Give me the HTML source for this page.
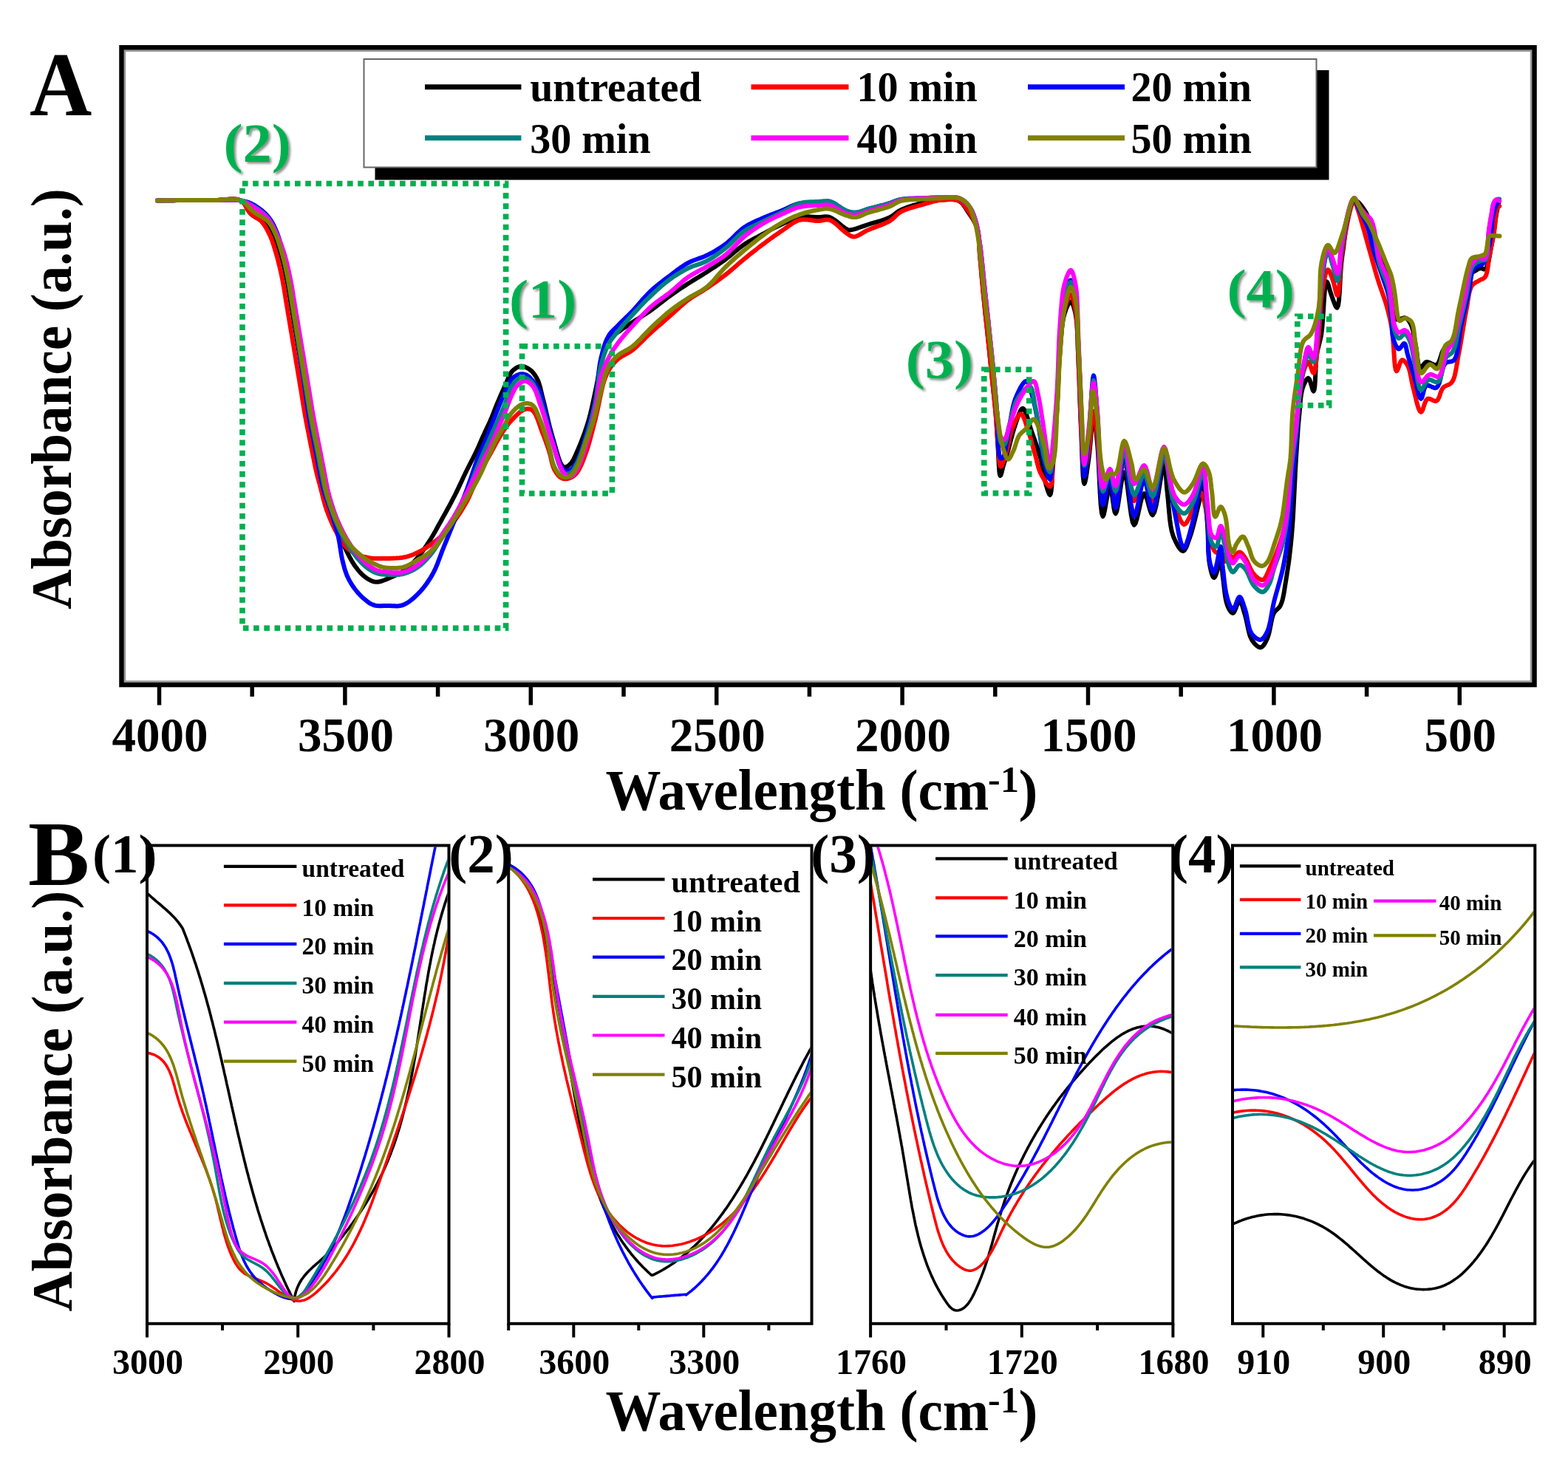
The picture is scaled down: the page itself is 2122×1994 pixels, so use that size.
<!DOCTYPE html>
<html><head><meta charset="utf-8"><title>FTIR spectra</title>
<style>html,body{margin:0;padding:0;background:#fff;} svg{display:block;} text{font-family:'Liberation Serif','Times New Roman',serif;font-weight:bold;}</style>
</head><body>
<svg width="2122" height="1994" viewBox="0 0 2122 1994">
<defs>
<filter id="tsh" x="-20%" y="-20%" width="150%" height="150%"><feDropShadow dx="2.5" dy="2.5" stdDeviation="1.6" flood-color="#000" flood-opacity="0.45"/></filter>
<clipPath id="cA"><rect x="168" y="68" width="1905" height="856"/></clipPath>
<clipPath id="cB1"><rect x="201" y="1146.5" width="404.5" height="643"/></clipPath>
<clipPath id="cB2"><rect x="690" y="1146.5" width="406.5" height="643"/></clipPath>
<clipPath id="cB3"><rect x="1180" y="1146.5" width="405.2" height="643"/></clipPath>
<clipPath id="cB4"><rect x="1670" y="1146.5" width="405.3" height="643"/></clipPath>
</defs>
<rect width="2122" height="1994" fill="#fff"/>

<g clip-path="url(#cA)" fill="none" stroke-width="6" stroke-linejoin="round" stroke-linecap="round">
<path d="M213.0,271.5 L218.3,271.4 L223.5,271.3 L228.8,271.3 L234.0,271.2 L239.3,271.1 L244.6,271.0 L250.0,271.0 L255.7,271.0 L261.4,270.9 L267.1,270.9 L272.9,270.9 L278.7,270.9 L284.4,271.0 L290.0,271.0 L295.4,270.8 L301.0,270.4 L306.6,269.9 L312.1,269.5 L317.3,269.5 L322.0,270.1 L326.0,271.5 L328.6,273.3 L330.8,275.8 L332.6,278.6 L334.3,281.6 L336.0,284.7 L337.8,287.5 L340.0,290.0 L342.6,292.1 L345.5,294.0 L348.6,295.7 L351.7,297.3 L354.7,299.0 L357.5,300.9 L360.0,303.0 L362.0,305.1 L363.7,307.4 L365.4,309.7 L366.8,312.1 L368.3,314.7 L369.6,317.3 L371.0,320.0 L372.6,323.3 L374.0,326.8 L375.4,330.5 L376.8,334.2 L378.1,338.1 L379.3,342.0 L380.5,346.0 L381.8,350.6 L383.1,355.4 L384.3,360.3 L385.4,365.3 L386.5,370.3 L387.5,375.2 L388.5,380.0 L389.3,384.4 L390.1,388.7 L390.8,392.9 L391.5,397.2 L392.1,401.4 L392.8,405.7 L393.5,410.0 L394.2,414.4 L395.0,418.8 L395.7,423.3 L396.5,427.7 L397.2,432.1 L398.0,436.6 L398.7,441.0 L399.4,445.4 L400.2,449.7 L400.9,454.1 L401.6,458.4 L402.3,462.8 L403.1,467.1 L403.8,471.5 L404.5,475.9 L405.3,480.2 L406.0,484.6 L406.7,488.9 L407.4,493.3 L408.2,497.6 L408.9,502.0 L409.6,506.4 L410.4,510.7 L411.1,515.1 L411.8,519.5 L412.5,523.9 L413.3,528.2 L414.0,532.6 L414.7,537.0 L415.4,541.4 L416.1,545.8 L416.8,550.1 L417.5,554.5 L418.3,558.8 L419.0,563.0 L419.7,566.8 L420.4,570.6 L421.1,574.3 L421.8,578.0 L422.6,581.7 L423.3,585.3 L424.0,589.0 L424.7,592.6 L425.4,596.2 L426.1,599.7 L426.9,603.3 L427.6,606.8 L428.3,610.4 L429.0,614.0 L429.7,617.7 L430.4,621.4 L431.1,625.1 L431.9,628.9 L432.6,632.6 L433.3,636.3 L434.0,640.0 L434.7,643.6 L435.4,647.2 L436.1,650.9 L436.7,654.5 L437.5,658.0 L438.2,661.6 L439.0,665.0 L439.8,668.1 L440.6,671.2 L441.4,674.2 L442.3,677.2 L443.2,680.1 L444.1,683.1 L445.0,686.0 L445.9,688.9 L446.9,691.8 L447.9,694.6 L448.9,697.5 L449.9,700.3 L450.9,703.2 L452.0,706.0 L453.1,708.9 L454.2,711.7 L455.3,714.5 L456.4,717.4 L457.6,720.2 L458.8,723.1 L460.0,726.0 L461.3,729.1 L462.7,732.3 L464.1,735.5 L465.5,738.7 L467.0,741.8 L468.5,745.0 L470.0,748.0 L471.5,750.9 L472.9,753.7 L474.5,756.5 L476.0,759.2 L477.6,761.9 L479.3,764.5 L481.0,767.0 L482.7,769.2 L484.4,771.5 L486.2,773.6 L488.1,775.7 L490.0,777.6 L492.0,779.4 L494.0,781.0 L496.0,782.4 L498.0,783.7 L500.0,784.9 L502.2,786.0 L504.3,786.9 L506.5,787.5 L508.8,787.8 L511.4,787.7 L514.1,787.3 L516.8,786.5 L519.6,785.5 L522.4,784.4 L525.2,783.2 L528.0,782.0 L531.0,780.8 L534.0,779.4 L537.1,778.0 L540.1,776.5 L543.0,774.8 L545.9,773.1 L548.6,771.2 L551.2,769.2 L553.6,767.1 L556.0,764.9 L558.3,762.5 L560.5,760.1 L562.8,757.6 L565.0,755.0 L567.5,752.0 L570.0,748.8 L572.4,745.4 L574.8,742.0 L577.2,738.5 L579.5,735.0 L581.8,731.4 L584.2,727.5 L586.6,723.6 L588.9,719.6 L591.1,715.5 L593.4,711.3 L595.7,707.2 L598.0,703.0 L600.4,698.6 L602.9,694.2 L605.3,689.8 L607.8,685.3 L610.2,680.8 L612.6,676.2 L615.0,671.6 L617.5,666.6 L620.0,661.4 L622.5,656.1 L625.0,650.8 L627.4,645.6 L629.7,640.7 L632.0,636.0 L633.8,632.5 L635.5,629.2 L637.1,626.0 L638.7,622.9 L640.3,619.8 L641.9,616.6 L643.5,613.4 L645.1,610.1 L646.6,606.7 L648.1,603.4 L649.6,600.0 L651.0,596.7 L652.5,593.3 L654.0,590.0 L655.5,586.8 L657.0,583.5 L658.5,580.3 L660.0,577.1 L661.5,573.9 L663.0,570.7 L664.4,567.5 L665.7,564.4 L666.9,561.3 L668.1,558.3 L669.3,555.2 L670.5,552.1 L671.7,549.1 L673.0,546.0 L674.3,542.9 L675.6,539.8 L676.9,536.7 L678.3,533.6 L679.7,530.5 L681.1,527.4 L682.5,524.3 L684.0,521.0 L685.4,517.5 L686.9,513.9 L688.4,510.4 L690.0,507.2 L691.7,504.3 L693.6,502.0 L695.1,500.6 L696.8,499.3 L698.5,498.1 L700.2,497.2 L702.0,496.5 L703.8,496.0 L705.5,495.8 L707.2,495.9 L708.9,496.2 L710.7,496.8 L712.4,497.6 L714.1,498.5 L715.8,499.5 L717.3,500.6 L718.9,501.9 L720.5,503.4 L721.9,505.1 L723.3,506.9 L724.6,508.9 L725.9,511.0 L727.1,513.2 L728.6,516.5 L729.8,520.2 L731.0,524.1 L732.0,528.3 L733.0,532.6 L734.1,537.2 L735.3,541.8 L737.0,548.3 L738.6,555.3 L740.3,562.7 L742.1,570.2 L743.9,577.8 L745.9,585.1 L747.9,592.1 L749.8,598.7 L751.8,605.9 L753.9,613.2 L756.0,620.1 L758.2,625.9 L760.6,630.2 L763.0,632.4 L764.5,632.6 L766.0,632.3 L767.6,631.6 L769.1,630.5 L770.6,629.3 L772.0,628.0 L773.4,626.4 L774.7,624.5 L775.9,622.4 L777.1,620.1 L778.2,617.6 L779.4,615.0 L780.6,612.2 L782.7,607.5 L784.9,602.2 L787.2,596.4 L789.5,590.4 L791.7,584.2 L793.8,578.0 L795.7,572.0 L797.4,566.0 L799.0,560.0 L800.4,553.9 L801.8,547.8 L803.1,541.7 L804.4,535.5 L805.8,529.2 L807.2,522.4 L808.6,515.2 L809.9,507.9 L811.2,500.7 L812.6,493.8 L814.1,487.3 L815.8,481.4 L817.1,477.6 L818.3,474.0 L819.6,470.5 L821.0,467.3 L822.5,464.3 L824.1,461.4 L825.9,458.8 L827.6,456.7 L829.5,454.9 L831.5,453.2 L833.6,451.6 L835.7,450.1 L837.9,448.6 L840.0,447.0 L842.2,445.4 L844.3,443.9 L846.6,442.4 L848.8,440.9 L851.1,439.4 L853.5,437.8 L856.0,436.2 L859.3,434.1 L862.7,431.9 L866.4,429.6 L870.0,427.3 L873.7,424.9 L877.4,422.5 L881.0,420.0 L884.6,417.4 L888.2,414.7 L891.7,411.9 L895.3,409.2 L898.8,406.4 L902.4,403.6 L906.0,401.0 L909.5,398.5 L913.1,396.0 L916.6,393.5 L920.2,391.1 L923.8,388.7 L927.4,386.4 L931.0,384.0 L934.7,381.7 L938.4,379.4 L942.1,377.1 L945.9,374.9 L949.6,372.6 L953.3,370.3 L957.0,368.0 L960.6,365.6 L964.2,363.3 L967.8,360.9 L971.4,358.5 L974.9,356.1 L978.5,353.6 L982.0,351.0 L985.6,348.2 L989.2,345.3 L992.7,342.3 L996.2,339.3 L999.8,336.4 L1003.4,333.6 L1007.0,331.0 L1010.5,328.7 L1014.0,326.6 L1017.6,324.6 L1021.2,322.7 L1024.8,320.8 L1028.4,318.9 L1032.0,317.0 L1035.6,315.1 L1039.1,313.1 L1042.7,311.2 L1046.2,309.3 L1049.8,307.5 L1053.4,305.7 L1057.0,304.0 L1060.5,302.3 L1064.1,300.7 L1067.6,299.0 L1071.2,297.4 L1074.7,296.0 L1078.4,294.9 L1082.0,294.0 L1085.7,293.5 L1089.4,293.3 L1093.2,293.3 L1097.0,293.5 L1100.7,293.7 L1104.3,293.9 L1107.6,294.0 L1110.0,293.9 L1112.2,293.7 L1114.3,293.5 L1116.3,293.3 L1118.4,293.3 L1120.5,293.5 L1122.7,294.0 L1125.9,295.5 L1129.4,297.7 L1133.1,300.5 L1136.6,303.4 L1139.9,306.2 L1142.9,308.5 L1145.3,310.0 L1146.9,310.8 L1148.3,311.3 L1150.0,311.4 L1152.5,311.1 L1155.6,310.4 L1159.1,309.3 L1162.9,308.0 L1166.9,306.6 L1170.8,305.3 L1174.6,304.0 L1178.8,302.7 L1183.2,301.4 L1187.7,300.1 L1192.2,298.8 L1196.5,297.3 L1200.5,295.8 L1204.2,294.2 L1206.6,292.9 L1208.7,291.5 L1210.7,290.0 L1212.5,288.5 L1214.5,287.0 L1216.6,285.6 L1219.0,284.3 L1222.6,282.7 L1226.7,281.1 L1231.0,279.5 L1235.4,278.1 L1239.9,276.8 L1244.3,275.6 L1248.5,274.5 L1252.1,273.7 L1255.7,272.9 L1259.2,272.3 L1262.7,271.8 L1266.2,271.4 L1269.7,271.0 L1273.2,270.8 L1276.8,270.6 L1280.6,270.3 L1284.3,270.1 L1288.1,270.1 L1291.6,270.3 L1294.9,270.9 L1297.8,272.0 L1300.0,273.4 L1302.0,275.2 L1303.7,277.2 L1305.3,279.5 L1306.9,281.9 L1308.4,284.4 L1310.0,286.8 L1311.9,289.6 L1313.9,292.5 L1315.9,295.5 L1317.8,298.7 L1319.5,302.0 L1321.1,305.4 L1322.4,309.0 L1323.5,313.5 L1324.3,318.3 L1324.8,323.3 L1325.1,328.5 L1325.3,333.9 L1325.6,339.4 L1326.0,345.0 L1326.7,352.2 L1327.4,359.8 L1328.0,367.6 L1328.7,375.6 L1329.5,383.7 L1330.2,391.9 L1331.0,400.0 L1331.9,408.7 L1332.8,417.7 L1333.7,426.7 L1334.7,435.7 L1335.7,444.7 L1336.6,453.5 L1337.5,462.0 L1338.3,469.3 L1339.0,476.4 L1339.7,483.4 L1340.4,490.3 L1341.1,497.2 L1341.8,504.1 L1342.5,511.0 L1343.2,518.0 L1344.0,525.1 L1344.7,532.1 L1345.5,539.1 L1346.2,546.1 L1346.9,553.1 L1347.5,560.0 L1348.0,566.6 L1348.5,573.1 L1348.9,579.6 L1349.3,586.0 L1349.7,592.4 L1350.1,598.8 L1350.5,605.0 L1350.9,611.4 L1351.2,618.6 L1351.6,625.9 L1352.0,632.8 L1352.4,638.5 L1353.0,642.5 L1353.7,644.0 L1354.2,643.5 L1354.8,642.2 L1355.4,640.2 L1356.0,637.7 L1356.7,635.0 L1357.3,632.4 L1358.0,630.0 L1358.8,627.3 L1359.7,624.6 L1360.6,621.8 L1361.5,618.9 L1362.4,615.9 L1363.3,612.7 L1364.3,609.5 L1365.6,605.0 L1366.9,600.1 L1368.2,594.9 L1369.6,589.7 L1371.0,584.5 L1372.5,579.6 L1374.0,575.0 L1375.3,571.1 L1376.7,566.9 L1378.1,562.7 L1379.6,558.9 L1381.1,555.7 L1382.5,553.6 L1384.0,552.8 L1385.7,554.0 L1387.5,557.3 L1389.3,561.9 L1391.1,567.6 L1392.8,573.6 L1394.6,579.5 L1396.3,584.8 L1398.2,590.0 L1400.1,595.3 L1402.0,600.7 L1403.8,606.1 L1405.6,611.5 L1407.2,616.7 L1408.6,621.8 L1409.6,626.0 L1410.4,630.3 L1411.1,634.4 L1411.7,638.5 L1412.4,642.4 L1413.1,646.3 L1414.0,650.0 L1414.9,653.4 L1415.9,657.2 L1417.0,661.0 L1418.1,664.5 L1419.2,667.4 L1420.2,669.3 L1421.0,670.0 L1421.9,668.5 L1422.6,664.7 L1423.2,659.0 L1423.6,652.2 L1424.1,644.7 L1424.5,637.1 L1425.0,630.0 L1425.8,620.3 L1426.6,609.8 L1427.4,598.6 L1428.3,587.2 L1429.0,575.5 L1429.8,564.0 L1430.5,552.7 L1431.1,541.5 L1431.6,530.2 L1432.1,518.8 L1432.6,507.5 L1433.1,496.4 L1433.7,485.8 L1434.5,475.6 L1435.1,467.6 L1435.7,459.5 L1436.4,451.7 L1437.1,444.1 L1438.0,437.1 L1439.1,430.6 L1440.5,425.0 L1441.6,421.7 L1442.7,418.4 L1444.0,415.3 L1445.4,412.4 L1446.7,410.2 L1447.9,408.7 L1449.1,408.2 L1450.1,408.8 L1451.2,410.3 L1452.1,412.5 L1453.1,415.2 L1453.9,418.4 L1454.8,421.7 L1455.5,425.0 L1456.6,431.9 L1457.5,440.1 L1458.0,449.3 L1458.4,459.1 L1458.7,469.4 L1459.1,479.8 L1459.5,490.0 L1460.1,502.2 L1460.6,514.9 L1461.0,528.0 L1461.5,541.2 L1461.9,554.5 L1462.4,567.5 L1463.0,580.0 L1463.5,592.4 L1464.0,606.2 L1464.5,620.4 L1465.1,633.5 L1465.7,644.5 L1466.5,652.0 L1467.4,654.8 L1468.1,653.6 L1469.0,650.2 L1469.9,645.3 L1470.8,639.2 L1471.7,632.6 L1472.7,626.1 L1473.5,620.0 L1474.5,611.5 L1475.5,601.2 L1476.4,590.3 L1477.3,579.7 L1478.2,570.8 L1479.1,564.6 L1480.0,562.3 L1480.7,563.6 L1481.5,567.0 L1482.2,572.2 L1482.9,578.6 L1483.6,585.7 L1484.3,593.0 L1485.0,600.0 L1486.0,613.4 L1486.9,630.6 L1487.8,649.5 L1488.7,667.9 L1489.7,683.7 L1491.0,694.8 L1492.5,699.1 L1493.7,696.9 L1495.0,691.2 L1496.4,683.3 L1497.9,674.6 L1499.4,666.7 L1500.8,660.9 L1502.1,658.7 L1503.3,660.7 L1504.4,666.0 L1505.4,673.1 L1506.5,680.9 L1507.5,688.1 L1508.6,693.3 L1509.8,695.3 L1511.3,692.2 L1512.9,684.2 L1514.6,673.3 L1516.3,661.4 L1518.0,650.5 L1519.7,642.5 L1521.4,639.4 L1523.3,643.3 L1525.1,653.5 L1526.9,667.4 L1528.8,682.5 L1530.7,696.4 L1532.7,706.7 L1534.9,710.7 L1536.7,708.4 L1538.6,702.4 L1540.5,694.2 L1542.5,685.1 L1544.4,676.8 L1546.4,670.7 L1548.4,668.3 L1550.0,669.9 L1551.7,674.0 L1553.4,679.7 L1555.0,685.9 L1556.7,691.6 L1558.3,695.7 L1559.9,697.2 L1562.3,693.3 L1564.8,683.6 L1567.2,670.4 L1569.5,656.1 L1571.7,642.9 L1573.7,633.4 L1575.3,629.7 L1576.3,631.2 L1577.0,635.1 L1577.7,640.9 L1578.2,647.9 L1578.7,655.4 L1579.3,662.8 L1580.0,669.5 L1580.8,677.2 L1581.5,685.5 L1582.3,694.2 L1583.1,702.8 L1584.2,711.0 L1585.6,718.5 L1587.5,725.0 L1589.1,729.1 L1591.0,733.2 L1593.0,737.2 L1595.1,740.7 L1597.2,743.5 L1599.2,745.4 L1601.0,746.0 L1602.4,745.3 L1603.8,743.7 L1605.1,741.2 L1606.4,738.2 L1607.6,734.8 L1608.8,731.4 L1610.0,728.0 L1611.9,722.6 L1613.7,716.3 L1615.5,709.5 L1617.3,702.5 L1619.0,695.6 L1620.5,689.0 L1622.0,683.0 L1623.0,678.5 L1623.9,673.7 L1624.8,668.9 L1625.7,664.4 L1626.5,660.8 L1627.2,658.4 L1628.0,657.5 L1629.0,659.5 L1630.0,664.9 L1630.9,672.7 L1631.8,682.0 L1632.6,691.9 L1633.3,701.5 L1634.0,710.0 L1634.5,717.9 L1634.8,726.2 L1635.0,734.6 L1635.2,742.9 L1635.6,750.7 L1636.1,757.8 L1637.0,764.0 L1637.7,767.4 L1638.4,770.9 L1639.2,774.3 L1640.1,777.3 L1641.0,779.7 L1642.0,781.4 L1643.0,782.0 L1644.2,780.9 L1645.6,777.8 L1647.0,773.7 L1648.4,769.2 L1649.8,765.1 L1651.0,762.1 L1652.0,761.0 L1652.7,761.8 L1653.2,763.9 L1653.6,766.9 L1653.9,770.5 L1654.2,774.4 L1654.6,778.3 L1655.0,782.0 L1655.7,787.0 L1656.3,792.6 L1657.0,798.6 L1657.7,804.5 L1658.6,810.2 L1659.7,815.2 L1661.0,819.4 L1661.9,821.5 L1662.9,823.7 L1664.0,825.7 L1665.1,827.4 L1666.3,828.8 L1667.4,829.7 L1668.5,830.0 L1669.8,829.0 L1671.1,826.6 L1672.5,823.3 L1673.8,819.8 L1675.1,816.6 L1676.3,814.3 L1677.5,813.4 L1678.7,814.2 L1679.8,816.1 L1680.9,818.8 L1681.9,822.2 L1682.9,825.9 L1684.0,829.6 L1685.0,833.0 L1686.2,837.4 L1687.3,842.4 L1688.4,847.6 L1689.5,852.9 L1690.7,857.8 L1692.2,862.3 L1694.0,866.0 L1695.5,868.2 L1697.2,870.4 L1699.0,872.4 L1700.8,874.1 L1702.6,875.4 L1704.4,876.2 L1706.0,876.4 L1707.4,875.9 L1708.8,874.8 L1710.2,873.2 L1711.5,871.3 L1712.7,869.1 L1713.9,866.7 L1715.0,864.4 L1716.5,860.3 L1717.8,855.4 L1718.9,849.9 L1720.0,844.3 L1721.1,838.8 L1722.4,834.0 L1724.0,830.0 L1725.2,828.1 L1726.5,826.6 L1727.9,825.3 L1729.2,824.1 L1730.6,822.8 L1731.9,821.3 L1733.0,819.4 L1734.5,815.7 L1735.8,811.4 L1736.8,806.7 L1737.8,801.6 L1738.6,796.2 L1739.5,790.6 L1740.4,785.0 L1741.6,777.5 L1742.8,769.6 L1744.0,761.4 L1745.1,752.8 L1746.1,743.9 L1747.1,734.6 L1748.0,725.0 L1749.1,711.3 L1750.1,696.2 L1750.9,680.3 L1751.7,664.2 L1752.5,648.4 L1753.2,633.5 L1754.0,620.0 L1754.6,611.1 L1755.1,602.7 L1755.6,594.7 L1756.2,587.0 L1756.7,579.6 L1757.3,572.2 L1758.0,565.0 L1758.6,558.7 L1759.1,552.4 L1759.6,546.2 L1760.1,540.2 L1760.9,534.6 L1761.8,529.4 L1763.0,525.0 L1763.9,522.4 L1765.0,519.8 L1766.1,517.4 L1767.2,515.2 L1768.4,513.4 L1769.5,512.3 L1770.6,511.9 L1771.7,512.9 L1772.8,515.5 L1773.9,519.0 L1775.0,522.7 L1776.0,526.2 L1776.9,528.6 L1777.7,529.5 L1778.7,527.4 L1779.4,522.0 L1779.9,514.3 L1780.3,505.3 L1780.7,495.9 L1781.2,487.2 L1782.0,480.0 L1782.8,475.7 L1783.7,471.8 L1784.6,468.1 L1785.6,464.4 L1786.5,460.6 L1787.5,456.5 L1788.3,451.9 L1789.4,442.3 L1790.3,430.0 L1791.2,416.6 L1792.0,403.5 L1792.9,392.2 L1793.9,384.3 L1795.3,381.2 L1796.1,381.9 L1797.0,383.8 L1798.0,386.6 L1798.9,390.0 L1799.9,393.6 L1801.0,397.0 L1802.0,400.0 L1803.0,402.7 L1804.1,405.9 L1805.3,409.1 L1806.4,412.0 L1807.5,414.5 L1808.6,416.1 L1809.5,416.6 L1811.0,413.7 L1812.0,406.5 L1812.8,396.0 L1813.5,383.6 L1814.2,370.3 L1815.2,357.4 L1816.5,346.0 L1818.2,334.2 L1819.9,320.8 L1821.8,306.9 L1824.0,293.8 L1826.4,282.6 L1829.2,274.6 L1832.4,271.0 L1834.3,271.1 L1836.4,272.2 L1838.6,274.1 L1840.9,276.6 L1843.1,279.4 L1845.2,282.3 L1847.0,285.0 L1848.8,288.0 L1850.4,291.3 L1851.9,294.8 L1853.2,298.5 L1854.5,302.2 L1855.7,306.1 L1857.0,310.0 L1858.5,314.7 L1859.9,319.6 L1861.3,324.6 L1862.7,329.8 L1864.1,334.9 L1865.5,340.0 L1867.0,345.0 L1868.6,349.8 L1870.2,354.5 L1871.9,359.2 L1873.6,363.9 L1875.2,368.6 L1876.7,373.3 L1878.0,378.0 L1879.1,382.6 L1880.1,387.3 L1881.0,392.0 L1881.8,396.7 L1882.5,401.3 L1883.3,405.7 L1884.0,410.0 L1884.5,413.6 L1884.9,417.4 L1885.2,421.2 L1885.6,424.8 L1886.1,427.9 L1886.9,430.4 L1888.0,432.0 L1889.4,432.6 L1891.0,432.6 L1892.8,432.2 L1894.5,431.9 L1896.0,431.6 L1897.5,431.0 L1899.1,430.5 L1900.6,430.2 L1902.0,430.4 L1903.2,431.0 L1904.4,431.9 L1905.5,433.0 L1906.6,434.4 L1907.6,436.0 L1908.6,437.6 L1909.5,439.4 L1910.8,442.6 L1911.9,446.3 L1912.8,450.4 L1913.6,454.8 L1914.4,459.3 L1915.2,463.7 L1916.0,468.0 L1916.8,472.7 L1917.5,478.1 L1918.1,483.6 L1918.8,488.8 L1919.6,493.3 L1920.7,496.5 L1922.0,498.0 L1923.0,497.8 L1924.0,496.9 L1925.2,495.4 L1926.4,493.7 L1927.6,492.1 L1929.0,490.7 L1930.4,490.0 L1932.2,490.0 L1934.1,490.7 L1936.2,491.7 L1938.3,492.8 L1940.4,493.8 L1942.3,494.2 L1944.0,494.0 L1945.7,492.5 L1947.2,490.0 L1948.5,486.9 L1949.6,483.3 L1950.7,479.8 L1951.8,476.6 L1953.0,474.0 L1954.0,472.4 L1955.0,470.9 L1955.9,469.5 L1956.9,468.2 L1957.9,467.1 L1959.0,466.0 L1960.5,465.0 L1962.0,464.2 L1963.6,463.4 L1965.0,461.9 L1966.6,458.9 L1968.0,454.8 L1969.2,450.0 L1970.4,444.6 L1971.5,438.9 L1972.7,433.1 L1974.0,427.4 L1975.7,419.6 L1977.4,410.7 L1979.1,401.3 L1981.0,392.0 L1982.9,383.6 L1985.0,376.7 L1987.4,372.0 L1988.8,370.4 L1990.3,369.4 L1991.8,368.7 L1993.4,368.1 L1995.0,367.4 L1996.4,366.6 L1998.0,365.6 L1999.5,364.7 L2001.0,363.9 L2002.5,363.3 L2003.9,363.0 L2005.5,363.3 L2007.0,364.0 L2008.5,364.6 L2009.9,364.4 L2011.6,362.3 L2013.1,358.5 L2014.5,353.5 L2015.7,347.8 L2016.8,341.6 L2017.8,335.5 L2018.9,330.0 L2020.0,324.3 L2020.9,318.4 L2021.8,312.3 L2022.6,306.3 L2023.4,300.4 L2024.2,295.0 L2025.0,290.0 L2025.6,286.9 L2026.2,284.1 L2026.7,281.4 L2027.3,278.8 L2027.9,276.2 L2028.4,273.7 L2029.0,271.0" stroke="#000000"/>
<path d="M213.0,271.5 L218.3,271.4 L223.5,271.3 L228.8,271.3 L234.0,271.2 L239.3,271.1 L244.6,271.0 L250.0,271.0 L255.7,271.0 L261.4,270.9 L267.1,270.9 L272.9,270.9 L278.7,270.9 L284.4,271.0 L290.0,271.0 L295.4,270.8 L301.1,270.4 L306.8,269.9 L312.3,269.6 L317.4,269.6 L322.1,270.1 L326.0,271.5 L328.4,273.2 L330.3,275.3 L331.8,277.8 L333.2,280.5 L334.6,283.2 L336.2,285.8 L338.0,288.0 L340.1,289.9 L342.4,291.6 L344.8,293.2 L347.3,294.7 L349.7,296.3 L352.0,298.0 L354.0,300.0 L355.9,302.2 L357.6,304.6 L359.2,307.0 L360.8,309.6 L362.2,312.3 L363.6,315.1 L365.0,318.0 L366.6,321.6 L368.1,325.4 L369.4,329.3 L370.8,333.4 L372.0,337.6 L373.3,341.8 L374.5,346.0 L375.8,350.7 L377.0,355.5 L378.2,360.4 L379.4,365.4 L380.5,370.3 L381.5,375.2 L382.5,380.0 L383.3,384.4 L384.1,388.7 L384.8,392.9 L385.5,397.2 L386.1,401.4 L386.8,405.7 L387.5,410.0 L388.2,414.4 L389.0,418.8 L389.7,423.3 L390.5,427.7 L391.2,432.1 L392.0,436.6 L392.7,441.0 L393.4,445.4 L394.2,449.7 L394.9,454.1 L395.6,458.4 L396.3,462.8 L397.1,467.1 L397.8,471.5 L398.5,475.9 L399.3,480.2 L400.0,484.6 L400.7,488.9 L401.4,493.3 L402.2,497.6 L402.9,502.0 L403.6,506.4 L404.4,510.7 L405.1,515.1 L405.8,519.5 L406.5,523.9 L407.3,528.2 L408.0,532.6 L408.7,537.0 L409.4,541.4 L410.1,545.8 L410.8,550.1 L411.5,554.5 L412.3,558.8 L413.0,563.0 L413.7,566.8 L414.4,570.6 L415.1,574.3 L415.8,578.0 L416.6,581.7 L417.3,585.3 L418.0,589.0 L418.7,592.6 L419.4,596.2 L420.1,599.8 L420.8,603.3 L421.6,606.9 L422.3,610.5 L423.0,614.0 L423.7,617.5 L424.4,620.9 L425.1,624.4 L425.8,627.8 L426.5,631.2 L427.2,634.6 L428.0,638.0 L428.8,641.3 L429.6,644.6 L430.5,647.9 L431.4,651.2 L432.3,654.4 L433.1,657.7 L434.0,661.0 L434.8,664.3 L435.7,667.6 L436.5,671.0 L437.3,674.3 L438.2,677.6 L439.1,680.8 L440.0,684.0 L440.9,686.8 L441.8,689.6 L442.8,692.3 L443.8,695.0 L444.8,697.7 L445.9,700.3 L447.0,703.0 L448.2,705.7 L449.4,708.5 L450.6,711.2 L451.9,714.0 L453.2,716.7 L454.6,719.4 L456.0,722.0 L457.5,724.7 L459.1,727.4 L460.7,730.2 L462.4,732.9 L464.1,735.4 L466.0,737.8 L467.9,740.0 L469.7,741.8 L471.6,743.4 L473.6,745.0 L475.6,746.4 L477.7,747.7 L479.8,748.9 L482.0,750.0 L484.2,751.0 L486.6,751.9 L488.9,752.7 L491.3,753.4 L493.8,754.0 L496.3,754.5 L498.8,755.0 L501.5,755.4 L504.2,755.7 L507.0,755.9 L509.8,756.0 L512.7,756.0 L515.6,756.0 L518.7,756.0 L522.7,756.0 L527.1,755.9 L531.6,755.7 L536.1,755.5 L540.6,755.2 L544.8,754.7 L548.6,754.0 L551.3,753.4 L553.8,752.7 L556.1,751.9 L558.4,751.0 L560.7,750.1 L562.9,749.1 L565.2,748.0 L567.6,746.8 L570.0,745.5 L572.4,744.1 L574.8,742.7 L577.1,741.2 L579.5,739.6 L581.8,738.0 L584.2,736.3 L586.6,734.5 L589.0,732.7 L591.4,730.9 L593.8,728.9 L596.1,726.9 L598.4,724.7 L600.9,722.2 L603.3,719.6 L605.7,716.8 L608.1,714.0 L610.4,711.1 L612.7,708.1 L615.0,705.0 L617.5,701.6 L619.9,698.1 L622.3,694.5 L624.7,690.8 L627.0,687.0 L629.3,683.0 L631.6,679.0 L634.1,674.2 L636.4,669.1 L638.7,663.9 L641.0,658.6 L643.3,653.3 L645.6,648.0 L648.0,643.0 L650.3,638.4 L652.8,633.8 L655.2,629.3 L657.6,624.8 L660.1,620.5 L662.5,616.2 L664.8,612.0 L666.8,608.3 L668.8,604.7 L670.7,601.1 L672.7,597.6 L674.6,594.3 L676.5,591.0 L678.3,588.0 L679.7,585.7 L681.1,583.6 L682.5,581.5 L683.9,579.5 L685.2,577.6 L686.6,575.8 L688.0,574.0 L689.2,572.5 L690.4,571.1 L691.6,569.8 L692.8,568.5 L694.0,567.2 L695.2,565.9 L696.4,564.7 L697.6,563.5 L698.8,562.3 L700.0,561.1 L701.2,560.0 L702.5,558.9 L703.7,557.9 L705.0,557.0 L706.6,556.0 L708.2,555.1 L709.8,554.3 L711.5,553.7 L713.1,553.5 L714.8,553.5 L716.5,553.7 L718.2,554.2 L719.9,555.1 L721.5,556.3 L723.5,558.9 L725.5,562.5 L727.3,566.8 L729.1,571.6 L730.8,576.5 L732.4,581.3 L734.0,585.6 L735.4,589.2 L736.8,592.7 L738.1,596.1 L739.3,599.6 L740.5,603.0 L741.7,606.5 L742.9,610.0 L744.0,613.8 L745.0,617.7 L745.9,621.7 L746.8,625.7 L747.8,629.4 L749.0,632.9 L750.4,636.0 L751.6,638.1 L752.9,640.1 L754.3,642.0 L755.8,643.8 L757.3,645.3 L758.9,646.5 L760.5,647.4 L762.1,648.0 L763.7,648.2 L765.5,648.3 L767.2,648.2 L768.9,647.9 L770.5,647.4 L772.0,646.8 L773.5,646.1 L775.0,645.2 L776.4,644.2 L777.9,642.9 L779.3,641.6 L780.6,640.0 L782.6,637.1 L784.5,633.7 L786.4,629.9 L788.2,625.7 L789.9,621.3 L791.5,616.8 L793.2,612.2 L795.2,606.4 L797.0,600.3 L798.8,594.0 L800.5,587.5 L802.3,580.7 L804.0,573.9 L805.8,567.0 L807.8,558.5 L809.8,549.4 L811.7,539.9 L813.7,530.6 L815.8,521.6 L818.2,513.6 L820.9,506.7 L822.8,503.0 L824.7,499.7 L826.7,496.7 L828.8,493.9 L831.1,491.3 L833.4,488.9 L835.9,486.5 L838.5,484.4 L841.2,482.6 L844.1,481.0 L847.1,479.4 L850.1,477.8 L853.0,476.0 L856.0,473.9 L859.5,471.0 L863.1,467.7 L866.7,464.2 L870.3,460.6 L873.9,457.0 L877.6,453.4 L881.2,450.0 L884.8,446.8 L888.4,443.6 L892.0,440.5 L895.6,437.4 L899.2,434.2 L902.8,431.1 L906.4,428.0 L910.0,424.8 L913.5,421.6 L917.1,418.3 L920.6,415.1 L924.2,411.9 L927.8,408.9 L931.5,406.0 L935.0,403.5 L938.6,401.1 L942.2,398.9 L945.9,396.7 L949.5,394.6 L953.1,392.3 L956.7,390.0 L960.3,387.5 L963.9,385.1 L967.5,382.5 L971.1,380.0 L974.7,377.4 L978.3,374.7 L981.8,372.0 L985.4,369.1 L989.0,366.1 L992.6,363.0 L996.2,359.9 L999.8,356.8 L1003.4,353.7 L1007.0,350.7 L1010.6,347.8 L1014.1,344.9 L1017.7,342.1 L1021.3,339.3 L1024.9,336.5 L1028.5,333.7 L1032.1,331.0 L1035.7,328.3 L1039.2,325.7 L1042.8,323.1 L1046.4,320.5 L1050.0,317.9 L1053.7,315.4 L1057.3,313.0 L1060.8,310.6 L1064.4,308.0 L1067.9,305.4 L1071.5,303.0 L1075.1,300.8 L1078.7,299.0 L1082.4,297.8 L1086.0,297.2 L1089.7,297.2 L1093.4,297.5 L1097.2,298.0 L1100.8,298.5 L1104.3,299.0 L1107.6,299.1 L1110.0,298.9 L1112.2,298.5 L1114.3,298.1 L1116.4,297.6 L1118.4,297.4 L1120.5,297.4 L1122.7,297.8 L1125.9,299.2 L1129.2,301.5 L1132.7,304.4 L1136.1,307.5 L1139.4,310.6 L1142.5,313.3 L1145.3,315.4 L1146.9,316.5 L1148.3,317.5 L1149.7,318.4 L1151.0,319.2 L1152.4,319.9 L1153.8,320.3 L1155.4,320.5 L1157.8,320.2 L1160.3,319.3 L1163.0,317.9 L1165.7,316.3 L1168.6,314.6 L1171.6,312.9 L1174.6,311.4 L1178.6,309.7 L1182.9,308.1 L1187.4,306.4 L1192.0,304.7 L1196.4,302.9 L1200.5,301.1 L1204.2,299.1 L1206.6,297.4 L1208.7,295.6 L1210.7,293.8 L1212.5,291.9 L1214.4,290.1 L1216.6,288.4 L1219.0,286.8 L1222.6,285.0 L1226.6,283.4 L1230.9,282.0 L1235.4,280.6 L1239.9,279.4 L1244.3,278.2 L1248.5,277.0 L1252.1,275.9 L1255.7,274.8 L1259.2,273.8 L1262.7,272.8 L1266.2,272.0 L1269.7,271.3 L1273.2,270.8 L1276.8,270.5 L1280.5,270.2 L1284.3,270.0 L1288.0,270.0 L1291.6,270.3 L1294.9,271.0 L1297.8,272.0 L1300.0,273.2 L1301.9,274.7 L1303.7,276.5 L1305.3,278.4 L1306.9,280.5 L1308.4,282.7 L1310.0,285.0 L1312.0,287.9 L1314.0,291.0 L1316.0,294.3 L1317.8,297.8 L1319.6,301.4 L1321.1,305.1 L1322.4,309.0 L1323.5,313.6 L1324.3,318.4 L1324.7,323.4 L1325.0,328.6 L1325.3,333.9 L1325.6,339.4 L1326.0,345.0 L1326.7,352.2 L1327.4,359.8 L1328.0,367.6 L1328.7,375.6 L1329.5,383.7 L1330.2,391.9 L1331.0,400.0 L1331.9,408.7 L1332.8,417.7 L1333.7,426.7 L1334.7,435.7 L1335.7,444.7 L1336.6,453.5 L1337.5,462.0 L1338.3,469.3 L1339.0,476.4 L1339.7,483.4 L1340.4,490.3 L1341.1,497.2 L1341.8,504.1 L1342.5,511.0 L1343.2,518.0 L1344.0,525.1 L1344.7,532.3 L1345.5,539.3 L1346.2,546.4 L1346.9,553.3 L1347.5,560.0 L1348.0,566.0 L1348.4,571.9 L1348.8,577.7 L1349.2,583.4 L1349.6,589.0 L1350.0,594.6 L1350.5,600.0 L1350.9,605.3 L1351.4,611.1 L1351.8,617.0 L1352.2,622.6 L1352.8,627.2 L1353.5,630.3 L1354.4,631.6 L1355.3,631.0 L1356.3,629.1 L1357.4,626.3 L1358.6,622.9 L1359.8,619.2 L1360.9,615.4 L1362.0,612.0 L1363.2,607.8 L1364.2,603.2 L1365.2,598.4 L1366.2,593.5 L1367.3,588.7 L1368.5,584.2 L1370.0,580.0 L1371.4,576.5 L1373.0,572.7 L1374.7,568.9 L1376.5,565.5 L1378.2,562.7 L1379.9,560.8 L1381.5,560.2 L1383.1,561.2 L1384.7,563.7 L1386.3,567.3 L1387.8,571.6 L1389.2,576.2 L1390.6,580.8 L1392.0,585.0 L1393.5,589.3 L1394.9,593.9 L1396.2,598.6 L1397.5,603.3 L1398.7,607.9 L1400.0,612.5 L1401.2,616.8 L1402.2,620.3 L1403.0,623.8 L1403.8,627.2 L1404.7,630.5 L1405.6,633.8 L1406.7,636.9 L1408.0,640.0 L1409.6,643.2 L1411.6,646.8 L1413.7,650.5 L1415.8,653.8 L1417.9,656.5 L1419.7,658.3 L1421.2,658.7 L1422.5,657.0 L1423.4,653.2 L1423.9,647.7 L1424.1,641.1 L1424.3,633.9 L1424.6,626.7 L1425.0,620.0 L1425.8,611.4 L1426.6,602.3 L1427.4,592.7 L1428.2,582.8 L1429.0,572.8 L1429.8,562.7 L1430.5,552.7 L1431.1,541.9 L1431.7,530.7 L1432.2,519.4 L1432.7,508.0 L1433.2,496.9 L1433.8,486.0 L1434.5,475.6 L1435.2,466.9 L1435.8,458.3 L1436.4,449.7 L1437.2,441.5 L1438.1,433.6 L1439.2,426.4 L1440.5,420.0 L1441.6,416.0 L1442.7,411.8 L1444.0,407.7 L1445.4,404.1 L1446.7,401.1 L1447.9,399.2 L1449.1,398.5 L1450.1,399.2 L1451.2,401.2 L1452.1,404.1 L1453.1,407.6 L1453.9,411.7 L1454.8,415.9 L1455.5,420.0 L1456.6,427.8 L1457.3,436.8 L1457.9,446.8 L1458.3,457.4 L1458.7,468.3 L1459.1,479.3 L1459.5,490.0 L1460.0,501.8 L1460.5,514.0 L1461.0,526.5 L1461.4,539.0 L1461.9,551.3 L1462.4,563.4 L1463.0,575.0 L1463.5,585.8 L1464.0,597.8 L1464.5,609.9 L1465.1,621.2 L1465.7,630.6 L1466.5,637.0 L1467.4,639.4 L1468.1,638.4 L1469.0,635.6 L1469.9,631.4 L1470.8,626.4 L1471.8,620.8 L1472.7,615.2 L1473.5,610.0 L1474.5,602.3 L1475.5,592.8 L1476.4,582.6 L1477.3,572.8 L1478.2,564.5 L1479.1,558.7 L1480.0,556.5 L1480.7,557.6 L1481.4,560.8 L1482.2,565.4 L1482.9,571.1 L1483.6,577.4 L1484.3,583.9 L1485.0,590.0 L1485.9,600.8 L1486.7,614.4 L1487.4,629.2 L1488.3,643.6 L1489.3,656.0 L1490.7,664.7 L1492.5,668.3 L1493.7,667.4 L1495.0,664.9 L1496.5,661.2 L1497.9,657.3 L1499.4,653.6 L1500.8,651.0 L1502.1,650.0 L1503.3,651.4 L1504.5,654.7 L1505.6,659.2 L1506.6,664.1 L1507.7,668.5 L1508.7,671.8 L1509.8,673.0 L1511.4,670.3 L1513.0,663.4 L1514.7,654.0 L1516.3,643.9 L1518.0,634.5 L1519.7,627.7 L1521.4,625.0 L1523.2,627.9 L1525.0,635.4 L1526.8,645.7 L1528.7,656.9 L1530.6,667.3 L1532.7,674.9 L1534.9,678.0 L1536.7,676.6 L1538.6,672.6 L1540.6,667.1 L1542.6,661.1 L1544.6,655.5 L1546.6,651.5 L1548.4,650.0 L1550.2,651.7 L1551.9,656.1 L1553.5,661.9 L1555.1,668.3 L1556.7,674.2 L1558.3,678.4 L1559.9,680.0 L1562.1,676.6 L1564.4,668.0 L1566.6,656.2 L1568.9,643.5 L1571.0,631.8 L1573.2,623.3 L1575.3,620.0 L1577.3,622.5 L1579.2,629.1 L1581.0,638.5 L1582.8,649.5 L1584.7,661.0 L1586.8,671.5 L1589.0,680.0 L1590.8,685.4 L1592.6,691.1 L1594.5,696.7 L1596.5,701.8 L1598.5,706.0 L1600.5,708.9 L1602.5,710.0 L1604.2,709.3 L1605.9,707.4 L1607.7,704.4 L1609.5,700.9 L1611.2,697.1 L1612.9,693.3 L1614.5,690.0 L1616.1,686.4 L1617.8,682.2 L1619.4,677.9 L1620.9,673.7 L1622.4,670.2 L1623.7,667.9 L1625.0,667.0 L1625.8,667.4 L1626.6,668.6 L1627.3,670.3 L1628.0,672.4 L1628.6,674.8 L1629.3,677.4 L1630.0,680.0 L1631.4,686.5 L1632.7,694.9 L1634.1,704.5 L1635.4,714.4 L1636.8,723.8 L1638.3,731.9 L1640.0,738.0 L1640.8,740.1 L1641.6,742.0 L1642.4,743.7 L1643.2,745.3 L1644.1,746.5 L1645.0,747.4 L1646.0,748.0 L1647.4,747.9 L1649.0,747.0 L1650.6,746.1 L1652.0,746.0 L1653.1,747.1 L1654.0,749.3 L1654.8,751.9 L1655.5,754.8 L1656.3,757.3 L1657.1,759.2 L1658.0,760.0 L1658.9,759.5 L1659.9,758.1 L1660.9,756.2 L1662.0,754.3 L1663.0,752.7 L1664.0,752.0 L1665.4,752.7 L1666.9,754.2 L1668.5,755.0 L1669.6,754.5 L1670.9,753.4 L1672.2,751.9 L1673.6,750.3 L1674.9,748.8 L1676.3,747.8 L1677.5,747.4 L1678.6,747.7 L1679.7,748.4 L1680.8,749.4 L1681.8,750.6 L1682.9,752.0 L1683.9,753.5 L1685.0,755.0 L1686.6,757.6 L1688.3,760.9 L1689.9,764.4 L1691.5,768.1 L1693.2,771.6 L1695.0,774.8 L1697.0,777.4 L1698.6,779.1 L1700.3,780.7 L1702.2,782.3 L1704.0,783.6 L1705.8,784.5 L1707.5,785.0 L1709.0,785.0 L1710.5,784.2 L1711.9,782.7 L1713.2,780.6 L1714.4,778.1 L1715.6,775.4 L1716.8,772.7 L1718.0,770.0 L1719.7,766.4 L1721.5,762.6 L1723.3,758.5 L1725.1,754.3 L1726.8,750.0 L1728.5,745.7 L1730.0,741.4 L1731.5,737.1 L1732.9,733.0 L1734.2,728.8 L1735.5,724.6 L1736.7,720.1 L1737.9,715.2 L1739.0,710.0 L1740.6,700.9 L1742.1,690.7 L1743.4,679.7 L1744.6,668.3 L1745.8,656.8 L1746.9,645.6 L1748.0,635.0 L1749.0,626.0 L1749.8,617.2 L1750.7,608.5 L1751.5,600.0 L1752.3,591.5 L1753.1,583.2 L1754.0,575.0 L1754.8,567.5 L1755.6,559.9 L1756.5,552.3 L1757.3,545.0 L1758.2,537.9 L1759.1,531.2 L1760.0,525.0 L1760.6,520.9 L1761.3,516.9 L1761.9,513.0 L1762.5,509.4 L1763.3,506.0 L1764.1,502.9 L1765.0,500.0 L1765.7,498.1 L1766.5,496.2 L1767.3,494.3 L1768.1,492.6 L1768.9,491.2 L1769.8,490.3 L1770.6,490.0 L1771.6,490.9 L1772.7,493.1 L1773.7,496.0 L1774.8,499.2 L1775.8,502.2 L1776.8,504.3 L1777.7,505.0 L1779.0,503.2 L1780.0,498.8 L1780.9,492.3 L1781.7,484.6 L1782.5,476.1 L1783.2,467.7 L1784.0,460.0 L1784.9,450.5 L1785.7,440.1 L1786.4,429.2 L1787.1,418.3 L1787.8,407.8 L1788.8,398.3 L1790.0,390.0 L1790.8,385.3 L1791.8,380.5 L1792.7,375.8 L1793.7,371.6 L1794.8,368.2 L1795.9,365.9 L1797.0,365.0 L1797.9,365.5 L1799.0,366.9 L1800.0,369.1 L1801.0,371.8 L1802.1,374.6 L1803.1,377.4 L1804.0,380.0 L1805.0,383.0 L1805.9,386.7 L1806.8,390.5 L1807.6,394.1 L1808.5,397.2 L1809.2,399.3 L1810.0,400.0 L1811.1,397.7 L1812.0,391.6 L1812.7,382.7 L1813.4,372.1 L1814.2,360.8 L1815.2,349.8 L1816.5,340.0 L1818.3,329.3 L1820.5,316.9 L1822.9,304.1 L1825.4,292.0 L1827.9,281.8 L1830.3,274.7 L1832.4,272.0 L1833.3,272.4 L1834.1,273.7 L1834.9,275.5 L1835.7,277.8 L1836.5,280.3 L1837.2,282.8 L1838.0,285.0 L1838.8,287.4 L1839.6,289.9 L1840.4,292.5 L1841.2,295.2 L1841.9,297.9 L1842.7,300.8 L1843.6,303.9 L1844.9,308.4 L1846.3,313.3 L1847.7,318.4 L1849.2,323.8 L1850.7,329.2 L1852.2,334.6 L1853.7,339.9 L1855.3,345.5 L1856.8,351.1 L1858.4,356.8 L1860.0,362.5 L1861.6,368.2 L1863.2,373.7 L1864.9,379.2 L1866.5,384.2 L1868.2,389.1 L1869.9,394.0 L1871.6,398.8 L1873.2,403.5 L1874.8,408.3 L1876.2,412.9 L1877.4,417.1 L1878.5,421.2 L1879.5,425.4 L1880.5,429.4 L1881.4,433.4 L1882.2,437.3 L1882.9,441.0 L1883.4,443.8 L1883.7,446.4 L1884.0,448.9 L1884.3,451.5 L1884.6,454.1 L1884.9,456.8 L1885.2,459.9 L1885.7,465.8 L1886.2,473.2 L1886.7,481.2 L1887.2,488.9 L1887.9,495.6 L1888.8,500.4 L1890.0,502.3 L1890.9,501.6 L1891.8,499.6 L1892.9,496.7 L1894.0,493.5 L1895.1,490.5 L1896.3,488.3 L1897.5,487.3 L1898.5,487.4 L1899.6,488.0 L1900.7,488.9 L1901.9,490.2 L1903.0,491.6 L1904.0,493.2 L1905.0,494.8 L1906.4,497.9 L1907.6,501.8 L1908.6,506.1 L1909.5,510.7 L1910.4,515.5 L1911.4,520.3 L1912.5,524.8 L1913.8,530.0 L1915.3,536.0 L1916.7,542.2 L1918.3,548.1 L1919.8,553.0 L1921.4,556.4 L1923.0,557.8 L1924.2,557.0 L1925.3,554.7 L1926.4,551.4 L1927.6,547.8 L1928.9,544.2 L1930.3,541.4 L1932.0,539.8 L1933.5,539.6 L1935.2,540.0 L1937.1,540.8 L1938.9,541.8 L1940.8,542.6 L1942.5,543.0 L1944.0,542.8 L1945.6,541.4 L1946.9,539.2 L1948.1,536.3 L1949.1,533.1 L1950.2,529.9 L1951.5,527.1 L1953.0,524.8 L1954.5,523.5 L1956.3,522.5 L1958.1,521.7 L1959.9,521.0 L1961.7,520.1 L1963.4,518.9 L1964.9,517.3 L1966.9,513.7 L1968.5,509.2 L1969.7,503.9 L1970.8,498.2 L1971.8,492.2 L1972.8,486.0 L1973.9,479.9 L1975.5,471.9 L1977.0,463.3 L1978.5,454.2 L1980.0,445.1 L1981.5,436.1 L1982.9,427.7 L1984.4,419.9 L1985.4,414.4 L1986.2,409.0 L1987.0,403.7 L1987.9,398.7 L1988.9,394.2 L1990.2,390.2 L1991.9,386.9 L1993.2,385.3 L1994.6,384.0 L1996.2,382.9 L1997.8,381.9 L1999.4,381.1 L2000.9,380.3 L2002.4,379.4 L2004.0,378.5 L2005.6,377.9 L2007.2,377.2 L2008.6,376.3 L2009.9,374.9 L2011.3,372.1 L2012.4,368.4 L2013.2,364.0 L2013.9,359.3 L2014.5,354.4 L2015.1,349.5 L2015.9,345.0 L2016.8,340.7 L2017.6,336.5 L2018.5,332.3 L2019.4,328.1 L2020.3,323.8 L2021.1,319.5 L2021.9,315.0 L2022.7,309.2 L2023.5,302.5 L2024.1,295.5 L2024.8,288.8 L2025.6,283.1 L2026.4,279.0 L2027.3,277.3 L2029.2,279.0" stroke="#FF0000"/>
<path d="M213.0,271.5 L218.3,271.4 L223.5,271.3 L228.8,271.3 L234.0,271.2 L239.3,271.1 L244.6,271.0 L250.0,271.0 L255.7,271.0 L261.4,270.9 L267.1,270.9 L272.9,270.9 L278.7,270.9 L284.4,271.0 L290.0,271.0 L295.4,271.0 L300.8,270.9 L306.3,270.7 L311.7,270.7 L316.8,270.7 L321.6,271.0 L326.0,271.5 L328.8,272.0 L331.3,272.6 L333.7,273.2 L336.0,273.9 L338.2,274.8 L340.5,275.8 L342.8,277.0 L345.7,278.7 L348.7,280.7 L351.8,282.9 L354.8,285.2 L357.6,287.7 L360.3,290.4 L362.7,293.0 L364.7,295.6 L366.5,298.2 L368.2,300.9 L369.7,303.7 L371.2,306.7 L372.6,309.8 L374.0,313.0 L375.7,317.2 L377.3,321.7 L378.7,326.4 L380.1,331.3 L381.5,336.2 L382.8,341.2 L384.0,346.0 L385.2,350.8 L386.3,355.7 L387.3,360.6 L388.3,365.5 L389.3,370.4 L390.1,375.2 L391.0,380.0 L391.7,384.4 L392.4,388.7 L393.1,393.0 L393.7,397.2 L394.3,401.4 L394.9,405.7 L395.5,410.0 L396.1,414.4 L396.8,418.8 L397.4,423.3 L398.1,427.7 L398.7,432.1 L399.4,436.6 L400.0,441.0 L400.6,445.4 L401.3,449.7 L401.9,454.1 L402.6,458.4 L403.2,462.8 L403.9,467.1 L404.5,471.5 L405.1,475.9 L405.8,480.2 L406.4,484.6 L407.1,488.9 L407.7,493.3 L408.4,497.6 L409.0,502.0 L409.6,506.4 L410.3,510.7 L410.9,515.1 L411.6,519.5 L412.2,523.9 L412.9,528.2 L413.5,532.6 L414.1,537.0 L414.8,541.4 L415.4,545.8 L416.0,550.2 L416.6,554.5 L417.3,558.8 L418.0,563.0 L418.7,566.8 L419.4,570.6 L420.1,574.3 L420.8,578.0 L421.5,581.7 L422.3,585.3 L423.0,589.0 L423.7,592.6 L424.4,596.2 L425.1,599.7 L425.9,603.3 L426.6,606.8 L427.3,610.4 L428.0,614.0 L428.7,617.7 L429.4,621.4 L430.1,625.1 L430.8,628.9 L431.5,632.6 L432.3,636.3 L433.0,640.0 L433.7,643.6 L434.5,647.3 L435.2,650.9 L436.0,654.5 L436.7,658.1 L437.6,661.6 L438.5,665.0 L439.4,668.0 L440.4,670.9 L441.4,673.8 L442.4,676.6 L443.5,679.4 L444.5,682.2 L445.5,685.0 L446.5,687.8 L447.4,690.7 L448.4,693.5 L449.3,696.4 L450.2,699.2 L451.1,702.1 L452.0,705.0 L452.9,707.9 L453.7,710.8 L454.5,713.7 L455.4,716.6 L456.2,719.6 L456.9,722.7 L457.7,726.0 L458.6,730.5 L459.5,735.4 L460.3,740.5 L461.1,745.6 L461.9,750.7 L462.8,755.6 L463.8,760.0 L464.6,763.2 L465.4,766.2 L466.1,769.1 L467.0,771.9 L467.9,774.6 L468.9,777.3 L470.0,780.0 L471.2,782.6 L472.5,785.1 L473.9,787.6 L475.3,790.1 L476.8,792.5 L478.4,794.8 L480.0,797.0 L481.6,799.0 L483.2,801.0 L484.9,803.0 L486.6,804.8 L488.3,806.6 L490.2,808.4 L492.0,810.0 L493.8,811.5 L495.6,813.0 L497.4,814.5 L499.3,815.9 L501.2,817.1 L503.3,818.1 L505.4,819.0 L507.9,819.7 L510.6,820.0 L513.4,820.2 L516.3,820.2 L519.2,820.1 L522.1,820.0 L525.0,820.0 L527.9,820.1 L530.8,820.2 L533.8,820.3 L536.7,820.4 L539.6,820.2 L542.5,819.8 L545.3,819.0 L548.3,817.7 L551.2,816.1 L554.1,814.1 L557.0,811.9 L559.8,809.5 L562.5,807.0 L565.2,804.4 L568.3,801.2 L571.3,797.8 L574.3,794.1 L577.2,790.2 L579.9,786.2 L582.6,782.1 L585.1,777.9 L587.6,773.2 L589.9,768.2 L592.0,763.1 L594.0,757.8 L596.0,752.5 L597.9,747.2 L600.0,742.0 L602.1,736.7 L604.3,731.5 L606.4,726.2 L608.5,721.0 L610.7,715.6 L612.8,710.3 L615.0,704.8 L617.4,698.9 L619.8,692.8 L622.3,686.8 L624.8,680.6 L627.2,674.5 L629.6,668.2 L632.0,662.0 L634.4,655.4 L636.8,648.5 L639.2,641.4 L641.5,634.5 L643.8,627.8 L646.1,621.6 L648.2,616.0 L649.6,612.6 L651.0,609.5 L652.3,606.7 L653.6,603.9 L654.9,601.2 L656.2,598.3 L657.5,595.3 L659.0,591.6 L660.5,587.8 L662.0,583.8 L663.5,579.8 L665.0,575.8 L666.5,571.9 L668.0,568.0 L669.5,564.3 L671.0,560.5 L672.5,556.7 L674.0,553.0 L675.4,549.3 L676.9,545.8 L678.3,542.4 L679.4,539.7 L680.5,537.1 L681.6,534.6 L682.7,532.1 L683.8,529.7 L684.9,527.3 L686.0,525.0 L687.0,522.9 L688.0,520.8 L688.9,518.8 L689.9,516.8 L691.0,515.0 L692.2,513.3 L693.6,511.8 L695.1,510.6 L696.7,509.5 L698.5,508.5 L700.3,507.6 L702.1,507.0 L703.9,506.5 L705.5,506.2 L707.1,506.2 L708.7,506.4 L710.1,506.8 L711.6,507.3 L713.0,508.0 L714.3,508.8 L715.5,509.7 L716.6,510.7 L717.8,511.9 L718.9,513.2 L720.1,514.5 L721.5,516.2 L723.0,518.0 L724.5,519.9 L725.9,522.0 L727.3,524.1 L728.6,526.3 L729.8,528.5 L730.8,530.8 L731.7,533.0 L732.4,535.3 L733.1,537.7 L733.7,540.3 L734.5,543.0 L735.3,546.0 L736.8,551.7 L738.5,558.3 L740.2,565.5 L742.0,573.0 L743.9,580.6 L745.9,588.0 L747.9,595.0 L749.8,601.6 L751.8,608.7 L753.8,615.8 L755.9,622.6 L758.1,628.5 L760.5,633.1 L763.0,636.0 L764.4,636.8 L766.0,637.2 L767.5,637.2 L769.1,637.0 L770.6,636.6 L772.0,636.0 L773.4,635.2 L774.7,634.0 L775.9,632.6 L777.1,631.0 L778.2,629.2 L779.4,627.2 L780.6,625.0 L782.8,620.2 L785.1,614.4 L787.4,607.8 L789.6,600.8 L791.7,593.6 L793.8,586.6 L795.7,580.0 L797.4,574.2 L799.0,568.6 L800.5,563.1 L801.9,557.5 L803.3,551.9 L804.6,546.1 L805.8,540.0 L807.1,532.5 L808.1,524.5 L809.0,516.2 L809.9,507.8 L810.8,499.7 L811.9,492.0 L813.3,485.0 L814.5,480.1 L815.7,475.3 L817.0,470.7 L818.4,466.4 L819.9,462.3 L821.6,458.5 L823.4,455.0 L824.9,452.6 L826.6,450.5 L828.3,448.6 L830.1,446.7 L832.0,444.9 L833.9,443.0 L835.9,441.0 L838.5,438.3 L841.2,435.6 L844.1,432.8 L847.0,430.0 L850.0,427.1 L853.0,424.1 L856.0,421.0 L859.5,417.3 L863.0,413.3 L866.5,409.2 L870.1,405.1 L873.8,401.0 L877.5,397.1 L881.2,393.4 L884.7,390.2 L888.3,387.2 L891.9,384.3 L895.5,381.5 L899.1,378.7 L902.8,376.0 L906.4,373.3 L909.9,370.6 L913.5,367.9 L917.0,365.2 L920.6,362.6 L924.2,360.2 L927.8,357.8 L931.5,355.7 L935.0,354.0 L938.6,352.5 L942.2,351.2 L945.9,349.9 L949.5,348.6 L953.1,347.2 L956.7,345.6 L960.4,343.7 L964.0,341.8 L967.6,339.8 L971.2,337.6 L974.8,335.4 L978.3,333.0 L981.8,330.5 L985.5,327.5 L989.1,324.3 L992.6,320.8 L996.1,317.3 L999.7,313.9 L1003.3,310.7 L1007.0,307.9 L1010.5,305.7 L1014.0,303.7 L1017.6,301.8 L1021.2,300.1 L1024.8,298.5 L1028.5,296.9 L1032.1,295.3 L1035.7,293.7 L1039.3,292.3 L1042.9,290.9 L1046.5,289.5 L1050.1,288.1 L1053.7,286.7 L1057.3,285.3 L1060.9,283.8 L1064.4,282.1 L1068.0,280.4 L1071.6,278.8 L1075.2,277.3 L1078.8,276.1 L1082.4,275.2 L1086.0,274.7 L1089.7,274.6 L1093.5,274.7 L1097.2,274.9 L1100.8,275.2 L1104.3,275.3 L1107.6,275.2 L1109.9,274.9 L1112.1,274.3 L1114.2,273.7 L1116.3,273.1 L1118.4,272.7 L1120.5,272.5 L1122.7,272.7 L1125.8,273.7 L1129.1,275.3 L1132.4,277.4 L1135.8,279.7 L1139.1,282.0 L1142.3,283.9 L1145.3,285.3 L1147.2,286.0 L1149.1,286.6 L1150.8,287.1 L1152.5,287.4 L1154.3,287.7 L1156.0,287.8 L1157.9,287.8 L1160.1,287.6 L1162.4,287.1 L1164.7,286.4 L1167.0,285.6 L1169.4,284.7 L1171.9,283.8 L1174.6,283.0 L1178.5,281.9 L1182.7,280.8 L1187.2,279.6 L1191.8,278.4 L1196.3,277.3 L1200.4,276.1 L1204.2,275.0 L1206.5,274.2 L1208.6,273.4 L1210.6,272.6 L1212.5,271.9 L1214.5,271.2 L1216.6,270.5 L1219.0,270.0 L1222.7,269.4 L1226.7,269.1 L1231.0,268.8 L1235.5,268.7 L1240.0,268.5 L1244.3,268.4 L1248.5,268.3 L1252.1,268.1 L1255.7,268.0 L1259.2,267.8 L1262.7,267.7 L1266.2,267.6 L1269.7,267.5 L1273.2,267.5 L1276.8,267.4 L1280.5,267.2 L1284.2,267.0 L1287.9,266.9 L1291.4,267.0 L1294.7,267.5 L1297.8,268.3 L1300.2,269.4 L1302.5,270.7 L1304.7,272.3 L1306.7,274.1 L1308.6,276.0 L1310.4,277.9 L1312.0,280.0 L1313.5,282.2 L1314.9,284.5 L1316.1,287.0 L1317.1,289.5 L1318.1,292.2 L1319.1,295.1 L1320.0,298.0 L1321.1,302.0 L1322.1,306.2 L1323.0,310.6 L1323.8,315.1 L1324.5,319.9 L1325.2,324.9 L1326.0,330.0 L1327.0,337.0 L1327.8,344.4 L1328.7,352.2 L1329.5,360.2 L1330.3,368.4 L1331.1,376.7 L1332.0,385.0 L1333.0,394.7 L1334.1,404.7 L1335.2,415.0 L1336.4,425.4 L1337.5,435.6 L1338.5,445.5 L1339.5,455.0 L1340.3,462.6 L1341.1,469.8 L1341.8,476.9 L1342.5,483.8 L1343.2,490.8 L1343.9,497.8 L1344.6,505.0 L1345.3,512.7 L1346.1,520.4 L1346.8,528.3 L1347.5,536.1 L1348.2,544.0 L1348.8,552.0 L1349.5,560.0 L1350.0,569.3 L1350.3,579.8 L1350.5,590.6 L1350.8,600.9 L1351.4,609.9 L1352.3,616.5 L1353.7,620.0 L1355.3,620.6 L1357.0,620.0 L1358.2,618.2 L1359.3,614.9 L1360.3,610.7 L1361.2,605.8 L1362.1,600.5 L1363.0,595.1 L1364.0,590.0 L1365.3,583.4 L1366.4,576.1 L1367.6,568.4 L1368.9,560.7 L1370.3,553.2 L1372.0,546.2 L1374.0,540.0 L1375.8,535.5 L1378.0,530.8 L1380.2,526.2 L1382.6,522.1 L1384.9,518.8 L1387.0,516.6 L1388.9,515.9 L1390.5,516.9 L1391.9,519.2 L1393.3,522.7 L1394.5,526.8 L1395.7,531.3 L1396.9,535.8 L1398.0,540.0 L1399.4,545.1 L1400.6,550.6 L1401.8,556.3 L1402.9,562.1 L1403.9,568.1 L1405.0,574.1 L1406.0,580.0 L1407.0,586.4 L1408.0,593.1 L1408.9,599.9 L1409.8,606.6 L1410.7,613.1 L1411.8,619.3 L1413.0,625.0 L1414.1,629.3 L1415.2,633.9 L1416.5,638.4 L1417.7,642.5 L1419.0,645.9 L1420.1,648.1 L1421.0,648.9 L1421.9,647.4 L1422.6,643.7 L1423.2,638.2 L1423.6,631.5 L1424.0,624.2 L1424.5,616.8 L1425.0,610.0 L1425.8,601.1 L1426.6,591.6 L1427.4,581.7 L1428.3,571.4 L1429.0,560.9 L1429.8,550.4 L1430.5,540.0 L1431.1,528.8 L1431.7,517.2 L1432.2,505.5 L1432.7,493.8 L1433.2,482.2 L1433.8,470.9 L1434.5,460.0 L1435.1,450.7 L1435.7,441.3 L1436.4,432.0 L1437.1,423.0 L1438.0,414.5 L1439.1,406.8 L1440.5,400.0 L1441.6,396.0 L1442.7,392.0 L1444.0,388.1 L1445.4,384.6 L1446.7,381.8 L1447.9,379.9 L1449.1,379.3 L1450.1,380.0 L1451.2,381.9 L1452.1,384.6 L1453.1,388.1 L1453.9,392.0 L1454.8,396.0 L1455.5,400.0 L1456.6,407.7 L1457.4,416.8 L1457.9,426.8 L1458.3,437.5 L1458.7,448.4 L1459.0,459.4 L1459.5,470.0 L1460.0,481.1 L1460.5,492.3 L1461.0,503.6 L1461.5,515.0 L1462.0,526.5 L1462.5,538.2 L1463.0,550.0 L1463.6,564.8 L1464.1,582.1 L1464.6,600.1 L1465.2,617.1 L1465.8,631.4 L1466.6,641.3 L1467.4,645.0 L1468.2,643.0 L1469.0,637.6 L1469.9,629.7 L1470.8,620.1 L1471.7,609.7 L1472.6,599.4 L1473.5,590.0 L1474.5,577.8 L1475.4,563.1 L1476.4,547.6 L1477.3,532.8 L1478.2,520.3 L1479.1,511.6 L1480.0,508.4 L1480.7,510.2 L1481.4,515.0 L1482.2,522.1 L1482.9,530.9 L1483.6,540.6 L1484.3,550.6 L1485.0,560.0 L1486.0,577.0 L1486.8,598.6 L1487.6,622.1 L1488.5,645.0 L1489.5,664.7 L1490.8,678.4 L1492.5,683.7 L1493.7,681.6 L1495.0,676.1 L1496.5,668.5 L1497.9,660.3 L1499.4,652.7 L1500.8,647.1 L1502.1,645.0 L1503.3,647.4 L1504.4,653.5 L1505.5,661.8 L1506.6,670.9 L1507.6,679.2 L1508.7,685.3 L1509.8,687.6 L1511.4,683.6 L1513.0,673.2 L1514.6,659.0 L1516.3,643.6 L1518.0,629.4 L1519.7,619.0 L1521.4,615.0 L1523.2,619.6 L1525.0,631.6 L1526.9,648.0 L1528.7,665.8 L1530.7,682.2 L1532.7,694.3 L1534.9,699.0 L1536.7,696.4 L1538.6,689.4 L1540.6,679.8 L1542.5,669.4 L1544.5,659.8 L1546.5,652.7 L1548.4,650.0 L1550.1,652.3 L1551.8,658.2 L1553.4,666.3 L1555.0,675.2 L1556.6,683.3 L1558.3,689.1 L1559.9,691.4 L1562.1,687.1 L1564.4,676.2 L1566.6,661.2 L1568.8,645.0 L1571.0,630.1 L1573.2,619.2 L1575.3,615.0 L1577.3,618.0 L1579.3,625.9 L1581.2,637.4 L1583.1,651.0 L1585.0,665.3 L1586.9,678.7 L1589.0,690.0 L1590.8,698.8 L1592.6,708.4 L1594.4,718.1 L1596.2,727.1 L1598.1,734.5 L1600.0,739.6 L1602.0,741.5 L1603.7,740.3 L1605.5,736.7 L1607.3,731.5 L1609.2,725.2 L1611.0,718.3 L1612.8,711.4 L1614.5,705.0 L1616.6,696.3 L1618.7,685.8 L1620.8,674.5 L1622.9,663.8 L1624.7,654.7 L1626.5,648.4 L1628.0,646.1 L1629.2,648.2 L1630.3,653.6 L1631.2,661.6 L1632.0,671.1 L1632.7,681.3 L1633.4,691.2 L1634.0,700.0 L1634.5,708.8 L1634.8,718.1 L1634.9,727.6 L1635.1,737.0 L1635.4,745.7 L1636.0,753.5 L1637.0,760.0 L1637.7,763.0 L1638.5,766.0 L1639.4,768.8 L1640.3,771.3 L1641.2,773.3 L1642.1,774.6 L1643.0,775.0 L1644.3,773.0 L1645.7,768.0 L1647.2,761.1 L1648.6,753.7 L1649.9,746.8 L1651.0,741.9 L1652.0,740.0 L1652.7,741.1 L1653.2,744.1 L1653.5,748.5 L1653.8,753.7 L1654.1,759.4 L1654.5,765.0 L1655.0,770.0 L1655.7,775.6 L1656.3,781.6 L1657.0,787.8 L1657.8,794.0 L1658.7,799.9 L1659.8,805.3 L1661.0,810.0 L1661.9,812.8 L1662.9,815.8 L1664.0,818.6 L1665.1,821.1 L1666.2,823.1 L1667.4,824.5 L1668.5,825.0 L1669.7,824.1 L1671.0,821.6 L1672.4,818.3 L1673.7,814.7 L1675.0,811.3 L1676.3,808.9 L1677.5,808.0 L1678.6,808.6 L1679.8,810.2 L1680.8,812.6 L1681.9,815.5 L1682.9,818.7 L1684.0,822.0 L1685.0,825.0 L1686.3,829.3 L1687.3,834.3 L1688.3,839.7 L1689.4,845.0 L1690.6,850.1 L1692.1,854.5 L1694.0,858.0 L1695.5,859.9 L1697.2,861.6 L1699.0,863.2 L1700.8,864.5 L1702.6,865.4 L1704.4,866.0 L1706.0,866.0 L1707.5,865.5 L1708.9,864.5 L1710.2,863.1 L1711.5,861.4 L1712.7,859.4 L1713.9,857.2 L1715.0,855.0 L1716.7,850.7 L1718.1,845.6 L1719.3,839.8 L1720.4,833.7 L1721.5,827.4 L1722.7,821.1 L1724.0,815.0 L1725.6,808.7 L1727.4,802.4 L1729.2,796.0 L1731.0,789.6 L1732.8,783.1 L1734.5,776.6 L1736.0,770.0 L1737.4,763.1 L1738.7,756.3 L1739.9,749.4 L1741.0,742.4 L1742.1,735.3 L1743.0,727.8 L1744.0,720.0 L1745.1,709.3 L1746.1,697.7 L1746.9,685.6 L1747.7,673.4 L1748.4,661.4 L1749.2,650.2 L1750.0,640.0 L1750.6,633.6 L1751.2,627.8 L1751.8,622.3 L1752.3,617.0 L1752.9,611.6 L1753.5,606.0 L1754.0,600.0 L1754.6,591.9 L1755.1,583.3 L1755.6,574.3 L1756.1,565.2 L1756.7,556.3 L1757.3,547.8 L1758.0,540.0 L1758.6,534.5 L1759.2,529.3 L1759.9,524.3 L1760.6,519.4 L1761.3,514.7 L1762.1,509.9 L1763.0,505.0 L1763.9,499.5 L1764.9,493.3 L1765.9,486.9 L1767.0,480.9 L1768.1,475.9 L1769.3,472.4 L1770.6,471.0 L1771.6,471.7 L1772.6,473.7 L1773.7,476.5 L1774.7,479.5 L1775.8,482.3 L1776.8,484.3 L1777.7,485.0 L1779.0,483.2 L1780.1,478.8 L1781.0,472.3 L1781.8,464.5 L1782.5,456.1 L1783.2,447.7 L1784.0,440.0 L1784.9,430.6 L1785.7,420.3 L1786.4,409.5 L1787.2,398.7 L1787.9,388.3 L1788.9,378.6 L1790.0,370.0 L1790.9,364.5 L1791.8,358.8 L1792.7,353.1 L1793.8,348.0 L1794.8,343.9 L1795.9,341.1 L1797.0,340.0 L1798.0,340.7 L1798.9,342.7 L1800.0,345.7 L1801.0,349.3 L1802.0,353.1 L1803.0,356.8 L1804.0,360.0 L1804.9,363.2 L1805.8,366.9 L1806.7,370.7 L1807.6,374.3 L1808.4,377.3 L1809.2,379.3 L1810.0,380.0 L1811.0,378.1 L1811.9,373.0 L1812.6,365.7 L1813.4,356.9 L1814.2,347.4 L1815.2,338.2 L1816.5,330.0 L1818.3,320.7 L1820.4,309.8 L1822.8,298.5 L1825.2,287.8 L1827.7,278.8 L1830.1,272.5 L1832.4,270.0 L1833.5,270.5 L1834.6,271.9 L1835.6,274.1 L1836.7,276.7 L1837.8,279.6 L1838.9,282.4 L1840.0,285.0 L1841.4,287.8 L1842.9,290.6 L1844.5,293.5 L1846.0,296.5 L1847.5,299.6 L1849.0,302.8 L1850.3,306.2 L1851.8,310.6 L1853.1,315.2 L1854.3,320.1 L1855.5,325.0 L1856.7,330.0 L1857.9,335.0 L1859.3,339.9 L1860.8,344.8 L1862.4,349.6 L1864.1,354.5 L1865.7,359.4 L1867.4,364.2 L1869.0,368.9 L1870.6,373.6 L1872.0,377.7 L1873.4,381.8 L1874.8,385.8 L1876.2,389.7 L1877.5,393.7 L1878.6,397.7 L1879.6,401.7 L1880.4,405.7 L1880.9,409.7 L1881.4,413.6 L1881.8,417.7 L1882.1,421.7 L1882.5,425.7 L1882.9,429.8 L1883.3,434.2 L1883.6,438.8 L1883.8,443.4 L1884.1,448.0 L1884.5,452.4 L1885.1,456.4 L1886.0,460.0 L1886.8,462.3 L1887.7,464.7 L1888.6,467.0 L1889.7,469.0 L1890.8,470.7 L1891.9,471.9 L1893.0,472.4 L1894.0,472.1 L1895.1,471.0 L1896.3,469.4 L1897.5,467.7 L1898.6,466.2 L1899.6,465.2 L1900.5,464.9 L1901.4,465.6 L1902.1,467.1 L1902.7,469.2 L1903.2,471.7 L1903.7,474.5 L1904.3,477.3 L1905.0,479.9 L1906.1,483.7 L1907.3,487.7 L1908.6,492.1 L1910.0,496.6 L1911.3,501.1 L1912.7,505.6 L1914.0,510.0 L1915.3,514.8 L1916.6,520.2 L1917.8,525.9 L1919.1,531.1 L1920.4,535.6 L1921.7,538.6 L1923.0,539.8 L1924.0,539.0 L1924.8,536.7 L1925.7,533.4 L1926.6,529.8 L1927.6,526.3 L1928.8,523.5 L1930.4,521.8 L1932.0,521.5 L1933.9,522.0 L1936.0,522.9 L1938.1,523.9 L1940.3,524.8 L1942.2,525.2 L1944.0,524.8 L1946.2,522.2 L1948.0,517.8 L1949.5,512.2 L1950.8,506.1 L1952.2,500.3 L1953.9,495.2 L1956.0,491.8 L1957.6,490.7 L1959.3,490.1 L1961.2,489.8 L1963.0,489.6 L1964.8,489.2 L1966.5,488.5 L1968.0,487.3 L1970.2,483.4 L1971.8,477.9 L1973.0,471.4 L1974.0,464.1 L1974.9,456.6 L1975.8,449.2 L1977.0,442.4 L1978.4,435.9 L1979.9,429.4 L1981.5,422.8 L1983.0,416.3 L1984.5,409.8 L1986.0,403.5 L1987.4,397.4 L1988.4,392.0 L1989.2,386.3 L1990.0,380.7 L1990.8,375.4 L1991.8,370.5 L1993.2,366.3 L1995.0,363.0 L1996.5,361.6 L1998.1,360.7 L2000.0,360.2 L2001.8,359.7 L2003.7,359.1 L2005.4,358.3 L2006.9,357.0 L2008.7,354.3 L2010.3,351.1 L2011.6,347.3 L2012.8,343.2 L2013.9,338.9 L2014.9,334.4 L2015.9,330.0 L2017.0,324.0 L2017.9,317.3 L2018.6,310.2 L2019.2,303.2 L2019.9,296.4 L2020.8,290.2 L2022.0,285.0 L2022.9,282.4 L2023.8,280.0 L2024.8,277.9 L2025.9,275.9 L2026.9,274.0 L2028.0,272.1 L2029.0,270.0" stroke="#0000FF"/>
<path d="M213.0,271.5 L218.3,271.4 L223.5,271.3 L228.8,271.3 L234.0,271.2 L239.3,271.1 L244.6,271.0 L250.0,271.0 L255.7,271.0 L261.4,270.9 L267.1,270.9 L272.9,270.9 L278.7,270.9 L284.4,271.0 L290.0,271.0 L295.4,270.9 L300.8,270.8 L306.3,270.6 L311.7,270.4 L316.8,270.5 L321.6,270.8 L326.0,271.5 L328.8,272.2 L331.3,273.0 L333.7,274.0 L336.0,275.1 L338.2,276.3 L340.5,277.6 L342.8,279.0 L345.7,280.8 L348.7,282.8 L351.8,285.0 L354.8,287.3 L357.7,289.8 L360.3,292.3 L362.7,295.0 L364.6,297.7 L366.3,300.5 L367.8,303.4 L369.1,306.4 L370.4,309.5 L371.7,312.7 L373.0,316.0 L374.6,319.9 L376.1,324.1 L377.6,328.3 L379.1,332.7 L380.4,337.1 L381.8,341.5 L383.0,346.0 L384.2,350.7 L385.3,355.6 L386.3,360.5 L387.3,365.4 L388.2,370.4 L389.1,375.2 L390.0,380.0 L390.8,384.4 L391.5,388.7 L392.3,393.0 L392.9,397.2 L393.6,401.4 L394.3,405.7 L395.0,410.0 L395.7,414.4 L396.4,418.8 L397.1,423.3 L397.9,427.7 L398.6,432.1 L399.3,436.6 L400.0,441.0 L400.7,445.4 L401.4,449.7 L402.1,454.1 L402.9,458.4 L403.6,462.8 L404.3,467.1 L405.0,471.5 L405.7,475.9 L406.4,480.2 L407.1,484.6 L407.9,488.9 L408.6,493.3 L409.3,497.6 L410.0,502.0 L410.7,506.4 L411.4,510.7 L412.1,515.1 L412.9,519.5 L413.6,523.9 L414.3,528.2 L415.0,532.6 L415.7,537.0 L416.4,541.4 L417.1,545.8 L417.8,550.1 L418.5,554.5 L419.3,558.8 L420.0,563.0 L420.7,566.8 L421.4,570.6 L422.1,574.3 L422.8,578.0 L423.6,581.7 L424.3,585.3 L425.0,589.0 L425.7,592.6 L426.4,596.2 L427.1,599.7 L427.9,603.3 L428.6,606.8 L429.3,610.4 L430.0,614.0 L430.7,617.7 L431.4,621.4 L432.1,625.1 L432.8,628.9 L433.5,632.6 L434.3,636.3 L435.0,640.0 L435.7,643.6 L436.5,647.3 L437.2,650.9 L438.0,654.5 L438.8,658.1 L439.6,661.6 L440.5,665.0 L441.3,668.1 L442.2,671.2 L443.1,674.2 L444.1,677.2 L445.0,680.1 L446.0,683.1 L447.0,686.0 L448.0,688.9 L449.1,691.8 L450.1,694.7 L451.2,697.6 L452.3,700.4 L453.4,703.2 L454.6,706.0 L455.7,708.6 L456.9,711.3 L458.0,713.9 L459.2,716.4 L460.4,719.0 L461.7,721.5 L463.0,724.0 L464.3,726.5 L465.7,729.0 L467.1,731.4 L468.5,733.9 L470.0,736.3 L471.5,738.7 L473.0,741.0 L474.5,743.2 L476.0,745.5 L477.5,747.7 L479.1,749.8 L480.7,751.9 L482.3,754.0 L484.0,756.0 L485.6,757.9 L487.3,759.7 L488.9,761.5 L490.6,763.2 L492.4,764.9 L494.1,766.5 L496.0,768.0 L497.9,769.4 L499.8,770.7 L501.8,772.0 L503.8,773.2 L505.8,774.3 L507.9,775.2 L510.0,776.0 L512.0,776.6 L514.1,777.1 L516.2,777.4 L518.3,777.6 L520.5,777.8 L522.7,777.9 L525.0,778.0 L527.7,778.1 L530.6,778.2 L533.5,778.2 L536.5,778.1 L539.5,777.9 L542.4,777.6 L545.3,777.0 L548.2,776.2 L551.1,775.2 L554.0,774.0 L556.9,772.7 L559.7,771.3 L562.4,769.7 L565.0,768.0 L567.6,766.1 L570.1,764.1 L572.6,761.9 L574.9,759.6 L577.3,757.1 L579.5,754.6 L581.8,752.0 L584.3,748.9 L586.6,745.7 L588.9,742.3 L591.2,738.8 L593.5,735.2 L595.7,731.6 L598.0,728.0 L600.4,724.2 L602.9,720.3 L605.4,716.3 L607.8,712.3 L610.2,708.3 L612.6,704.2 L615.0,700.0 L617.5,695.5 L620.0,690.9 L622.5,686.3 L624.9,681.6 L627.3,676.8 L629.7,672.0 L632.0,667.0 L634.4,661.5 L636.8,655.9 L639.1,650.1 L641.3,644.3 L643.6,638.4 L645.9,632.7 L648.2,627.0 L650.5,621.6 L652.8,616.3 L655.1,611.0 L657.4,605.8 L659.7,600.6 L662.1,595.3 L664.4,590.0 L666.8,584.6 L669.3,579.1 L671.9,573.5 L674.4,568.0 L676.8,562.6 L679.2,557.2 L681.4,552.0 L683.2,547.4 L684.8,542.7 L686.3,538.0 L687.7,533.5 L689.3,529.2 L691.0,525.4 L693.0,522.0 L694.6,519.8 L696.2,517.7 L697.9,515.8 L699.7,514.1 L701.5,512.7 L703.4,511.6 L705.2,511.0 L706.9,510.8 L708.6,511.0 L710.4,511.5 L712.2,512.1 L713.9,513.0 L715.5,514.0 L717.0,515.0 L718.4,516.2 L719.7,517.7 L720.9,519.2 L722.1,521.0 L723.1,522.9 L724.2,524.9 L725.3,527.0 L726.9,530.4 L728.3,534.1 L729.7,538.1 L731.1,542.4 L732.5,546.9 L733.9,551.4 L735.3,556.0 L737.1,561.8 L738.8,568.0 L740.5,574.3 L742.3,580.8 L744.1,587.3 L745.9,593.8 L747.9,600.0 L749.9,606.3 L751.8,613.2 L753.8,620.2 L755.9,626.8 L758.2,632.6 L760.5,637.2 L763.0,640.0 L764.4,640.8 L766.0,641.2 L767.5,641.2 L769.1,641.0 L770.6,640.6 L772.0,640.0 L773.4,639.1 L774.7,637.8 L775.9,636.3 L777.1,634.5 L778.2,632.5 L779.4,630.3 L780.6,628.0 L782.8,623.3 L785.0,617.7 L787.3,611.5 L789.6,604.8 L791.7,598.0 L793.8,591.3 L795.7,585.0 L797.4,579.3 L799.0,573.6 L800.5,568.1 L801.9,562.4 L803.3,556.8 L804.6,551.0 L805.8,545.0 L807.0,538.0 L808.0,530.7 L809.0,523.2 L809.9,515.7 L810.8,508.4 L811.9,501.4 L813.3,495.0 L814.5,490.3 L815.8,485.8 L817.1,481.5 L818.5,477.3 L820.0,473.4 L821.6,469.6 L823.4,466.0 L825.0,463.3 L826.6,460.7 L828.3,458.4 L830.1,456.1 L831.9,453.8 L833.9,451.5 L835.9,449.0 L838.5,445.9 L841.2,442.7 L844.0,439.4 L846.9,436.1 L849.9,432.8 L852.9,429.4 L856.0,426.1 L859.4,422.4 L862.9,418.6 L866.5,414.8 L870.1,411.0 L873.8,407.2 L877.5,403.6 L881.2,400.0 L884.7,396.7 L888.3,393.4 L891.8,390.2 L895.4,387.0 L899.1,384.0 L902.7,381.1 L906.4,378.3 L909.9,375.8 L913.4,373.4 L917.0,371.1 L920.6,368.9 L924.2,366.8 L927.8,364.9 L931.5,363.0 L935.1,361.4 L938.7,360.0 L942.3,358.8 L945.9,357.6 L949.6,356.3 L953.2,354.9 L956.7,353.2 L960.4,351.1 L964.0,348.9 L967.6,346.5 L971.2,344.0 L974.8,341.4 L978.3,338.7 L981.8,336.0 L985.5,332.9 L989.0,329.5 L992.6,326.0 L996.1,322.5 L999.7,319.0 L1003.3,315.8 L1007.0,313.0 L1010.5,310.7 L1014.0,308.7 L1017.6,306.9 L1021.2,305.1 L1024.8,303.4 L1028.5,301.7 L1032.1,300.0 L1035.7,298.2 L1039.3,296.5 L1042.9,294.8 L1046.5,293.1 L1050.1,291.5 L1053.7,289.7 L1057.3,288.0 L1060.9,286.1 L1064.4,284.1 L1068.0,282.0 L1071.5,280.0 L1075.1,278.1 L1078.7,276.5 L1082.4,275.2 L1086.0,274.4 L1089.7,273.8 L1093.4,273.5 L1097.2,273.3 L1100.8,273.2 L1104.3,273.1 L1107.6,273.0 L1109.9,272.8 L1112.1,272.6 L1114.2,272.3 L1116.3,272.2 L1118.4,272.1 L1120.5,272.3 L1122.7,272.7 L1125.8,273.8 L1129.1,275.5 L1132.5,277.6 L1135.8,279.9 L1139.2,282.0 L1142.3,283.9 L1145.3,285.3 L1147.2,286.0 L1149.1,286.6 L1150.8,287.1 L1152.5,287.4 L1154.3,287.7 L1156.0,287.8 L1157.9,287.8 L1160.1,287.6 L1162.4,287.1 L1164.7,286.4 L1167.0,285.6 L1169.4,284.7 L1171.9,283.8 L1174.6,283.0 L1178.5,281.9 L1182.7,280.8 L1187.2,279.6 L1191.8,278.4 L1196.3,277.3 L1200.4,276.1 L1204.2,275.0 L1206.5,274.2 L1208.6,273.4 L1210.6,272.6 L1212.5,271.9 L1214.5,271.2 L1216.6,270.5 L1219.0,270.0 L1222.7,269.4 L1226.7,269.1 L1231.0,268.8 L1235.5,268.7 L1240.0,268.5 L1244.3,268.4 L1248.5,268.3 L1252.1,268.1 L1255.7,268.0 L1259.2,267.8 L1262.7,267.7 L1266.2,267.6 L1269.7,267.5 L1273.2,267.5 L1276.8,267.4 L1280.5,267.2 L1284.2,267.0 L1287.9,266.9 L1291.4,267.0 L1294.7,267.5 L1297.8,268.3 L1300.2,269.4 L1302.5,270.7 L1304.7,272.3 L1306.7,274.1 L1308.6,276.0 L1310.4,277.9 L1312.0,280.0 L1313.5,282.2 L1314.9,284.5 L1316.1,287.0 L1317.1,289.5 L1318.1,292.2 L1319.1,295.1 L1320.0,298.0 L1321.1,302.0 L1322.1,306.2 L1323.0,310.6 L1323.8,315.1 L1324.5,319.9 L1325.2,324.9 L1326.0,330.0 L1327.0,337.0 L1327.8,344.4 L1328.7,352.2 L1329.5,360.2 L1330.3,368.4 L1331.1,376.7 L1332.0,385.0 L1333.0,394.7 L1334.1,404.7 L1335.2,415.0 L1336.4,425.4 L1337.5,435.6 L1338.5,445.5 L1339.5,455.0 L1340.3,462.6 L1341.1,469.8 L1341.8,476.9 L1342.5,483.8 L1343.2,490.8 L1343.9,497.8 L1344.6,505.0 L1345.3,512.8 L1346.0,520.8 L1346.6,528.9 L1347.3,536.9 L1348.0,544.9 L1348.7,552.6 L1349.5,560.0 L1350.1,566.5 L1350.7,573.4 L1351.3,580.3 L1351.9,586.8 L1352.7,592.5 L1353.7,597.0 L1355.0,600.0 L1357.0,601.8 L1359.0,602.0 L1360.2,600.6 L1361.2,597.7 L1362.2,593.8 L1363.1,589.2 L1363.9,584.3 L1364.9,579.4 L1366.0,575.0 L1367.3,570.1 L1368.6,564.9 L1369.9,559.5 L1371.4,554.1 L1373.0,549.0 L1374.8,544.2 L1377.0,540.0 L1379.1,536.7 L1381.6,533.3 L1384.2,530.0 L1386.9,527.1 L1389.5,524.9 L1391.8,523.5 L1393.8,523.3 L1395.4,524.6 L1396.7,527.4 L1397.7,531.2 L1398.6,535.7 L1399.4,540.6 L1400.1,545.5 L1401.0,550.0 L1402.1,555.3 L1403.1,560.9 L1404.1,566.8 L1405.1,572.7 L1406.1,578.7 L1407.0,584.4 L1408.0,590.0 L1408.8,594.9 L1409.6,599.7 L1410.4,604.5 L1411.2,609.2 L1412.0,613.7 L1412.9,618.0 L1414.0,622.0 L1414.9,625.1 L1415.9,628.3 L1417.0,631.6 L1418.1,634.5 L1419.2,636.9 L1420.2,638.5 L1421.0,639.0 L1421.9,637.7 L1422.6,634.4 L1423.2,629.6 L1423.6,623.8 L1424.0,617.4 L1424.5,611.0 L1425.0,605.0 L1425.8,596.9 L1426.6,588.2 L1427.5,579.0 L1428.3,569.4 L1429.1,559.7 L1429.8,549.8 L1430.5,540.0 L1431.2,528.9 L1431.7,517.4 L1432.2,505.7 L1432.7,493.9 L1433.2,482.3 L1433.8,470.9 L1434.5,460.0 L1435.1,450.7 L1435.7,441.2 L1436.3,431.8 L1437.0,422.7 L1437.9,414.2 L1439.0,406.6 L1440.5,400.0 L1441.6,396.5 L1442.8,392.9 L1444.0,389.5 L1445.4,386.5 L1446.7,384.1 L1448.0,382.5 L1449.1,382.0 L1450.2,382.7 L1451.2,384.5 L1452.2,387.2 L1453.1,390.5 L1454.0,394.2 L1454.8,398.1 L1455.5,402.0 L1456.6,409.5 L1457.4,418.3 L1457.9,428.0 L1458.3,438.3 L1458.7,449.0 L1459.1,459.6 L1459.5,470.0 L1460.0,481.1 L1460.5,492.4 L1461.0,503.8 L1461.5,515.4 L1462.0,527.0 L1462.5,538.5 L1463.0,550.0 L1463.5,562.8 L1464.1,577.5 L1464.6,592.7 L1465.2,606.9 L1465.8,618.8 L1466.5,626.9 L1467.4,630.0 L1468.2,628.4 L1469.0,624.0 L1469.9,617.6 L1470.8,609.7 L1471.7,601.2 L1472.6,592.7 L1473.5,585.0 L1474.5,574.6 L1475.5,562.1 L1476.4,548.7 L1477.3,536.0 L1478.2,525.3 L1479.1,517.8 L1480.0,515.0 L1480.7,516.5 L1481.4,520.7 L1482.2,527.0 L1482.9,534.7 L1483.6,543.1 L1484.3,551.8 L1485.0,560.0 L1485.9,574.5 L1486.7,592.8 L1487.4,612.7 L1488.2,632.1 L1489.2,648.7 L1490.6,660.4 L1492.5,665.0 L1493.7,663.7 L1495.0,660.2 L1496.4,655.3 L1497.9,649.9 L1499.4,645.0 L1500.8,641.4 L1502.1,640.0 L1503.3,641.4 L1504.4,645.0 L1505.5,649.9 L1506.6,655.2 L1507.6,660.1 L1508.7,663.7 L1509.8,665.0 L1511.4,661.9 L1513.0,654.0 L1514.7,643.3 L1516.3,631.6 L1518.0,620.9 L1519.7,613.0 L1521.4,610.0 L1523.2,613.3 L1525.0,621.8 L1526.8,633.4 L1528.6,646.1 L1530.5,657.8 L1532.6,666.5 L1534.9,670.0 L1536.7,668.6 L1538.6,664.6 L1540.6,659.1 L1542.6,653.1 L1544.6,647.6 L1546.6,643.5 L1548.4,642.0 L1550.2,643.7 L1551.9,648.1 L1553.5,653.9 L1555.1,660.3 L1556.7,666.2 L1558.3,670.4 L1559.9,672.0 L1562.1,668.8 L1564.4,660.6 L1566.6,649.4 L1568.9,637.3 L1571.1,626.2 L1573.2,618.1 L1575.3,615.0 L1577.3,617.9 L1579.0,625.6 L1580.6,636.4 L1582.3,648.8 L1584.2,661.2 L1586.3,672.1 L1589.0,680.0 L1590.7,683.2 L1592.6,686.3 L1594.6,689.1 L1596.6,691.5 L1598.6,693.4 L1600.6,694.6 L1602.5,695.0 L1604.3,694.5 L1606.1,693.1 L1607.8,691.1 L1609.6,688.6 L1611.3,685.8 L1612.9,682.9 L1614.5,680.0 L1616.8,674.7 L1619.0,667.7 L1621.0,660.0 L1623.0,652.5 L1624.9,646.1 L1626.5,641.6 L1628.0,640.0 L1629.3,642.0 L1630.4,647.2 L1631.2,654.7 L1631.9,663.6 L1632.5,673.1 L1633.2,682.1 L1634.0,690.0 L1634.7,697.0 L1635.3,704.4 L1635.9,711.9 L1636.6,719.1 L1637.4,725.6 L1638.5,731.0 L1640.0,735.0 L1641.1,736.7 L1642.3,738.2 L1643.6,739.3 L1644.9,740.0 L1646.0,740.0 L1647.1,738.6 L1648.1,735.7 L1648.9,731.8 L1649.7,727.6 L1650.4,723.8 L1651.2,721.1 L1652.0,720.0 L1652.9,720.7 L1653.7,722.7 L1654.6,725.6 L1655.5,729.1 L1656.3,732.9 L1657.2,736.6 L1658.0,740.0 L1658.9,743.9 L1659.7,748.2 L1660.5,752.7 L1661.2,757.2 L1662.1,761.4 L1663.0,765.0 L1664.0,768.0 L1664.8,769.8 L1665.6,771.5 L1666.5,773.0 L1667.4,774.0 L1668.5,774.4 L1669.6,774.0 L1670.8,772.7 L1672.1,770.9 L1673.5,768.9 L1674.8,767.0 L1676.2,765.6 L1677.5,765.0 L1678.8,765.1 L1680.0,765.6 L1681.3,766.4 L1682.5,767.4 L1683.8,768.7 L1685.0,770.0 L1686.7,772.4 L1688.4,775.6 L1690.0,779.3 L1691.6,783.1 L1693.3,786.9 L1695.1,790.3 L1697.0,793.0 L1698.6,794.8 L1700.3,796.5 L1702.1,798.2 L1703.9,799.6 L1705.7,800.7 L1707.4,801.3 L1709.0,801.4 L1710.5,800.8 L1711.9,799.7 L1713.3,798.1 L1714.6,796.3 L1715.8,794.2 L1716.9,792.1 L1718.0,790.0 L1719.1,787.6 L1720.0,784.9 L1720.8,782.2 L1721.5,779.3 L1722.2,776.3 L1723.1,773.2 L1724.0,770.0 L1725.5,765.5 L1727.3,760.7 L1729.1,755.7 L1731.0,750.6 L1732.9,745.3 L1734.6,740.1 L1736.0,735.0 L1737.2,730.1 L1738.2,725.4 L1739.0,720.7 L1739.8,715.9 L1740.6,710.9 L1741.3,705.7 L1742.0,700.0 L1743.0,691.1 L1743.9,681.3 L1744.7,670.9 L1745.5,660.2 L1746.3,649.6 L1747.1,639.4 L1748.0,630.0 L1748.8,623.1 L1749.7,616.6 L1750.5,610.4 L1751.4,604.2 L1752.3,598.0 L1753.2,591.7 L1754.0,585.0 L1754.9,576.7 L1755.8,567.9 L1756.6,558.8 L1757.4,549.7 L1758.2,540.9 L1759.1,532.6 L1760.0,525.0 L1760.7,520.1 L1761.3,515.3 L1761.9,510.8 L1762.6,506.6 L1763.3,502.5 L1764.1,498.6 L1765.0,495.0 L1765.7,492.3 L1766.4,489.5 L1767.1,486.7 L1767.9,484.2 L1768.8,482.1 L1769.6,480.6 L1770.6,480.0 L1771.5,480.5 L1772.6,482.0 L1773.6,484.0 L1774.7,486.2 L1775.8,488.2 L1776.8,489.6 L1777.7,490.0 L1779.2,487.9 L1780.3,482.8 L1781.2,475.6 L1781.9,467.0 L1782.6,457.7 L1783.3,448.4 L1784.0,440.0 L1784.9,430.4 L1785.7,420.0 L1786.4,409.3 L1787.1,398.5 L1787.9,388.2 L1788.9,378.5 L1790.0,370.0 L1790.9,364.5 L1791.8,358.8 L1792.7,353.1 L1793.8,348.0 L1794.8,343.9 L1795.9,341.1 L1797.0,340.0 L1798.0,340.7 L1798.9,342.7 L1800.0,345.7 L1801.0,349.3 L1802.0,353.1 L1803.0,356.8 L1804.0,360.0 L1804.9,363.2 L1805.8,366.9 L1806.7,370.7 L1807.6,374.3 L1808.4,377.3 L1809.2,379.3 L1810.0,380.0 L1811.0,378.1 L1811.9,373.0 L1812.6,365.7 L1813.4,356.9 L1814.2,347.5 L1815.2,338.2 L1816.5,330.0 L1818.3,320.5 L1820.2,309.5 L1822.4,298.1 L1824.8,287.2 L1827.3,278.0 L1829.8,271.6 L1832.4,269.0 L1834.1,269.8 L1835.8,272.2 L1837.6,275.8 L1839.4,280.1 L1841.3,284.6 L1843.1,288.7 L1845.0,292.0 L1846.6,294.0 L1848.2,295.7 L1849.8,297.3 L1851.5,298.8 L1853.1,300.6 L1854.6,302.6 L1856.0,305.0 L1858.1,310.7 L1859.8,317.8 L1861.3,325.9 L1862.6,334.4 L1863.9,342.9 L1865.3,350.9 L1867.0,358.0 L1868.6,362.8 L1870.3,367.2 L1872.1,371.5 L1873.9,375.6 L1875.6,379.6 L1877.1,383.8 L1878.4,388.0 L1879.4,392.2 L1880.2,396.5 L1880.8,400.8 L1881.4,405.1 L1881.9,409.4 L1882.4,413.7 L1883.0,418.0 L1883.6,422.4 L1884.1,427.1 L1884.6,431.7 L1885.1,436.3 L1885.7,440.7 L1886.5,444.6 L1887.4,448.0 L1888.1,449.9 L1888.7,451.8 L1889.5,453.6 L1890.3,455.2 L1891.1,456.6 L1892.0,457.5 L1893.0,458.0 L1894.2,457.7 L1895.6,456.6 L1897.1,455.0 L1898.6,453.5 L1900.0,452.3 L1901.3,452.0 L1902.4,452.5 L1903.4,453.4 L1904.4,454.7 L1905.4,456.3 L1906.3,458.1 L1907.2,460.0 L1908.0,462.0 L1909.3,465.6 L1910.3,469.7 L1911.3,474.3 L1912.2,479.2 L1913.1,484.2 L1914.0,489.2 L1915.0,494.0 L1916.0,499.4 L1917.0,505.5 L1918.0,511.8 L1919.0,517.8 L1920.2,522.9 L1921.5,526.5 L1923.0,528.0 L1924.2,527.5 L1925.4,525.7 L1926.8,523.2 L1928.2,520.3 L1929.7,517.6 L1931.3,515.3 L1933.0,514.0 L1934.7,513.8 L1936.6,514.3 L1938.5,515.2 L1940.6,516.2 L1942.5,517.0 L1944.4,517.4 L1946.0,517.0 L1948.2,514.5 L1949.9,510.3 L1951.3,504.8 L1952.6,498.9 L1953.8,493.0 L1955.3,487.8 L1957.0,484.0 L1958.2,482.5 L1959.5,481.4 L1960.9,480.5 L1962.2,479.6 L1963.6,478.7 L1964.8,477.6 L1966.0,476.0 L1967.8,472.2 L1969.4,467.4 L1970.7,461.9 L1971.9,456.0 L1973.1,449.9 L1974.2,443.8 L1975.5,438.0 L1976.9,432.2 L1978.3,426.3 L1979.7,420.4 L1981.1,414.5 L1982.4,408.6 L1983.7,402.7 L1985.0,397.0 L1986.0,391.5 L1986.9,385.7 L1987.6,379.9 L1988.5,374.3 L1989.5,369.2 L1990.8,364.6 L1992.5,361.0 L1993.8,359.3 L1995.2,357.8 L1996.7,356.5 L1998.3,355.5 L1999.9,354.5 L2001.5,353.7 L2003.0,353.0 L2004.7,352.5 L2006.4,352.4 L2008.1,352.3 L2009.7,352.0 L2011.0,351.0 L2012.4,348.1 L2013.3,343.8 L2013.7,338.6 L2013.9,332.7 L2014.0,326.7 L2014.2,321.0 L2014.6,316.0 L2015.1,312.3 L2015.6,308.7 L2016.1,305.2 L2016.6,301.8 L2017.1,298.5 L2017.6,295.2 L2018.2,292.0 L2018.7,289.2 L2019.1,286.3 L2019.5,283.4 L2020.0,280.6 L2020.5,278.1 L2021.2,275.8 L2021.9,274.0 L2023.0,272.2 L2024.2,270.9 L2025.5,270.0 L2027.2,269.6 L2029.0,269.6" stroke="#008080"/>
<path d="M213.0,271.5 L218.3,271.4 L223.5,271.3 L228.8,271.3 L234.0,271.2 L239.3,271.1 L244.6,271.0 L250.0,271.0 L255.7,271.0 L261.4,270.9 L267.1,270.9 L272.9,270.9 L278.7,270.9 L284.4,271.0 L290.0,271.0 L295.4,270.9 L300.9,270.7 L306.3,270.5 L311.7,270.3 L316.8,270.4 L321.7,270.7 L326.0,271.5 L328.8,272.3 L331.4,273.3 L333.7,274.4 L336.0,275.7 L338.2,277.0 L340.5,278.5 L342.8,280.0 L345.7,281.9 L348.7,283.9 L351.7,286.1 L354.7,288.4 L357.6,290.8 L360.2,293.3 L362.7,296.0 L364.9,298.8 L366.8,301.7 L368.6,304.8 L370.3,308.0 L371.9,311.3 L373.4,314.6 L375.0,318.0 L376.7,321.8 L378.3,325.6 L379.9,329.5 L381.4,333.5 L382.8,337.6 L384.2,341.8 L385.5,346.0 L386.8,350.7 L388.1,355.5 L389.3,360.4 L390.4,365.4 L391.5,370.3 L392.5,375.2 L393.5,380.0 L394.3,384.4 L395.1,388.7 L395.8,392.9 L396.5,397.2 L397.1,401.4 L397.8,405.7 L398.5,410.0 L399.2,414.4 L400.0,418.8 L400.7,423.3 L401.5,427.7 L402.2,432.1 L403.0,436.6 L403.7,441.0 L404.4,445.4 L405.2,449.7 L405.9,454.1 L406.6,458.4 L407.3,462.8 L408.1,467.1 L408.8,471.5 L409.5,475.9 L410.3,480.2 L411.0,484.6 L411.7,488.9 L412.4,493.3 L413.2,497.6 L413.9,502.0 L414.6,506.4 L415.4,510.7 L416.1,515.1 L416.8,519.5 L417.5,523.9 L418.3,528.2 L419.0,532.6 L419.7,537.0 L420.4,541.4 L421.1,545.8 L421.8,550.1 L422.5,554.5 L423.3,558.8 L424.0,563.0 L424.7,566.8 L425.4,570.6 L426.1,574.3 L426.8,578.0 L427.6,581.7 L428.3,585.3 L429.0,589.0 L429.7,592.6 L430.4,596.2 L431.1,599.7 L431.9,603.3 L432.6,606.8 L433.3,610.4 L434.0,614.0 L434.7,617.7 L435.4,621.4 L436.1,625.1 L436.9,628.9 L437.6,632.6 L438.3,636.3 L439.0,640.0 L439.7,643.6 L440.4,647.2 L441.1,650.9 L441.7,654.5 L442.5,658.0 L443.2,661.6 L444.0,665.0 L444.8,668.1 L445.6,671.2 L446.4,674.2 L447.3,677.2 L448.2,680.2 L449.1,683.1 L450.0,686.0 L450.9,688.8 L451.9,691.6 L452.8,694.3 L453.8,697.0 L454.9,699.7 L455.9,702.4 L457.0,705.0 L458.1,707.5 L459.2,710.0 L460.3,712.4 L461.4,714.8 L462.6,717.2 L463.8,719.6 L465.0,722.0 L466.3,724.3 L467.6,726.7 L468.9,729.0 L470.3,731.3 L471.6,733.6 L473.1,735.8 L474.5,738.0 L475.9,740.1 L477.4,742.2 L478.8,744.2 L480.3,746.2 L481.8,748.2 L483.4,750.1 L485.0,752.0 L486.6,753.8 L488.3,755.7 L489.9,757.5 L491.6,759.2 L493.4,760.9 L495.2,762.5 L497.0,764.0 L498.8,765.4 L500.5,766.7 L502.4,767.9 L504.2,769.1 L506.1,770.2 L508.0,771.2 L510.0,772.0 L512.0,772.7 L514.1,773.2 L516.2,773.6 L518.3,773.9 L520.5,774.1 L522.7,774.3 L525.0,774.5 L527.7,774.7 L530.6,775.0 L533.5,775.2 L536.5,775.3 L539.5,775.2 L542.4,775.0 L545.3,774.5 L548.2,773.7 L551.1,772.7 L554.0,771.5 L556.9,770.0 L559.7,768.5 L562.4,766.8 L565.0,765.0 L567.6,763.0 L570.1,760.8 L572.6,758.5 L574.9,756.0 L577.3,753.4 L579.5,750.7 L581.8,748.0 L584.2,744.9 L586.6,741.6 L588.9,738.2 L591.2,734.6 L593.4,731.1 L595.7,727.5 L598.0,724.0 L600.4,720.4 L602.9,716.8 L605.3,713.2 L607.8,709.6 L610.2,705.9 L612.6,702.1 L615.0,698.2 L617.5,693.8 L620.1,689.1 L622.6,684.4 L625.0,679.6 L627.4,674.9 L629.8,670.3 L632.0,666.0 L633.8,662.6 L635.5,659.4 L637.1,656.3 L638.7,653.2 L640.3,650.1 L641.9,647.1 L643.5,644.0 L645.0,641.0 L646.6,638.0 L648.0,635.0 L649.5,632.0 L651.0,629.0 L652.5,626.0 L654.0,623.0 L655.5,620.1 L657.0,617.1 L658.5,614.2 L660.0,611.3 L661.5,608.4 L662.9,605.4 L664.4,602.3 L665.9,598.9 L667.5,595.5 L669.0,592.1 L670.5,588.5 L672.0,585.0 L673.5,581.5 L675.0,578.0 L676.5,574.5 L678.0,570.9 L679.6,567.3 L681.1,563.7 L682.6,560.2 L684.0,556.8 L685.3,553.5 L686.3,550.8 L687.3,548.2 L688.2,545.6 L689.1,543.1 L690.0,540.7 L691.0,538.3 L692.0,536.0 L692.9,534.0 L693.9,531.9 L694.8,530.0 L695.8,528.1 L696.8,526.2 L698.0,524.5 L699.2,523.0 L700.4,521.7 L701.8,520.4 L703.2,519.1 L704.7,518.0 L706.2,517.1 L707.6,516.4 L709.0,516.0 L710.8,515.9 L712.6,516.3 L714.3,517.1 L716.0,518.0 L717.3,518.9 L718.5,519.9 L719.6,521.1 L720.7,522.5 L721.8,524.0 L722.9,525.7 L724.2,528.3 L725.6,531.3 L726.8,534.7 L728.0,538.2 L729.1,541.7 L730.2,545.1 L731.2,548.0 L731.9,549.8 L732.4,551.5 L733.0,553.0 L733.5,554.6 L734.0,556.2 L734.6,557.9 L735.3,560.0 L736.7,564.5 L738.3,569.7 L740.1,575.5 L742.0,581.7 L743.9,587.9 L745.9,594.1 L747.9,600.0 L749.9,606.1 L751.9,612.6 L754.0,619.3 L756.1,625.7 L758.3,631.5 L760.6,636.4 L763.0,640.0 L764.5,641.5 L766.0,642.8 L767.5,643.9 L769.0,644.6 L770.6,645.0 L772.0,645.0 L773.3,644.6 L774.6,643.8 L775.8,642.7 L777.0,641.3 L778.2,639.7 L779.4,637.9 L780.6,636.0 L782.9,631.7 L785.2,626.4 L787.4,620.3 L789.6,613.7 L791.8,607.0 L793.8,600.3 L795.7,594.0 L797.4,588.2 L799.0,582.3 L800.5,576.5 L801.9,570.7 L803.2,564.8 L804.5,558.9 L805.8,553.0 L807.0,546.8 L808.0,540.4 L808.9,534.0 L809.8,527.6 L810.8,521.4 L811.9,515.5 L813.3,510.0 L814.5,506.0 L815.8,502.2 L817.2,498.5 L818.6,495.0 L820.2,491.6 L821.7,488.3 L823.4,485.0 L825.0,482.0 L826.6,479.1 L828.3,476.2 L830.1,473.4 L831.9,470.7 L833.8,467.9 L835.9,465.0 L838.4,461.6 L841.1,458.3 L843.9,454.9 L846.8,451.5 L849.9,448.1 L852.9,444.6 L856.0,441.2 L859.4,437.4 L862.9,433.6 L866.4,429.7 L870.1,425.8 L873.8,422.1 L877.5,418.4 L881.2,415.0 L884.7,412.0 L888.3,409.2 L891.9,406.6 L895.6,404.0 L899.2,401.4 L902.8,398.8 L906.4,396.0 L910.0,393.0 L913.6,389.9 L917.1,386.8 L920.7,383.7 L924.2,380.6 L927.8,377.7 L931.5,375.0 L935.0,372.7 L938.6,370.6 L942.2,368.6 L945.8,366.6 L949.5,364.7 L953.1,362.8 L956.7,360.7 L960.3,358.6 L964.0,356.5 L967.6,354.4 L971.2,352.2 L974.8,350.0 L978.3,347.6 L981.8,345.0 L985.5,341.9 L989.1,338.4 L992.7,334.7 L996.2,331.0 L999.7,327.3 L1003.3,323.8 L1007.0,320.5 L1010.5,317.7 L1014.0,315.0 L1017.6,312.4 L1021.2,309.9 L1024.8,307.5 L1028.4,305.2 L1032.1,303.0 L1035.6,301.0 L1039.2,299.0 L1042.8,297.1 L1046.4,295.4 L1050.0,293.6 L1053.7,292.0 L1057.3,290.3 L1060.9,288.7 L1064.4,287.0 L1068.0,285.4 L1071.6,283.9 L1075.1,282.4 L1078.8,281.2 L1082.4,280.2 L1086.0,279.5 L1089.7,279.0 L1093.5,278.6 L1097.2,278.4 L1100.8,278.3 L1104.3,278.1 L1107.6,278.0 L1109.9,277.8 L1112.1,277.6 L1114.2,277.4 L1116.3,277.2 L1118.3,277.2 L1120.5,277.3 L1122.7,277.7 L1125.8,278.7 L1129.1,280.3 L1132.4,282.1 L1135.8,284.2 L1139.2,286.1 L1142.3,287.8 L1145.3,289.0 L1147.2,289.6 L1149.1,290.1 L1150.8,290.5 L1152.5,290.8 L1154.3,291.0 L1156.0,291.1 L1157.9,291.0 L1160.1,290.7 L1162.4,290.2 L1164.7,289.5 L1167.0,288.7 L1169.4,287.8 L1171.9,286.9 L1174.6,286.0 L1178.5,284.8 L1182.8,283.6 L1187.2,282.3 L1191.8,280.9 L1196.3,279.6 L1200.4,278.3 L1204.2,277.0 L1206.5,276.1 L1208.7,275.2 L1210.6,274.2 L1212.5,273.3 L1214.5,272.5 L1216.6,271.7 L1219.0,271.0 L1222.7,270.3 L1226.7,269.7 L1231.0,269.3 L1235.5,269.0 L1239.9,268.7 L1244.3,268.5 L1248.5,268.3 L1252.1,268.1 L1255.7,267.9 L1259.2,267.8 L1262.7,267.6 L1266.2,267.6 L1269.7,267.5 L1273.2,267.5 L1276.8,267.4 L1280.5,267.2 L1284.2,267.0 L1287.9,266.9 L1291.4,267.0 L1294.7,267.5 L1297.8,268.3 L1300.2,269.4 L1302.5,270.7 L1304.7,272.3 L1306.7,274.1 L1308.6,276.0 L1310.4,277.9 L1312.0,280.0 L1313.5,282.2 L1314.9,284.5 L1316.1,287.0 L1317.1,289.5 L1318.1,292.2 L1319.1,295.1 L1320.0,298.0 L1321.1,302.0 L1322.1,306.2 L1323.0,310.6 L1323.8,315.1 L1324.5,319.9 L1325.2,324.9 L1326.0,330.0 L1327.0,337.0 L1327.8,344.4 L1328.7,352.2 L1329.5,360.2 L1330.3,368.4 L1331.1,376.7 L1332.0,385.0 L1333.0,394.7 L1334.1,404.7 L1335.2,415.0 L1336.4,425.4 L1337.5,435.6 L1338.5,445.5 L1339.5,455.0 L1340.3,462.6 L1341.1,469.8 L1341.8,476.9 L1342.5,483.8 L1343.2,490.8 L1343.9,497.8 L1344.6,505.0 L1345.3,512.8 L1346.0,520.9 L1346.6,529.1 L1347.3,537.3 L1347.9,545.2 L1348.7,552.9 L1349.5,560.0 L1350.1,565.5 L1350.7,571.3 L1351.3,576.9 L1351.9,582.2 L1352.7,586.8 L1353.7,590.5 L1355.0,593.0 L1356.4,594.3 L1357.9,594.9 L1359.4,594.7 L1360.7,593.3 L1362.0,590.6 L1363.1,587.0 L1364.3,582.9 L1365.5,578.4 L1366.7,574.0 L1368.0,570.0 L1369.5,565.8 L1371.0,561.5 L1372.6,557.1 L1374.2,552.6 L1376.0,548.3 L1377.9,544.0 L1380.0,540.0 L1382.4,535.8 L1385.2,531.2 L1388.2,526.6 L1391.2,522.3 L1394.1,518.8 L1396.7,516.5 L1398.8,515.9 L1400.1,516.8 L1401.2,518.7 L1402.1,521.3 L1402.9,524.6 L1403.6,528.1 L1404.3,531.6 L1405.0,535.0 L1406.0,539.4 L1406.9,544.2 L1407.8,549.2 L1408.6,554.4 L1409.4,559.7 L1410.2,564.9 L1411.0,570.0 L1411.8,575.0 L1412.5,580.1 L1413.2,585.2 L1413.9,590.2 L1414.6,595.2 L1415.3,600.2 L1416.0,605.0 L1416.7,609.8 L1417.4,615.2 L1418.2,620.7 L1418.9,625.8 L1419.6,630.0 L1420.3,632.9 L1421.0,634.0 L1421.6,632.8 L1422.3,629.6 L1422.8,624.8 L1423.4,619.0 L1423.9,612.6 L1424.4,606.1 L1425.0,600.0 L1425.8,591.4 L1426.6,582.1 L1427.5,572.2 L1428.3,561.9 L1429.1,551.4 L1429.8,540.7 L1430.5,530.0 L1431.2,517.5 L1431.7,504.5 L1432.2,491.1 L1432.6,477.6 L1433.1,464.4 L1433.7,451.8 L1434.5,440.0 L1435.1,431.2 L1435.7,422.4 L1436.4,413.9 L1437.1,405.8 L1438.0,398.2 L1439.1,391.2 L1440.5,385.0 L1441.6,381.3 L1442.7,377.6 L1444.0,373.9 L1445.4,370.7 L1446.7,368.1 L1447.9,366.4 L1449.1,365.8 L1450.1,366.4 L1451.2,368.1 L1452.1,370.7 L1453.1,373.9 L1453.9,377.4 L1454.8,381.2 L1455.5,385.0 L1456.7,393.0 L1457.5,402.6 L1458.0,413.4 L1458.4,424.9 L1458.7,436.8 L1459.1,448.6 L1459.5,460.0 L1460.0,471.9 L1460.5,483.9 L1461.0,496.1 L1461.5,508.4 L1462.0,520.6 L1462.5,532.9 L1463.0,545.0 L1463.5,558.4 L1464.1,573.6 L1464.6,589.3 L1465.2,604.1 L1465.8,616.4 L1466.5,624.8 L1467.4,628.0 L1468.1,626.3 L1469.0,621.5 L1469.9,614.5 L1470.8,606.1 L1471.7,597.0 L1472.6,588.0 L1473.5,580.0 L1474.5,570.5 L1475.4,559.3 L1476.3,547.5 L1477.2,536.3 L1478.2,526.9 L1479.1,520.4 L1480.0,518.0 L1480.7,519.2 L1481.4,522.6 L1482.2,527.7 L1482.9,533.9 L1483.6,540.9 L1484.3,548.1 L1485.0,555.0 L1486.0,569.0 L1486.8,587.1 L1487.5,607.0 L1488.3,626.6 L1489.3,643.4 L1490.6,655.3 L1492.5,660.0 L1493.7,658.7 L1495.0,655.2 L1496.4,650.3 L1497.9,644.9 L1499.4,640.0 L1500.8,636.4 L1502.1,635.0 L1503.3,636.3 L1504.4,639.6 L1505.5,644.1 L1506.6,649.0 L1507.7,653.5 L1508.7,656.8 L1509.8,658.0 L1511.5,654.7 L1513.1,646.4 L1514.7,635.1 L1516.3,622.8 L1517.9,611.5 L1519.6,603.2 L1521.4,600.0 L1523.2,603.0 L1524.9,610.7 L1526.7,621.4 L1528.5,633.0 L1530.5,643.8 L1532.6,651.7 L1534.9,655.0 L1536.7,653.8 L1538.6,650.2 L1540.6,645.3 L1542.6,639.9 L1544.7,634.9 L1546.6,631.3 L1548.4,630.0 L1550.2,631.9 L1551.9,636.5 L1553.6,642.8 L1555.1,649.6 L1556.7,655.8 L1558.3,660.3 L1559.9,662.0 L1562.1,658.8 L1564.3,650.6 L1566.6,639.4 L1568.9,627.3 L1571.1,616.2 L1573.2,608.1 L1575.3,605.0 L1577.3,608.0 L1579.0,615.7 L1580.6,626.6 L1582.2,639.1 L1584.0,651.5 L1586.3,662.4 L1589.0,670.0 L1590.7,672.9 L1592.6,675.6 L1594.5,678.0 L1596.6,680.1 L1598.6,681.7 L1600.6,682.7 L1602.5,683.0 L1604.3,682.6 L1606.1,681.4 L1607.9,679.7 L1609.6,677.6 L1611.3,675.2 L1612.9,672.6 L1614.5,670.0 L1616.8,664.8 L1619.0,657.9 L1621.1,650.2 L1623.1,642.7 L1624.9,636.2 L1626.5,631.6 L1628.0,630.0 L1629.3,632.0 L1630.4,637.2 L1631.2,644.7 L1631.9,653.6 L1632.5,663.1 L1633.2,672.1 L1634.0,680.0 L1634.7,687.0 L1635.3,694.6 L1635.8,702.3 L1636.4,709.6 L1637.3,716.1 L1638.4,721.4 L1640.0,725.0 L1641.4,726.5 L1643.0,727.6 L1644.6,728.1 L1646.0,728.0 L1647.1,726.8 L1648.0,724.4 L1648.9,721.3 L1649.7,718.0 L1650.4,715.0 L1651.2,712.8 L1652.0,712.0 L1652.9,712.6 L1653.7,714.1 L1654.6,716.4 L1655.5,719.1 L1656.4,722.2 L1657.2,725.2 L1658.0,728.0 L1658.9,731.6 L1659.8,735.7 L1660.6,740.0 L1661.3,744.3 L1662.1,748.4 L1663.0,752.0 L1664.0,755.0 L1664.8,757.1 L1665.6,759.0 L1666.5,760.7 L1667.4,761.9 L1668.5,762.4 L1669.6,761.9 L1670.8,760.4 L1672.1,758.4 L1673.5,756.2 L1674.9,754.1 L1676.2,752.6 L1677.5,752.0 L1678.6,752.2 L1679.7,752.9 L1680.7,754.0 L1681.8,755.3 L1682.9,756.8 L1683.9,758.4 L1685.0,760.0 L1686.7,762.9 L1688.3,766.5 L1689.8,770.6 L1691.5,774.7 L1693.2,778.7 L1695.0,782.2 L1697.0,785.0 L1698.6,786.7 L1700.3,788.3 L1702.1,789.7 L1703.9,790.9 L1705.7,791.9 L1707.4,792.4 L1709.0,792.4 L1710.4,791.9 L1711.8,791.0 L1713.1,789.6 L1714.4,788.0 L1715.6,786.1 L1716.8,784.1 L1718.0,782.0 L1719.9,778.2 L1721.8,773.8 L1723.5,768.9 L1725.2,763.7 L1726.9,758.2 L1728.5,752.7 L1730.0,747.4 L1731.6,741.7 L1733.2,736.1 L1734.7,730.4 L1736.1,724.5 L1737.5,718.4 L1738.8,711.9 L1740.0,705.0 L1741.5,694.2 L1742.8,682.1 L1743.9,669.3 L1744.9,656.1 L1745.9,643.2 L1746.9,631.0 L1748.0,620.0 L1748.9,612.9 L1749.7,606.2 L1750.6,600.0 L1751.5,593.9 L1752.3,587.8 L1753.2,581.5 L1754.0,575.0 L1754.9,567.3 L1755.7,559.2 L1756.6,550.9 L1757.4,542.7 L1758.2,534.7 L1759.1,527.0 L1760.0,520.0 L1760.7,515.2 L1761.3,510.6 L1762.0,506.2 L1762.7,501.9 L1763.4,497.8 L1764.2,493.9 L1765.0,490.0 L1765.7,486.6 L1766.4,482.8 L1767.2,479.1 L1768.0,475.6 L1768.8,472.8 L1769.7,470.8 L1770.6,470.0 L1771.5,470.8 L1772.6,473.0 L1773.6,475.9 L1774.7,479.2 L1775.8,482.1 L1776.8,484.3 L1777.7,485.0 L1779.1,482.8 L1780.2,477.2 L1781.1,469.2 L1781.8,459.6 L1782.5,449.3 L1783.2,439.1 L1784.0,430.0 L1784.9,420.1 L1785.6,409.6 L1786.3,398.7 L1787.0,387.9 L1787.8,377.6 L1788.8,368.2 L1790.0,360.0 L1790.9,355.3 L1791.8,350.5 L1792.7,345.8 L1793.8,341.6 L1794.8,338.2 L1795.9,335.9 L1797.0,335.0 L1798.0,335.6 L1799.0,337.3 L1800.0,339.8 L1801.0,342.8 L1802.0,346.1 L1803.0,349.2 L1804.0,352.0 L1804.9,354.9 L1805.8,358.2 L1806.7,361.6 L1807.6,364.8 L1808.4,367.5 L1809.2,369.4 L1810.0,370.0 L1811.0,368.3 L1811.9,363.7 L1812.7,357.2 L1813.4,349.3 L1814.2,340.8 L1815.2,332.4 L1816.5,325.0 L1818.3,316.2 L1820.4,306.0 L1822.7,295.3 L1825.1,285.1 L1827.6,276.5 L1830.1,270.5 L1832.4,268.0 L1833.5,268.3 L1834.6,269.6 L1835.6,271.4 L1836.7,273.6 L1837.8,275.9 L1838.9,278.1 L1840.0,280.0 L1841.1,281.5 L1842.2,283.0 L1843.4,284.4 L1844.5,285.9 L1845.7,287.3 L1846.8,288.7 L1848.0,290.0 L1849.1,291.2 L1850.3,292.2 L1851.5,293.1 L1852.7,294.1 L1853.8,295.2 L1854.9,296.6 L1856.0,298.3 L1858.0,303.5 L1859.7,310.4 L1861.2,318.5 L1862.5,327.2 L1863.9,335.9 L1865.4,344.1 L1867.2,351.1 L1868.7,355.6 L1870.4,359.8 L1872.2,363.8 L1873.9,367.6 L1875.6,371.4 L1877.1,375.2 L1878.4,379.2 L1879.4,383.1 L1880.2,387.1 L1880.8,391.0 L1881.3,395.0 L1881.8,399.1 L1882.3,403.1 L1882.9,407.3 L1883.5,412.1 L1884.0,417.4 L1884.5,422.7 L1885.0,428.0 L1885.6,432.9 L1886.4,437.3 L1887.4,441.0 L1888.1,442.8 L1888.7,444.5 L1889.5,446.0 L1890.2,447.4 L1891.1,448.6 L1892.0,449.5 L1893.0,450.0 L1894.5,449.9 L1896.2,449.1 L1898.0,448.0 L1899.7,447.1 L1901.3,447.0 L1902.6,447.6 L1903.8,448.5 L1904.9,449.8 L1906.0,451.4 L1907.0,453.1 L1908.0,455.0 L1909.3,458.2 L1910.4,462.0 L1911.4,466.4 L1912.3,471.0 L1913.1,475.8 L1914.0,480.5 L1915.0,485.0 L1916.0,490.0 L1916.9,495.8 L1917.8,501.7 L1918.8,507.3 L1919.9,512.1 L1921.3,515.6 L1923.0,517.3 L1924.4,517.1 L1926.0,515.8 L1927.7,513.9 L1929.5,511.7 L1931.3,509.5 L1933.1,507.8 L1935.0,506.8 L1936.7,506.8 L1938.5,507.3 L1940.3,508.2 L1942.1,509.1 L1943.8,509.8 L1945.5,510.2 L1947.0,509.8 L1949.1,507.4 L1950.8,503.4 L1952.2,498.1 L1953.5,492.3 L1954.7,486.4 L1955.9,481.1 L1957.4,476.9 L1958.5,474.9 L1959.6,473.1 L1960.7,471.6 L1961.8,470.1 L1962.9,468.6 L1964.0,466.9 L1965.0,464.9 L1966.4,461.4 L1967.8,457.5 L1969.1,453.3 L1970.3,448.8 L1971.6,444.2 L1972.8,439.5 L1974.0,434.9 L1975.4,429.8 L1976.7,424.5 L1978.0,419.1 L1979.3,413.7 L1980.6,408.3 L1981.8,402.8 L1983.0,397.4 L1984.1,391.8 L1985.0,386.0 L1985.8,380.1 L1986.7,374.3 L1987.6,368.9 L1988.9,364.0 L1990.4,360.0 L1991.5,357.9 L1992.6,356.0 L1993.8,354.3 L1995.1,352.7 L1996.5,351.4 L1997.9,350.3 L1999.4,349.5 L2000.8,349.2 L2002.4,349.3 L2004.0,349.6 L2005.7,350.0 L2007.2,350.2 L2008.7,350.1 L2009.9,349.5 L2011.6,346.8 L2012.6,342.4 L2013.3,337.0 L2013.6,330.9 L2013.8,324.7 L2014.1,318.8 L2014.6,313.7 L2015.1,310.2 L2015.6,306.7 L2016.1,303.4 L2016.6,300.2 L2017.1,297.1 L2017.7,294.0 L2018.2,291.0 L2018.7,288.3 L2019.1,285.5 L2019.5,282.7 L2020.0,280.0 L2020.5,277.6 L2021.2,275.4 L2021.9,273.7 L2023.0,271.9 L2024.2,270.6 L2025.5,270.0 L2027.3,270.6 L2029.2,271.8" stroke="#FF00FF"/>
<path d="M213.0,271.5 L218.3,271.4 L223.5,271.3 L228.8,271.3 L234.0,271.2 L239.3,271.1 L244.6,271.0 L250.0,271.0 L255.7,271.0 L261.4,270.9 L267.1,270.9 L272.9,270.9 L278.7,270.9 L284.4,271.0 L290.0,271.0 L295.4,270.9 L300.9,270.5 L306.4,270.1 L311.8,269.8 L317.0,269.8 L321.7,270.3 L326.0,271.5 L328.9,273.0 L331.5,274.9 L333.8,277.1 L336.0,279.5 L338.1,282.0 L340.4,284.4 L342.8,286.5 L345.6,288.5 L348.6,290.3 L351.6,292.1 L354.7,293.8 L357.6,295.7 L360.3,297.6 L362.7,299.8 L364.5,301.9 L366.1,304.0 L367.6,306.3 L368.9,308.6 L370.1,311.1 L371.3,313.7 L372.6,316.4 L374.2,320.1 L375.7,324.1 L377.2,328.4 L378.6,332.8 L380.0,337.2 L381.3,341.7 L382.6,346.2 L383.9,350.9 L385.1,355.7 L386.3,360.6 L387.4,365.5 L388.5,370.4 L389.5,375.2 L390.5,380.0 L391.3,384.4 L392.1,388.7 L392.8,392.9 L393.5,397.2 L394.1,401.4 L394.8,405.7 L395.5,410.0 L396.2,414.4 L397.0,418.8 L397.7,423.3 L398.5,427.7 L399.2,432.1 L400.0,436.6 L400.7,441.0 L401.4,445.4 L402.2,449.7 L402.9,454.1 L403.6,458.4 L404.3,462.8 L405.1,467.1 L405.8,471.5 L406.5,475.9 L407.3,480.2 L408.0,484.6 L408.7,489.0 L409.4,493.4 L410.2,497.7 L410.9,502.1 L411.6,506.5 L412.4,510.8 L413.1,515.2 L413.8,519.5 L414.6,523.9 L415.3,528.2 L416.0,532.6 L416.7,537.0 L417.4,541.4 L418.1,545.9 L418.8,550.3 L419.5,554.7 L420.3,559.0 L421.0,563.2 L421.7,567.0 L422.4,570.8 L423.1,574.4 L423.8,578.1 L424.5,581.7 L425.3,585.4 L426.0,589.0 L426.7,592.6 L427.5,596.2 L428.2,599.7 L429.0,603.3 L429.7,606.8 L430.5,610.4 L431.2,614.0 L431.9,617.7 L432.7,621.4 L433.4,625.1 L434.1,628.9 L434.8,632.6 L435.6,636.3 L436.3,640.0 L437.0,643.6 L437.7,647.2 L438.4,650.8 L439.1,654.4 L439.8,658.0 L440.6,661.5 L441.4,664.9 L442.2,668.0 L443.1,671.1 L444.0,674.1 L445.0,677.1 L446.0,680.1 L447.0,683.1 L448.0,686.0 L449.0,688.9 L450.1,691.7 L451.1,694.5 L452.2,697.4 L453.3,700.1 L454.4,702.9 L455.6,705.6 L456.7,708.2 L457.9,710.7 L459.0,713.2 L460.2,715.7 L461.4,718.2 L462.7,720.6 L464.0,723.0 L465.3,725.3 L466.7,727.6 L468.1,729.9 L469.5,732.1 L471.0,734.2 L472.5,736.3 L474.0,738.2 L475.4,739.8 L476.8,741.3 L478.2,742.7 L479.6,744.1 L481.1,745.4 L482.5,746.7 L484.0,748.0 L485.4,749.3 L486.9,750.6 L488.3,751.8 L489.8,753.1 L491.2,754.2 L492.8,755.4 L494.3,756.5 L495.9,757.5 L497.5,758.6 L499.2,759.5 L500.9,760.4 L502.6,761.3 L504.3,762.2 L506.0,763.0 L507.7,763.8 L509.4,764.6 L511.1,765.4 L512.8,766.2 L514.7,766.8 L516.6,767.4 L518.7,767.9 L522.0,768.4 L525.7,768.8 L529.6,769.1 L533.7,769.1 L537.8,769.0 L541.7,768.6 L545.3,767.9 L548.4,767.0 L551.3,765.8 L554.2,764.4 L556.9,762.9 L559.7,761.2 L562.4,759.6 L565.2,757.9 L568.1,756.2 L571.0,754.6 L573.9,752.9 L576.8,751.0 L579.6,749.1 L582.4,747.0 L585.1,744.6 L588.1,741.5 L591.0,738.1 L593.8,734.5 L596.6,730.6 L599.3,726.6 L602.1,722.4 L605.0,718.1 L608.7,712.5 L612.6,706.4 L616.6,700.0 L620.5,693.5 L624.4,687.1 L628.1,680.8 L631.6,674.9 L634.4,670.2 L637.1,665.5 L639.8,661.0 L642.3,656.6 L644.7,652.2 L647.0,648.1 L649.1,644.0 L650.6,641.0 L651.9,638.1 L653.2,635.4 L654.4,632.6 L655.6,629.9 L656.8,627.0 L658.2,624.0 L660.0,620.1 L661.8,615.9 L663.7,611.7 L665.7,607.3 L667.6,603.1 L669.5,599.0 L671.4,595.3 L672.8,592.6 L674.3,590.0 L675.7,587.6 L677.1,585.2 L678.5,582.9 L680.0,580.5 L681.4,578.0 L682.9,575.3 L684.3,572.5 L685.8,569.6 L687.2,566.8 L688.8,564.1 L690.5,561.5 L692.3,559.1 L694.2,556.9 L696.3,554.7 L698.5,552.6 L700.8,550.7 L703.1,549.0 L705.4,547.7 L707.7,546.8 L709.5,546.4 L711.4,546.1 L713.3,546.1 L715.1,546.2 L716.9,546.6 L718.6,547.2 L720.2,548.1 L722.0,549.7 L723.6,551.9 L725.1,554.4 L726.4,557.4 L727.7,560.5 L729.0,563.7 L730.3,567.0 L732.2,571.7 L734.1,576.9 L736.0,582.5 L737.9,588.2 L739.6,593.9 L741.3,599.5 L742.9,604.7 L744.1,609.0 L745.1,613.3 L746.0,617.5 L746.9,621.6 L747.8,625.5 L749.0,629.1 L750.4,632.4 L751.6,634.7 L752.9,636.9 L754.3,639.0 L755.8,641.0 L757.3,642.6 L758.9,644.0 L760.5,645.0 L762.1,645.6 L763.8,646.0 L765.5,646.1 L767.2,646.0 L768.9,645.6 L770.5,645.0 L772.1,644.0 L773.6,642.7 L775.1,641.0 L776.5,639.1 L777.9,637.0 L779.3,634.8 L780.6,632.4 L782.6,628.3 L784.5,623.6 L786.3,618.4 L788.1,612.9 L789.8,607.4 L791.5,602.1 L793.2,597.1 L794.7,593.0 L796.2,589.1 L797.6,585.3 L799.1,581.6 L800.5,577.7 L801.9,573.7 L803.2,569.5 L804.7,564.1 L806.2,558.4 L807.6,552.6 L809.0,546.6 L810.4,540.6 L811.8,534.8 L813.3,529.2 L814.6,524.2 L815.9,519.2 L817.2,514.2 L818.5,509.3 L820.0,504.7 L821.6,500.4 L823.4,496.5 L824.9,493.9 L826.5,491.5 L828.2,489.3 L829.9,487.2 L831.8,485.2 L833.8,483.3 L835.9,481.4 L838.4,479.5 L841.1,477.7 L844.0,476.1 L847.0,474.5 L850.0,472.9 L853.0,471.0 L856.0,468.9 L859.6,465.9 L863.1,462.4 L866.7,458.8 L870.3,454.9 L873.9,451.1 L877.6,447.3 L881.2,443.7 L884.8,440.3 L888.3,437.0 L891.9,433.7 L895.5,430.4 L899.1,427.2 L902.7,424.1 L906.4,421.1 L909.9,418.4 L913.5,415.7 L917.0,413.2 L920.6,410.7 L924.2,408.3 L927.9,405.9 L931.5,403.5 L935.1,401.3 L938.7,399.3 L942.4,397.3 L946.1,395.4 L949.7,393.3 L953.2,391.0 L956.7,388.4 L960.4,385.1 L964.1,381.4 L967.6,377.4 L971.1,373.3 L974.6,369.2 L978.2,365.3 L981.8,361.5 L985.3,358.1 L988.9,354.8 L992.5,351.5 L996.1,348.3 L999.7,345.2 L1003.4,342.1 L1007.0,339.0 L1010.6,336.0 L1014.1,333.1 L1017.7,330.2 L1021.3,327.3 L1024.9,324.5 L1028.5,321.7 L1032.1,319.0 L1035.7,316.4 L1039.2,313.8 L1042.8,311.3 L1046.4,308.8 L1050.0,306.4 L1053.6,304.2 L1057.3,302.0 L1060.8,300.1 L1064.4,298.2 L1067.9,296.4 L1071.5,294.7 L1075.1,293.1 L1078.8,291.7 L1082.4,290.3 L1086.0,289.1 L1089.7,288.0 L1093.5,287.0 L1097.2,286.1 L1100.8,285.3 L1104.3,284.6 L1107.6,284.0 L1109.9,283.6 L1112.1,283.2 L1114.2,282.9 L1116.2,282.6 L1118.3,282.5 L1120.4,282.6 L1122.7,282.8 L1125.8,283.5 L1129.1,284.7 L1132.4,286.1 L1135.8,287.7 L1139.2,289.2 L1142.4,290.6 L1145.3,291.6 L1147.3,292.2 L1149.1,292.8 L1150.8,293.3 L1152.6,293.7 L1154.3,294.0 L1156.1,294.1 L1157.9,294.1 L1160.1,293.7 L1162.4,293.1 L1164.7,292.2 L1167.0,291.2 L1169.4,290.1 L1171.9,289.0 L1174.6,288.0 L1178.5,286.8 L1182.7,285.6 L1187.2,284.5 L1191.8,283.2 L1196.3,282.0 L1200.5,280.7 L1204.2,279.4 L1206.6,278.3 L1208.7,277.2 L1210.6,276.0 L1212.5,274.9 L1214.5,273.8 L1216.6,272.8 L1219.0,272.0 L1222.7,271.2 L1226.7,270.7 L1231.0,270.3 L1235.5,270.1 L1239.9,270.0 L1244.3,269.8 L1248.5,269.6 L1252.1,269.4 L1255.7,269.1 L1259.2,268.9 L1262.7,268.7 L1266.2,268.6 L1269.7,268.4 L1273.2,268.3 L1276.8,268.1 L1280.5,267.8 L1284.3,267.6 L1288.0,267.4 L1291.5,267.4 L1294.8,267.6 L1297.8,268.3 L1299.9,269.1 L1301.9,270.0 L1303.8,271.2 L1305.5,272.4 L1307.2,273.8 L1308.7,275.4 L1310.1,277.0 L1311.5,279.0 L1312.8,281.3 L1313.9,283.7 L1314.9,286.3 L1315.8,288.9 L1316.6,291.6 L1317.5,294.2 L1318.4,296.9 L1319.1,299.5 L1319.9,302.2 L1320.5,304.9 L1321.2,307.8 L1321.8,310.7 L1322.4,313.9 L1323.2,318.5 L1324.0,323.4 L1324.7,328.6 L1325.3,334.0 L1326.0,339.5 L1326.6,345.1 L1327.3,350.8 L1328.0,357.4 L1328.7,364.2 L1329.4,371.1 L1330.1,378.2 L1330.8,385.4 L1331.5,392.7 L1332.3,400.1 L1333.3,408.6 L1334.3,417.4 L1335.4,426.4 L1336.6,435.4 L1337.7,444.4 L1338.7,453.2 L1339.7,461.7 L1340.5,469.0 L1341.2,476.2 L1341.9,483.2 L1342.6,490.1 L1343.2,497.0 L1343.9,503.9 L1344.6,510.9 L1345.3,518.0 L1345.9,525.1 L1346.5,532.2 L1347.2,539.3 L1347.9,546.3 L1348.6,553.3 L1349.5,560.2 L1350.4,566.9 L1351.3,573.7 L1352.2,580.5 L1353.2,587.1 L1354.4,593.5 L1355.6,599.3 L1356.9,604.5 L1357.8,607.7 L1358.8,611.1 L1359.9,614.3 L1360.9,617.2 L1362.0,619.6 L1363.2,621.2 L1364.3,621.8 L1365.3,621.4 L1366.4,620.3 L1367.5,618.5 L1368.6,616.4 L1369.6,614.0 L1370.7,611.7 L1371.7,609.5 L1372.8,606.9 L1373.8,604.0 L1374.7,601.0 L1375.7,597.9 L1376.7,595.0 L1377.8,592.2 L1379.1,589.8 L1380.3,588.1 L1381.7,586.6 L1383.1,585.3 L1384.6,584.0 L1386.0,582.7 L1387.5,581.4 L1388.9,579.9 L1390.4,578.0 L1391.8,575.8 L1393.3,573.4 L1394.7,571.2 L1396.1,569.3 L1397.5,568.0 L1398.8,567.6 L1400.0,568.1 L1401.1,569.3 L1402.2,571.0 L1403.2,573.0 L1404.3,575.3 L1405.2,577.7 L1406.2,579.9 L1407.4,582.9 L1408.6,586.2 L1409.6,589.7 L1410.7,593.3 L1411.6,597.0 L1412.6,600.8 L1413.5,604.5 L1414.4,609.0 L1415.2,614.2 L1415.8,619.6 L1416.5,624.8 L1417.3,629.2 L1418.2,632.3 L1419.3,633.6 L1420.2,633.5 L1421.1,632.7 L1422.2,631.5 L1423.2,629.9 L1424.1,628.0 L1425.0,626.0 L1426.6,619.6 L1427.8,610.7 L1428.6,600.1 L1429.2,588.3 L1429.7,576.0 L1430.2,563.9 L1430.8,552.7 L1431.4,541.7 L1432.0,530.5 L1432.5,519.2 L1432.9,508.0 L1433.4,496.9 L1434.0,486.0 L1434.7,475.6 L1435.3,466.7 L1436.0,457.9 L1436.7,449.2 L1437.4,440.7 L1438.3,432.6 L1439.3,424.9 L1440.5,417.8 L1441.5,412.6 L1442.7,407.1 L1443.9,401.7 L1445.2,396.7 L1446.6,392.7 L1447.9,389.9 L1449.1,388.9 L1450.1,389.5 L1451.2,391.2 L1452.2,393.8 L1453.2,397.0 L1454.2,400.6 L1455.1,404.4 L1455.9,408.2 L1457.0,415.6 L1457.8,424.3 L1458.3,433.9 L1458.7,444.2 L1458.9,454.8 L1459.3,465.4 L1459.7,475.6 L1460.3,486.4 L1460.8,497.5 L1461.4,508.7 L1461.9,520.0 L1462.5,531.2 L1463.0,542.1 L1463.6,552.7 L1464.1,562.9 L1464.5,574.4 L1464.8,586.0 L1465.3,596.8 L1465.8,605.8 L1466.5,612.0 L1467.4,614.3 L1468.1,613.6 L1468.9,611.5 L1469.8,608.3 L1470.7,604.4 L1471.6,600.0 L1472.4,595.5 L1473.2,591.2 L1474.2,582.9 L1475.1,572.2 L1475.9,560.5 L1476.6,549.0 L1477.3,539.1 L1478.1,532.2 L1479.0,529.6 L1479.8,530.7 L1480.6,533.8 L1481.5,538.4 L1482.3,544.0 L1483.2,550.2 L1484.0,556.4 L1484.8,562.3 L1485.7,571.0 L1486.5,581.0 L1487.2,591.7 L1487.8,602.4 L1488.6,612.8 L1489.5,622.0 L1490.6,629.7 L1491.3,633.4 L1492.0,637.2 L1492.8,640.7 L1493.5,643.9 L1494.4,646.5 L1495.3,648.2 L1496.3,649.0 L1497.1,648.6 L1498.0,647.4 L1498.9,645.7 L1499.9,643.9 L1500.9,642.3 L1502.1,641.3 L1503.5,641.1 L1505.1,641.3 L1506.7,641.7 L1508.3,641.9 L1509.8,641.3 L1512.0,637.5 L1513.9,630.7 L1515.5,622.1 L1516.9,613.1 L1518.4,605.1 L1519.8,599.3 L1521.4,597.0 L1522.8,598.1 L1524.2,601.1 L1525.7,605.5 L1527.1,610.7 L1528.5,616.2 L1529.8,621.4 L1531.0,625.9 L1531.9,629.7 L1532.6,633.9 L1533.2,638.1 L1533.9,642.1 L1534.6,645.5 L1535.6,647.9 L1536.8,649.0 L1538.2,648.4 L1539.7,646.5 L1541.5,643.8 L1543.3,640.8 L1545.1,638.1 L1546.8,636.1 L1548.4,635.5 L1550.2,637.1 L1551.9,640.8 L1553.6,645.7 L1555.2,651.0 L1556.8,655.9 L1558.3,659.3 L1559.9,660.6 L1562.2,657.5 L1564.5,649.7 L1566.8,639.2 L1569.0,627.7 L1571.2,617.2 L1573.3,609.6 L1575.3,606.6 L1576.8,608.0 L1578.3,611.7 L1579.8,617.0 L1581.2,623.2 L1582.5,629.4 L1583.8,635.1 L1585.0,639.4 L1585.6,641.2 L1586.1,642.8 L1586.5,644.3 L1587.0,645.7 L1587.5,647.1 L1588.2,648.5 L1589.0,650.0 L1590.4,652.5 L1592.2,655.5 L1594.1,658.6 L1596.2,661.5 L1598.4,664.0 L1600.5,665.8 L1602.5,666.5 L1604.2,666.2 L1606.0,665.1 L1607.7,663.5 L1609.5,661.5 L1611.2,659.2 L1612.9,656.8 L1614.5,654.5 L1616.6,650.8 L1618.6,646.2 L1620.6,641.1 L1622.5,636.1 L1624.4,631.8 L1626.2,628.7 L1628.0,627.5 L1629.2,627.8 L1630.3,628.7 L1631.5,630.1 L1632.6,631.9 L1633.6,633.9 L1634.6,636.0 L1635.5,638.0 L1636.5,641.1 L1637.4,644.6 L1638.0,648.4 L1638.5,652.5 L1639.0,656.6 L1639.4,660.8 L1640.0,665.0 L1640.6,670.3 L1641.1,676.5 L1641.5,682.9 L1642.0,689.1 L1642.6,694.3 L1643.4,698.0 L1644.5,699.5 L1645.4,698.9 L1646.4,697.0 L1647.5,694.3 L1648.7,691.4 L1649.8,688.7 L1651.0,686.8 L1652.0,686.0 L1652.9,686.4 L1653.8,687.5 L1654.7,689.0 L1655.6,691.0 L1656.5,693.3 L1657.3,695.6 L1658.0,698.0 L1659.1,702.9 L1660.0,709.1 L1660.7,716.0 L1661.4,723.1 L1662.1,729.8 L1662.9,735.6 L1664.0,740.0 L1664.8,742.2 L1665.7,744.2 L1666.7,745.9 L1667.6,747.0 L1668.5,747.4 L1669.1,747.0 L1669.7,745.9 L1670.3,744.3 L1670.9,742.5 L1671.5,740.5 L1672.2,738.6 L1673.0,737.0 L1674.1,735.2 L1675.3,733.2 L1676.7,731.2 L1678.1,729.3 L1679.4,727.7 L1680.8,726.7 L1682.0,726.4 L1683.2,727.0 L1684.3,728.3 L1685.4,730.3 L1686.4,732.6 L1687.4,735.2 L1688.4,737.7 L1689.4,740.0 L1690.5,742.7 L1691.5,745.6 L1692.4,748.7 L1693.3,751.7 L1694.4,754.6 L1695.6,757.2 L1697.0,759.4 L1698.3,760.9 L1699.7,762.3 L1701.3,763.5 L1702.9,764.6 L1704.4,765.5 L1706.0,766.0 L1707.4,766.2 L1708.8,766.0 L1710.1,765.5 L1711.4,764.7 L1712.6,763.6 L1713.8,762.4 L1715.0,761.0 L1716.7,758.4 L1718.3,755.0 L1719.8,751.1 L1721.3,746.9 L1722.7,742.5 L1724.0,738.2 L1725.4,734.0 L1726.8,729.9 L1728.2,725.8 L1729.5,721.8 L1730.8,717.6 L1732.1,713.3 L1733.3,708.8 L1734.4,704.0 L1735.8,697.0 L1737.0,689.3 L1738.1,681.2 L1739.1,672.9 L1740.1,664.8 L1741.1,657.0 L1742.0,650.0 L1742.7,645.4 L1743.4,641.1 L1744.1,637.1 L1744.7,633.2 L1745.3,629.1 L1745.9,624.8 L1746.4,620.0 L1747.0,612.3 L1747.4,603.7 L1747.7,594.7 L1748.0,585.3 L1748.3,575.9 L1748.8,566.6 L1749.4,557.8 L1750.2,549.9 L1751.1,542.2 L1752.1,534.5 L1753.2,526.9 L1754.3,519.4 L1755.4,512.0 L1756.5,504.8 L1757.4,498.2 L1758.1,491.5 L1758.8,484.7 L1759.6,478.2 L1760.6,472.2 L1761.9,466.9 L1763.6,462.5 L1764.9,460.5 L1766.4,459.0 L1768.0,457.7 L1769.6,456.5 L1771.3,455.3 L1772.8,453.8 L1774.2,451.9 L1776.2,448.1 L1777.9,443.8 L1779.6,438.9 L1781.1,433.6 L1782.4,428.1 L1783.6,422.4 L1784.7,416.6 L1785.7,408.7 L1786.2,399.9 L1786.4,390.6 L1786.5,381.2 L1786.7,372.2 L1787.3,363.8 L1788.3,356.5 L1789.3,351.9 L1790.3,347.2 L1791.5,342.7 L1792.8,338.6 L1794.2,335.2 L1795.6,332.8 L1797.1,331.8 L1798.3,332.3 L1799.5,333.8 L1800.8,335.9 L1802.1,338.3 L1803.4,340.4 L1804.7,341.9 L1805.9,342.4 L1807.5,341.4 L1809.1,339.0 L1810.5,335.5 L1812.0,331.3 L1813.5,326.8 L1815.0,322.1 L1816.5,317.7 L1818.8,310.7 L1821.1,302.0 L1823.6,292.6 L1826.0,283.5 L1828.3,275.7 L1830.5,270.2 L1832.4,268.0 L1833.3,268.3 L1834.2,269.5 L1835.1,271.1 L1836.0,272.9 L1836.9,274.7 L1838.0,276.6 L1839.1,278.6 L1840.2,280.9 L1841.4,283.2 L1842.6,285.5 L1843.8,287.8 L1845.0,290.0 L1846.2,292.0 L1847.4,293.9 L1848.7,295.8 L1849.9,297.7 L1851.2,299.6 L1852.5,301.7 L1853.7,303.9 L1855.3,307.0 L1856.9,310.4 L1858.5,313.9 L1860.1,317.5 L1861.7,321.3 L1863.3,325.0 L1864.9,328.7 L1866.6,332.7 L1868.3,336.8 L1869.9,340.9 L1871.6,345.1 L1873.2,349.2 L1874.7,353.1 L1876.2,356.7 L1877.3,359.3 L1878.3,361.8 L1879.3,364.1 L1880.3,366.4 L1881.2,368.7 L1882.1,371.1 L1882.9,373.6 L1883.7,376.6 L1884.4,379.6 L1885.1,382.7 L1885.7,385.9 L1886.3,389.2 L1886.8,392.6 L1887.4,396.1 L1888.1,400.8 L1888.7,406.2 L1889.3,411.7 L1889.9,417.2 L1890.5,422.3 L1891.2,426.6 L1891.9,429.8 L1892.5,431.9 L1893.2,433.5 L1894.2,434.3 L1895.3,434.1 L1896.5,433.3 L1897.9,432.2 L1899.4,431.3 L1900.9,430.9 L1902.4,431.0 L1903.9,431.4 L1905.6,432.0 L1907.1,432.9 L1908.6,434.0 L1909.9,435.4 L1911.5,438.4 L1912.6,442.4 L1913.4,447.1 L1914.0,452.2 L1914.6,457.6 L1915.2,463.0 L1916.0,468.0 L1916.9,473.8 L1917.6,480.4 L1918.3,487.3 L1919.1,493.8 L1920.0,499.4 L1921.3,503.4 L1923.0,505.3 L1924.4,505.0 L1926.0,503.4 L1927.7,501.1 L1929.5,498.5 L1931.4,496.1 L1933.2,494.2 L1935.0,493.3 L1936.5,493.5 L1938.0,494.5 L1939.6,495.8 L1941.1,497.3 L1942.6,498.5 L1944.1,499.3 L1945.4,499.3 L1947.3,497.3 L1948.9,493.4 L1950.2,488.2 L1951.5,482.4 L1952.8,476.7 L1954.3,471.6 L1956.0,467.9 L1957.2,466.5 L1958.5,465.4 L1959.9,464.6 L1961.2,463.9 L1962.6,463.0 L1963.9,461.9 L1965.0,460.4 L1966.8,456.5 L1968.3,451.6 L1969.5,445.9 L1970.6,439.6 L1971.6,433.1 L1972.7,426.4 L1974.0,419.9 L1975.8,411.5 L1977.8,402.2 L1979.8,392.4 L1981.8,382.8 L1983.8,373.8 L1985.7,366.1 L1987.4,360.0 L1988.0,357.9 L1988.5,356.1 L1989.0,354.5 L1989.5,353.0 L1990.1,351.7 L1990.9,350.5 L1991.9,349.5 L1993.3,348.7 L1994.9,348.1 L1996.8,347.7 L1998.7,347.4 L2000.6,347.2 L2002.4,346.9 L2003.9,346.5 L2005.6,345.9 L2007.2,345.4 L2008.6,344.7 L2009.9,343.5 L2011.1,341.1 L2011.9,337.5 L2012.5,333.3 L2013.1,328.9 L2013.8,324.8 L2014.7,321.5 L2015.9,319.5 L2017.3,318.9 L2018.8,318.8 L2020.4,319.1 L2022.0,319.2 L2023.8,319.2 L2025.7,319.3 L2027.5,319.4 L2029.4,319.5" stroke="#808000"/>
</g>
<g fill="none" stroke="#00B050" stroke-width="7.6" stroke-dasharray="7.6 6.6">
<rect x="328" y="248.5" width="356.6" height="601.7"/>
<rect x="706.5" y="468.8" width="121.9" height="199.2"/>
<rect x="1331.8" y="500.2" width="60.9" height="167.4"/>
<rect x="1755.8" y="428.3" width="42.8" height="120.5"/>
</g>
<rect x="169.0" y="68.8" width="1903" height="853.7" fill="none" stroke="#9a9a9a" stroke-width="2.5"/>
<rect x="164.5" y="64.3" width="1912" height="862.7" fill="none" stroke="#000" stroke-width="6.5"/>
<path d="M215.5,927 V954.5 M466.9,927 V954.5 M718.3,927 V954.5 M969.7,927 V954.5 M1221.1,927 V954.5 M1472.5,927 V954.5 M1723.9,927 V954.5 M1975.3,927 V954.5 M341.2,927 V943 M592.6,927 V943 M844.0,927 V943 M1095.4,927 V943 M1346.8,927 V943 M1598.2,927 V943 M1849.6,927 V943" stroke="#000" stroke-width="5.5" fill="none"/>
<text transform="translate(216.5,1016.5)" font-size="65.0" fill="#000" text-anchor="middle">4000</text>
<text transform="translate(467.9,1016.5)" font-size="65.0" fill="#000" text-anchor="middle">3500</text>
<text transform="translate(719.3,1016.5)" font-size="65.0" fill="#000" text-anchor="middle">3000</text>
<text transform="translate(970.7,1016.5)" font-size="65.0" fill="#000" text-anchor="middle">2500</text>
<text transform="translate(1222.1,1016.5)" font-size="65.0" fill="#000" text-anchor="middle">2000</text>
<text transform="translate(1473.5,1016.5)" font-size="65.0" fill="#000" text-anchor="middle">1500</text>
<text transform="translate(1724.9,1016.5)" font-size="65.0" fill="#000" text-anchor="middle">1000</text>
<text transform="translate(1976.3,1016.5)" font-size="65.0" fill="#000" text-anchor="middle">500</text>
<rect x="507.5" y="95" width="1291" height="148.5" fill="#000"/>
<rect x="492.5" y="80" width="1289" height="146.5" fill="#fff" stroke="#666" stroke-width="2"/>
<path d="M575,117.8 H705.4" stroke="#000000" stroke-width="7"/>
<text transform="translate(717.2,137.3)" font-size="56.0" fill="#000">untreated</text>
<path d="M1016.5,117.8 H1148.5" stroke="#FF0000" stroke-width="7"/>
<text transform="translate(1159.4,137.3)" font-size="56.0" fill="#000">10 min</text>
<path d="M1391,117.8 H1522" stroke="#0000FF" stroke-width="7"/>
<text transform="translate(1530.5,137.3)" font-size="56.0" fill="#000">20 min</text>
<path d="M575,186.8 H705.4" stroke="#008080" stroke-width="7"/>
<text transform="translate(717.2,207.3)" font-size="56.0" fill="#000">30 min</text>
<path d="M1016.5,186.8 H1148.5" stroke="#FF00FF" stroke-width="7"/>
<text transform="translate(1159.4,207.3)" font-size="56.0" fill="#000">40 min</text>
<path d="M1391,186.8 H1522" stroke="#808000" stroke-width="7"/>
<text transform="translate(1530.5,207.3)" font-size="56.0" fill="#000">50 min</text>
<text transform="translate(40.0,155.5) scale(0.947,1)" font-size="123.3" fill="#000">A</text>
<text transform="translate(96.3,825) rotate(-90) scale(0.957,1)" font-size="78.5">Absorbance (a.u.)</text>
<text transform="translate(819.5,1096.4) scale(0.963,1)" font-size="77.9" fill="#000">Wavelength (cm</text>
<text transform="translate(1337.0,1072.4)" font-size="50.0" fill="#000">-</text>
<text transform="translate(1354.0,1071.9)" font-size="50.0" fill="#000">1</text>
<text transform="translate(1378.5,1096.4)" font-size="77.9" fill="#000">)</text>
<text transform="translate(302.5,219.2) scale(1.060,1)" font-size="74.0" fill="#00B050" filter="url(#tsh)">(2)</text>
<text transform="translate(688.9,429.7) scale(1.060,1)" font-size="74.0" fill="#00B050" filter="url(#tsh)">(1)</text>
<text transform="translate(1225.7,511.5) scale(1.060,1)" font-size="74.0" fill="#00B050" filter="url(#tsh)">(3)</text>
<text transform="translate(1660.4,415.5) scale(1.060,1)" font-size="74.0" fill="#00B050" filter="url(#tsh)">(4)</text>
<g clip-path="url(#cB1)" fill="none" stroke-width="3.6" stroke-linejoin="round">
<path d="M199.0,1208.9 L201.3,1211.1 L203.8,1213.3 L206.2,1215.5 L208.7,1217.6 L211.2,1219.8 L213.7,1221.9 L216.2,1224.0 L218.7,1226.1 L221.2,1228.3 L223.7,1230.4 L226.1,1232.6 L228.5,1234.8 L230.9,1237.1 L233.2,1239.4 L235.5,1241.7 L237.7,1244.1 L239.8,1246.6 L241.8,1249.2 L243.8,1251.8 L245.6,1254.5 L247.4,1257.3 L247.3,1257.3 L248.5,1260.2 L249.6,1263.0 L250.7,1265.8 L251.8,1268.6 L252.9,1271.5 L253.9,1274.3 L255.0,1277.1 L256.0,1280.0 L257.1,1282.8 L258.1,1285.7 L259.1,1288.5 L260.1,1291.4 L261.1,1294.3 L262.1,1297.1 L263.0,1300.0 L264.0,1302.9 L265.0,1305.7 L265.9,1308.6 L266.8,1311.5 L267.8,1314.4 L268.7,1317.3 L269.6,1320.2 L270.5,1323.1 L271.4,1325.9 L272.2,1328.8 L273.1,1331.7 L274.0,1334.6 L274.8,1337.6 L275.7,1340.5 L276.5,1343.4 L277.4,1346.3 L278.2,1349.2 L279.0,1352.1 L279.8,1355.0 L280.6,1358.0 L281.4,1360.9 L282.2,1363.8 L283.0,1366.7 L283.8,1369.7 L284.5,1372.6 L285.3,1375.5 L286.0,1378.5 L286.8,1381.4 L287.6,1384.3 L288.3,1387.3 L289.0,1390.2 L289.8,1393.2 L290.5,1396.1 L291.2,1399.1 L291.9,1402.0 L292.7,1405.0 L293.4,1407.9 L294.1,1410.9 L294.8,1413.8 L295.5,1416.8 L296.2,1419.7 L296.9,1422.7 L297.5,1425.7 L298.2,1428.6 L298.9,1431.6 L299.6,1434.5 L300.3,1437.5 L300.9,1440.5 L301.6,1443.4 L302.3,1446.4 L303.0,1449.3 L303.6,1452.3 L304.3,1455.3 L305.0,1458.2 L305.6,1461.2 L306.3,1464.2 L306.9,1467.1 L307.6,1470.1 L308.3,1473.1 L308.9,1476.0 L309.6,1479.0 L310.2,1482.0 L310.9,1484.9 L311.5,1487.9 L312.2,1490.9 L312.9,1493.8 L313.5,1496.8 L314.2,1499.8 L314.8,1502.7 L315.5,1505.7 L316.2,1508.7 L316.8,1511.6 L317.5,1514.6 L318.2,1517.5 L318.8,1520.5 L319.5,1523.5 L320.2,1526.4 L320.8,1529.4 L321.5,1532.3 L322.2,1535.3 L322.9,1538.3 L323.6,1541.2 L324.3,1544.2 L325.0,1547.1 L325.7,1550.1 L326.4,1553.0 L327.1,1556.0 L327.8,1558.9 L328.5,1561.9 L329.2,1564.8 L329.9,1567.7 L330.6,1570.7 L331.4,1573.6 L332.1,1576.6 L332.8,1579.5 L333.6,1582.4 L334.3,1585.4 L335.1,1588.3 L335.9,1591.2 L336.6,1594.2 L337.4,1597.1 L338.2,1600.0 L339.0,1602.9 L339.8,1605.8 L340.6,1608.8 L341.4,1611.7 L342.2,1614.6 L343.0,1617.5 L343.8,1620.4 L344.7,1623.3 L345.5,1626.2 L346.4,1629.1 L347.2,1632.0 L348.1,1634.9 L348.9,1637.8 L349.8,1640.7 L350.7,1643.5 L351.6,1646.4 L352.5,1649.3 L353.4,1652.2 L354.4,1655.0 L355.3,1657.9 L356.3,1660.8 L357.2,1663.6 L358.2,1666.5 L359.2,1669.4 L360.1,1672.2 L361.1,1675.1 L362.1,1677.9 L363.2,1680.7 L364.2,1683.6 L365.2,1686.4 L366.3,1689.2 L367.3,1692.1 L368.4,1694.9 L369.5,1697.7 L370.6,1700.5 L371.7,1703.3 L372.8,1706.1 L373.9,1708.9 L375.1,1711.7 L376.2,1714.5 L377.4,1717.3 L378.6,1720.1 L379.8,1722.9 L381.0,1725.7 L382.2,1728.4 L383.5,1731.2 L384.7,1734.0 L386.0,1736.7 L387.2,1739.5 L388.5,1742.2 L389.8,1745.0 L391.2,1747.7 L392.5,1750.4 L393.8,1753.2 L395.2,1755.9 L396.6,1758.6 L398.0,1761.3 L398.1,1761.4 L398.5,1758.0 L399.0,1754.7 L399.7,1751.5 L400.5,1748.5 L401.5,1745.5 L402.6,1742.7 L403.8,1740.0 L405.1,1737.3 L406.6,1734.8 L408.1,1732.3 L409.8,1730.0 L411.5,1727.7 L413.4,1725.5 L415.3,1723.3 L417.2,1721.2 L419.2,1719.2 L421.3,1717.2 L423.4,1715.2 L425.6,1713.3 L427.8,1711.4 L430.0,1709.5 L432.2,1707.6 L434.4,1705.7 L436.5,1703.7 L438.6,1701.7 L440.7,1699.7 L442.8,1697.6 L444.8,1695.5 L446.9,1693.3 L448.8,1691.2 L450.8,1688.9 L452.8,1686.7 L454.7,1684.4 L456.6,1682.2 L458.5,1679.9 L460.4,1677.5 L462.3,1675.2 L464.2,1672.9 L466.0,1670.5 L467.9,1668.1 L469.7,1665.7 L471.6,1663.3 L473.4,1660.9 L475.2,1658.4 L477.0,1656.0 L478.7,1653.5 L480.5,1651.0 L482.2,1648.6 L484.0,1646.1 L485.7,1643.5 L487.4,1641.0 L489.1,1638.5 L490.7,1635.9 L492.4,1633.4 L494.0,1630.8 L495.6,1628.2 L497.2,1625.6 L498.8,1623.0 L500.3,1620.4 L501.9,1617.7 L503.4,1615.1 L504.9,1612.4 L506.3,1609.8 L507.8,1607.1 L509.2,1604.4 L510.6,1601.8 L512.0,1599.1 L513.4,1596.4 L514.7,1593.6 L516.1,1590.9 L517.4,1588.2 L518.6,1585.5 L519.9,1582.7 L521.1,1580.0 L522.3,1577.2 L523.5,1574.4 L524.7,1571.7 L525.8,1568.9 L526.9,1566.1 L528.0,1563.3 L529.1,1560.5 L530.1,1557.7 L531.2,1554.9 L532.2,1552.1 L533.2,1549.3 L534.2,1546.4 L535.1,1543.6 L536.1,1540.7 L537.0,1537.9 L537.9,1535.0 L538.8,1532.2 L539.7,1529.3 L540.6,1526.4 L541.4,1523.6 L542.2,1520.7 L543.0,1517.8 L543.8,1514.9 L544.6,1512.0 L545.4,1509.1 L546.1,1506.2 L546.9,1503.3 L547.6,1500.4 L548.3,1497.5 L549.0,1494.5 L549.7,1491.6 L550.4,1488.7 L551.0,1485.7 L551.7,1482.8 L552.3,1479.9 L553.0,1476.9 L553.6,1474.0 L554.2,1471.0 L554.8,1468.1 L555.4,1465.1 L556.0,1462.1 L556.5,1459.2 L557.1,1456.2 L557.7,1453.2 L558.2,1450.3 L558.8,1447.3 L559.3,1444.3 L559.8,1441.3 L560.3,1438.3 L560.8,1435.3 L561.4,1432.4 L561.9,1429.4 L562.4,1426.4 L562.8,1423.4 L563.3,1420.4 L563.8,1417.4 L564.3,1414.4 L564.8,1411.4 L565.2,1408.4 L565.7,1405.4 L566.2,1402.4 L566.6,1399.4 L567.1,1396.4 L567.6,1393.4 L568.0,1390.4 L568.5,1387.4 L568.9,1384.4 L569.4,1381.3 L569.9,1378.3 L570.3,1375.3 L570.8,1372.3 L571.2,1369.3 L571.7,1366.3 L572.2,1363.3 L572.6,1360.3 L573.1,1357.3 L573.6,1354.3 L574.0,1351.3 L574.5,1348.3 L575.0,1345.3 L575.5,1342.3 L576.0,1339.3 L576.4,1336.3 L576.9,1333.3 L577.4,1330.3 L578.0,1327.3 L578.5,1324.3 L579.0,1321.3 L579.5,1318.3 L580.0,1315.4 L580.6,1312.4 L581.1,1309.4 L581.7,1306.4 L582.3,1303.4 L582.8,1300.5 L583.4,1297.5 L584.0,1294.5 L584.6,1291.6 L585.2,1288.6 L585.8,1285.6 L586.5,1282.7 L587.1,1279.7 L587.8,1276.8 L588.4,1273.8 L589.1,1270.9 L589.8,1268.0 L590.5,1265.0 L591.2,1262.1 L591.9,1259.2 L592.7,1256.3 L593.4,1253.3 L594.2,1250.4 L595.0,1247.5 L595.8,1244.6 L596.6,1241.7 L597.4,1238.8 L598.3,1235.9 L599.1,1233.1 L600.0,1230.2 L600.9,1227.3 L601.8,1224.4 L602.7,1221.6 L603.7,1218.7 L604.6,1215.9 L605.6,1213.0 L606.6,1210.2 L607.6,1207.3" stroke="#000000"/>
<path d="M198.9,1425.2 L202.2,1425.8 L205.4,1426.7 L208.3,1427.7 L211.0,1429.0 L213.5,1430.5 L215.9,1432.1 L218.0,1433.9 L220.0,1435.8 L221.9,1437.9 L223.6,1440.1 L225.2,1442.5 L226.7,1445.0 L228.0,1447.5 L229.3,1450.2 L230.4,1452.9 L231.5,1455.7 L232.6,1458.6 L233.5,1461.6 L234.4,1464.6 L235.3,1467.6 L236.2,1470.6 L237.0,1473.7 L237.9,1476.7 L238.7,1479.8 L239.6,1482.8 L240.5,1485.8 L241.4,1488.8 L242.4,1491.8 L243.3,1494.7 L244.3,1497.6 L245.3,1500.5 L246.3,1503.4 L247.3,1506.3 L248.4,1509.2 L249.5,1512.0 L250.5,1514.8 L251.6,1517.7 L252.7,1520.5 L253.8,1523.3 L255.0,1526.1 L256.1,1528.8 L257.2,1531.6 L258.4,1534.4 L259.5,1537.1 L260.7,1539.8 L261.8,1542.6 L263.0,1545.3 L264.1,1548.1 L265.3,1550.8 L266.5,1553.5 L267.6,1556.3 L268.8,1559.0 L269.9,1561.7 L271.0,1564.4 L272.2,1567.2 L273.3,1569.9 L274.4,1572.7 L275.5,1575.4 L276.6,1578.2 L277.7,1580.9 L278.8,1583.7 L279.9,1586.5 L280.9,1589.3 L281.9,1592.1 L283.0,1594.9 L284.0,1597.7 L284.9,1600.6 L285.9,1603.4 L286.8,1606.3 L287.7,1609.2 L288.6,1612.1 L289.5,1615.0 L290.3,1618.0 L291.2,1620.9 L292.0,1623.9 L292.7,1626.9 L293.5,1629.9 L294.2,1632.9 L295.0,1636.0 L295.7,1639.0 L296.4,1642.0 L297.1,1645.1 L297.8,1648.1 L298.5,1651.2 L299.3,1654.2 L300.0,1657.2 L300.7,1660.2 L301.5,1663.2 L302.2,1666.2 L303.0,1669.2 L303.8,1672.2 L304.7,1675.1 L305.5,1678.0 L306.4,1680.9 L307.3,1683.8 L308.3,1686.6 L309.3,1689.4 L310.3,1692.2 L311.4,1694.9 L312.5,1697.6 L313.7,1700.3 L315.0,1702.9 L316.2,1705.5 L317.6,1708.0 L319.0,1710.5 L320.5,1712.9 L322.0,1715.1 L323.7,1717.3 L325.5,1719.3 L327.5,1721.2 L329.6,1722.9 L331.8,1724.4 L334.1,1725.7 L336.6,1727.0 L339.1,1728.1 L341.8,1729.2 L344.5,1730.3 L347.2,1731.4 L350.0,1732.5 L352.8,1733.6 L355.7,1734.9 L358.5,1736.2 L361.4,1737.7 L364.2,1739.3 L367.0,1741.1 L369.7,1742.9 L372.5,1744.8 L375.2,1746.8 L377.9,1748.7 L380.6,1750.6 L383.3,1752.4 L385.9,1754.2 L388.6,1755.8 L391.2,1757.2 L393.8,1758.5 L396.4,1759.6 L399.0,1760.4 L401.6,1760.9 L404.2,1761.2 L406.8,1761.1 L409.3,1760.6 L411.9,1759.9 L414.4,1758.9 L416.9,1757.6 L419.4,1756.1 L421.8,1754.4 L424.3,1752.6 L426.7,1750.6 L429.0,1748.6 L431.3,1746.4 L433.6,1744.3 L435.8,1742.1 L438.0,1739.9 L440.2,1737.7 L442.3,1735.5 L444.4,1733.2 L446.4,1730.9 L448.4,1728.6 L450.3,1726.2 L452.3,1723.9 L454.2,1721.5 L456.0,1719.1 L457.8,1716.7 L459.6,1714.2 L461.3,1711.8 L463.1,1709.3 L464.7,1706.8 L466.4,1704.3 L468.0,1701.7 L469.6,1699.2 L471.2,1696.6 L472.7,1694.0 L474.2,1691.4 L475.7,1688.8 L477.2,1686.2 L478.6,1683.6 L480.0,1680.9 L481.4,1678.2 L482.7,1675.5 L484.1,1672.8 L485.4,1670.1 L486.7,1667.4 L488.0,1664.7 L489.2,1661.9 L490.5,1659.2 L491.7,1656.4 L492.9,1653.7 L494.1,1650.9 L495.2,1648.1 L496.4,1645.3 L497.5,1642.5 L498.7,1639.7 L499.8,1636.8 L500.9,1634.0 L502.0,1631.2 L503.1,1628.4 L504.1,1625.5 L505.2,1622.7 L506.2,1619.8 L507.3,1617.0 L508.3,1614.1 L509.3,1611.2 L510.4,1608.4 L511.4,1605.5 L512.4,1602.7 L513.4,1599.8 L514.4,1596.9 L515.4,1594.1 L516.4,1591.2 L517.4,1588.3 L518.5,1585.5 L519.5,1582.6 L520.5,1579.7 L521.5,1576.9 L522.5,1574.0 L523.5,1571.2 L524.4,1568.3 L525.4,1565.4 L526.4,1562.6 L527.4,1559.7 L528.4,1556.9 L529.4,1554.0 L530.4,1551.1 L531.4,1548.3 L532.4,1545.4 L533.3,1542.6 L534.3,1539.7 L535.3,1536.8 L536.3,1534.0 L537.2,1531.1 L538.2,1528.3 L539.2,1525.4 L540.1,1522.6 L541.1,1519.7 L542.0,1516.8 L543.0,1514.0 L543.9,1511.1 L544.9,1508.3 L545.8,1505.4 L546.8,1502.5 L547.7,1499.7 L548.7,1496.8 L549.6,1494.0 L550.5,1491.1 L551.5,1488.2 L552.4,1485.4 L553.3,1482.5 L554.2,1479.6 L555.1,1476.8 L556.0,1473.9 L556.9,1471.0 L557.8,1468.2 L558.7,1465.3 L559.6,1462.4 L560.5,1459.6 L561.4,1456.7 L562.3,1453.8 L563.2,1451.0 L564.0,1448.1 L564.9,1445.2 L565.8,1442.3 L566.6,1439.5 L567.5,1436.6 L568.3,1433.7 L569.2,1430.8 L570.0,1427.9 L570.9,1425.0 L571.7,1422.2 L572.5,1419.3 L573.3,1416.4 L574.2,1413.5 L575.0,1410.6 L575.8,1407.7 L576.6,1404.8 L577.4,1401.9 L578.2,1399.0 L578.9,1396.1 L579.7,1393.2 L580.5,1390.3 L581.3,1387.4 L582.0,1384.5 L582.8,1381.6 L583.5,1378.7 L584.3,1375.8 L585.0,1372.8 L585.7,1369.9 L586.5,1367.0 L587.2,1364.1 L587.9,1361.2 L588.6,1358.2 L589.3,1355.3 L590.0,1352.4 L590.7,1349.4 L591.4,1346.5 L592.1,1343.6 L592.7,1340.6 L593.4,1337.7 L594.0,1334.7 L594.7,1331.8 L595.3,1328.8 L596.0,1325.9 L596.6,1322.9 L597.2,1320.0 L597.8,1317.0 L598.4,1314.0 L599.0,1311.1 L599.6,1308.1 L600.2,1305.1 L600.8,1302.1 L601.3,1299.2 L601.9,1296.2 L602.4,1293.2 L603.0,1290.2 L603.5,1287.2 L604.0,1284.2 L604.6,1281.2 L605.1,1278.2 L605.6,1275.2 L606.1,1272.2 L606.5,1269.2 L607.0,1266.2" stroke="#FF0000"/>
<path d="M199.1,1260.3 L202.0,1261.7 L204.8,1263.2 L207.5,1264.8 L210.0,1266.6 L212.3,1268.4 L214.5,1270.4 L216.5,1272.5 L218.5,1274.6 L220.3,1276.9 L221.9,1279.2 L223.5,1281.6 L225.0,1284.1 L226.3,1286.7 L227.6,1289.3 L228.8,1292.0 L229.9,1294.8 L230.9,1297.6 L231.9,1300.4 L232.8,1303.3 L233.7,1306.2 L234.5,1309.2 L235.2,1312.2 L236.0,1315.2 L236.7,1318.2 L237.3,1321.3 L238.0,1324.3 L238.7,1327.3 L239.3,1330.4 L240.0,1333.4 L240.6,1336.4 L241.3,1339.4 L242.0,1342.4 L242.6,1345.4 L243.3,1348.4 L244.0,1351.4 L244.7,1354.4 L245.4,1357.4 L246.1,1360.3 L246.8,1363.3 L247.5,1366.2 L248.2,1369.2 L248.9,1372.1 L249.6,1375.0 L250.3,1377.9 L251.0,1380.9 L251.7,1383.8 L252.4,1386.7 L253.1,1389.6 L253.9,1392.5 L254.6,1395.4 L255.3,1398.3 L256.0,1401.2 L256.7,1404.1 L257.5,1407.0 L258.2,1409.9 L258.9,1412.7 L259.6,1415.6 L260.3,1418.5 L261.1,1421.4 L261.8,1424.3 L262.5,1427.2 L263.2,1430.0 L263.9,1432.9 L264.6,1435.8 L265.3,1438.7 L266.1,1441.6 L266.8,1444.5 L267.5,1447.4 L268.2,1450.3 L268.9,1453.2 L269.6,1456.1 L270.3,1459.0 L270.9,1461.9 L271.6,1464.8 L272.3,1467.7 L273.0,1470.6 L273.7,1473.5 L274.3,1476.4 L275.0,1479.4 L275.7,1482.3 L276.3,1485.2 L277.0,1488.2 L277.6,1491.1 L278.3,1494.1 L278.9,1497.0 L279.6,1500.0 L280.2,1503.0 L280.8,1505.9 L281.5,1508.9 L282.1,1511.9 L282.7,1514.8 L283.3,1517.8 L284.0,1520.8 L284.6,1523.8 L285.2,1526.7 L285.8,1529.7 L286.5,1532.7 L287.1,1535.7 L287.7,1538.7 L288.3,1541.6 L288.9,1544.6 L289.6,1547.6 L290.2,1550.6 L290.8,1553.6 L291.4,1556.6 L292.0,1559.6 L292.7,1562.5 L293.3,1565.5 L293.9,1568.5 L294.5,1571.5 L295.2,1574.5 L295.8,1577.5 L296.4,1580.4 L297.1,1583.4 L297.7,1586.4 L298.4,1589.3 L299.0,1592.3 L299.6,1595.3 L300.3,1598.2 L300.9,1601.2 L301.6,1604.2 L302.3,1607.1 L302.9,1610.1 L303.6,1613.0 L304.3,1616.0 L304.9,1618.9 L305.6,1621.8 L306.3,1624.8 L307.0,1627.7 L307.7,1630.6 L308.4,1633.5 L309.1,1636.4 L309.8,1639.3 L310.5,1642.2 L311.2,1645.1 L312.0,1648.0 L312.7,1650.9 L313.5,1653.8 L314.2,1656.6 L315.0,1659.5 L315.7,1662.4 L316.5,1665.2 L317.3,1668.0 L318.1,1670.9 L318.9,1673.7 L319.7,1676.5 L320.5,1679.3 L321.3,1682.1 L322.1,1684.9 L323.0,1687.7 L323.9,1690.5 L324.8,1693.2 L325.8,1695.9 L326.8,1698.7 L327.8,1701.4 L329.0,1704.0 L330.1,1706.7 L331.4,1709.3 L332.7,1711.9 L334.1,1714.5 L335.6,1717.0 L337.2,1719.5 L338.9,1722.0 L340.7,1724.4 L342.6,1726.8 L344.6,1729.2 L346.7,1731.5 L349.0,1733.8 L351.4,1736.0 L353.9,1738.2 L356.5,1740.4 L359.2,1742.4 L362.0,1744.4 L364.8,1746.3 L367.7,1748.1 L370.6,1749.8 L373.5,1751.4 L376.3,1752.9 L379.2,1754.3 L382.0,1755.5 L384.8,1756.5 L387.5,1757.3 L390.1,1757.9 L392.7,1758.3 L395.2,1758.3 L397.7,1758.0 L400.0,1757.4 L402.3,1756.5 L404.5,1755.2 L406.6,1753.7 L408.6,1751.9 L410.6,1750.0 L412.6,1747.9 L414.5,1745.7 L416.3,1743.3 L418.1,1740.9 L419.9,1738.5 L421.6,1736.0 L423.3,1733.5 L425.0,1731.1 L426.7,1728.5 L428.3,1726.0 L429.9,1723.5 L431.5,1720.9 L433.1,1718.3 L434.6,1715.8 L436.1,1713.2 L437.6,1710.5 L439.0,1707.9 L440.5,1705.3 L441.9,1702.6 L443.3,1699.9 L444.6,1697.2 L446.0,1694.5 L447.3,1691.8 L448.6,1689.1 L449.9,1686.4 L451.2,1683.6 L452.5,1680.9 L453.7,1678.1 L454.9,1675.4 L456.1,1672.6 L457.3,1669.8 L458.5,1667.0 L459.6,1664.2 L460.8,1661.4 L461.9,1658.6 L463.0,1655.7 L464.1,1652.9 L465.2,1650.1 L466.3,1647.2 L467.4,1644.4 L468.4,1641.5 L469.5,1638.7 L470.5,1635.8 L471.5,1632.9 L472.5,1630.1 L473.5,1627.2 L474.5,1624.3 L475.5,1621.4 L476.5,1618.6 L477.5,1615.7 L478.5,1612.8 L479.4,1609.9 L480.4,1607.1 L481.3,1604.2 L482.3,1601.3 L483.2,1598.4 L484.2,1595.5 L485.1,1592.6 L486.0,1589.7 L487.0,1586.9 L487.9,1584.0 L488.8,1581.1 L489.7,1578.2 L490.6,1575.3 L491.5,1572.4 L492.4,1569.5 L493.3,1566.6 L494.2,1563.8 L495.0,1560.9 L495.9,1558.0 L496.8,1555.1 L497.6,1552.2 L498.5,1549.3 L499.3,1546.4 L500.2,1543.5 L501.0,1540.6 L501.9,1537.7 L502.7,1534.8 L503.5,1531.9 L504.3,1529.0 L505.2,1526.1 L506.0,1523.2 L506.8,1520.3 L507.6,1517.4 L508.4,1514.5 L509.2,1511.6 L510.0,1508.7 L510.8,1505.8 L511.6,1502.9 L512.3,1500.0 L513.1,1497.1 L513.9,1494.2 L514.7,1491.2 L515.4,1488.3 L516.2,1485.4 L516.9,1482.5 L517.7,1479.6 L518.5,1476.7 L519.2,1473.8 L519.9,1470.9 L520.7,1468.0 L521.4,1465.0 L522.1,1462.1 L522.9,1459.2 L523.6,1456.3 L524.3,1453.4 L525.0,1450.5 L525.8,1447.5 L526.5,1444.6 L527.2,1441.7 L527.9,1438.8 L528.6,1435.9 L529.3,1433.0 L530.0,1430.0 L530.7,1427.1 L531.4,1424.2 L532.0,1421.3 L532.7,1418.3 L533.4,1415.4 L534.1,1412.5 L534.8,1409.6 L535.4,1406.6 L536.1,1403.7 L536.8,1400.8 L537.4,1397.9 L538.1,1394.9 L538.8,1392.0 L539.4,1389.1 L540.1,1386.1 L540.7,1383.2 L541.4,1380.3 L542.0,1377.3 L542.7,1374.4 L543.3,1371.5 L543.9,1368.6 L544.6,1365.6 L545.2,1362.7 L545.9,1359.7 L546.5,1356.8 L547.1,1353.9 L547.7,1350.9 L548.4,1348.0 L549.0,1345.1 L549.6,1342.1 L550.2,1339.2 L550.9,1336.2 L551.5,1333.3 L552.1,1330.4 L552.7,1327.4 L553.3,1324.5 L553.9,1321.5 L554.5,1318.6 L555.2,1315.7 L555.8,1312.7 L556.4,1309.8 L557.0,1306.8 L557.6,1303.9 L558.2,1300.9 L558.8,1298.0 L559.4,1295.0 L560.0,1292.1 L560.6,1289.1 L561.2,1286.2 L561.8,1283.3 L562.4,1280.3 L563.0,1277.4 L563.6,1274.4 L564.1,1271.5 L564.7,1268.5 L565.3,1265.5 L565.9,1262.6 L566.5,1259.6 L567.1,1256.7 L567.7,1253.7 L568.3,1250.8 L568.9,1247.8 L569.4,1244.9 L570.0,1241.9 L570.6,1239.0 L571.2,1236.0 L571.8,1233.0 L572.4,1230.1 L573.0,1227.1 L573.6,1224.2 L574.1,1221.2 L574.7,1218.3 L575.3,1215.3 L575.9,1212.3 L576.5,1209.4 L577.1,1206.4 L577.7,1203.5 L578.2,1200.5 L578.8,1197.5 L579.4,1194.6 L580.0,1191.6 L580.6,1188.6 L581.2,1185.7 L581.8,1182.7 L582.4,1179.7 L582.9,1176.8 L583.5,1173.8 L584.1,1170.8 L584.7,1167.9 L585.3,1164.9 L585.9,1161.9 L586.5,1159.0 L587.1,1156.0 L587.7,1153.0 L588.3,1150.1 L588.9,1147.1 L589.5,1144.1" stroke="#0000FF"/>
<path d="M198.8,1291.1 L201.8,1292.6 L204.6,1294.2 L207.3,1295.9 L209.7,1297.8 L212.1,1299.7 L214.3,1301.8 L216.3,1303.9 L218.2,1306.1 L220.0,1308.4 L221.7,1310.8 L223.3,1313.3 L224.7,1315.8 L226.1,1318.4 L227.3,1321.0 L228.5,1323.7 L229.6,1326.5 L230.6,1329.3 L231.6,1332.1 L232.5,1335.0 L233.3,1337.9 L234.1,1340.9 L234.8,1343.9 L235.5,1346.8 L236.2,1349.9 L236.9,1352.9 L237.5,1355.9 L238.2,1358.9 L238.8,1362.0 L239.4,1365.0 L240.1,1368.0 L240.7,1371.0 L241.4,1374.0 L242.1,1377.0 L242.7,1380.0 L243.4,1383.0 L244.1,1385.9 L244.8,1388.9 L245.5,1391.9 L246.2,1394.8 L246.9,1397.7 L247.6,1400.7 L248.3,1403.6 L249.0,1406.6 L249.8,1409.5 L250.5,1412.4 L251.2,1415.3 L252.0,1418.2 L252.7,1421.1 L253.4,1424.0 L254.2,1426.9 L254.9,1429.8 L255.7,1432.7 L256.4,1435.6 L257.2,1438.5 L257.9,1441.4 L258.7,1444.3 L259.5,1447.1 L260.2,1450.0 L261.0,1452.9 L261.7,1455.8 L262.5,1458.7 L263.2,1461.5 L264.0,1464.4 L264.7,1467.3 L265.5,1470.1 L266.3,1473.0 L267.0,1475.9 L267.8,1478.8 L268.5,1481.6 L269.3,1484.5 L270.0,1487.4 L270.7,1490.3 L271.5,1493.2 L272.2,1496.0 L273.0,1498.9 L273.7,1501.8 L274.4,1504.7 L275.1,1507.6 L275.9,1510.5 L276.6,1513.4 L277.3,1516.3 L278.0,1519.2 L278.7,1522.1 L279.4,1525.0 L280.1,1528.0 L280.8,1530.9 L281.4,1533.8 L282.1,1536.7 L282.8,1539.7 L283.4,1542.6 L284.1,1545.6 L284.7,1548.5 L285.4,1551.5 L286.0,1554.5 L286.6,1557.5 L287.2,1560.4 L287.8,1563.4 L288.4,1566.4 L289.0,1569.4 L289.6,1572.5 L290.2,1575.5 L290.7,1578.5 L291.3,1581.5 L291.8,1584.6 L292.4,1587.6 L292.9,1590.7 L293.4,1593.7 L294.0,1596.8 L294.5,1599.9 L295.1,1602.9 L295.6,1606.0 L296.2,1609.0 L296.7,1612.1 L297.3,1615.1 L297.9,1618.1 L298.5,1621.2 L299.1,1624.2 L299.7,1627.2 L300.3,1630.2 L301.0,1633.2 L301.6,1636.1 L302.3,1639.1 L303.0,1642.0 L303.8,1644.9 L304.6,1647.9 L305.3,1650.7 L306.2,1653.6 L307.0,1656.4 L307.9,1659.3 L308.8,1662.1 L309.8,1664.8 L310.7,1667.6 L311.8,1670.3 L312.8,1673.0 L313.9,1675.7 L315.1,1678.3 L316.3,1680.9 L317.5,1683.5 L318.8,1686.0 L320.1,1688.5 L321.5,1691.0 L322.9,1693.3 L324.5,1695.6 L326.2,1697.8 L328.1,1699.7 L330.2,1701.5 L332.5,1703.2 L334.8,1704.7 L337.3,1706.2 L339.9,1707.6 L342.5,1709.0 L345.2,1710.4 L347.9,1711.8 L350.5,1713.3 L353.1,1714.9 L355.7,1716.6 L358.1,1718.5 L360.5,1720.5 L362.7,1722.7 L364.9,1725.0 L367.0,1727.4 L369.0,1730.0 L371.1,1732.6 L373.1,1735.2 L375.1,1737.9 L377.1,1740.5 L379.1,1743.2 L381.2,1745.7 L383.3,1748.2 L385.4,1750.5 L387.4,1752.6 L389.5,1754.5 L391.6,1756.0 L393.7,1757.2 L395.7,1758.0 L397.7,1758.4 L399.7,1758.3 L401.6,1757.7 L403.5,1756.7 L405.4,1755.3 L407.2,1753.6 L409.0,1751.6 L410.8,1749.4 L412.5,1746.9 L414.2,1744.4 L415.9,1741.7 L417.6,1738.9 L419.3,1736.2 L421.0,1733.4 L422.7,1730.7 L424.3,1727.9 L426.0,1725.2 L427.6,1722.4 L429.2,1719.7 L430.9,1717.0 L432.5,1714.2 L434.1,1711.5 L435.6,1708.8 L437.2,1706.1 L438.8,1703.4 L440.3,1700.6 L441.9,1697.9 L443.4,1695.2 L444.9,1692.5 L446.4,1689.8 L447.9,1687.1 L449.4,1684.4 L450.9,1681.6 L452.4,1678.9 L453.8,1676.2 L455.3,1673.5 L456.7,1670.8 L458.2,1668.1 L459.6,1665.4 L461.0,1662.7 L462.4,1660.0 L463.8,1657.3 L465.1,1654.6 L466.5,1651.9 L467.8,1649.2 L469.2,1646.5 L470.5,1643.8 L471.8,1641.0 L473.1,1638.3 L474.4,1635.6 L475.7,1632.9 L477.0,1630.2 L478.3,1627.5 L479.5,1624.8 L480.7,1622.0 L482.0,1619.3 L483.2,1616.6 L484.4,1613.9 L485.6,1611.1 L486.8,1608.4 L488.0,1605.7 L489.1,1602.9 L490.3,1600.2 L491.4,1597.5 L492.5,1594.7 L493.7,1592.0 L494.8,1589.2 L495.9,1586.4 L496.9,1583.7 L498.0,1580.9 L499.1,1578.2 L500.1,1575.4 L501.2,1572.6 L502.2,1569.8 L503.2,1567.0 L504.2,1564.2 L505.2,1561.4 L506.2,1558.6 L507.1,1555.8 L508.1,1553.0 L509.1,1550.2 L510.0,1547.4 L510.9,1544.6 L511.8,1541.7 L512.7,1538.9 L513.6,1536.0 L514.5,1533.2 L515.4,1530.3 L516.2,1527.5 L517.1,1524.6 L517.9,1521.8 L518.8,1518.9 L519.6,1516.0 L520.4,1513.2 L521.2,1510.3 L522.0,1507.4 L522.8,1504.5 L523.6,1501.6 L524.4,1498.7 L525.1,1495.8 L525.9,1492.9 L526.6,1490.0 L527.4,1487.1 L528.1,1484.2 L528.8,1481.3 L529.6,1478.4 L530.3,1475.5 L531.0,1472.6 L531.7,1469.6 L532.4,1466.7 L533.1,1463.8 L533.8,1460.8 L534.5,1457.9 L535.1,1455.0 L535.8,1452.0 L536.5,1449.1 L537.1,1446.1 L537.8,1443.2 L538.5,1440.3 L539.1,1437.3 L539.7,1434.4 L540.4,1431.4 L541.0,1428.4 L541.7,1425.5 L542.3,1422.5 L542.9,1419.6 L543.5,1416.6 L544.2,1413.7 L544.8,1410.7 L545.4,1407.7 L546.0,1404.8 L546.6,1401.8 L547.2,1398.8 L547.9,1395.9 L548.5,1392.9 L549.1,1389.9 L549.7,1387.0 L550.3,1384.0 L550.9,1381.0 L551.5,1378.0 L552.1,1375.1 L552.7,1372.1 L553.3,1369.1 L553.9,1366.2 L554.5,1363.2 L555.1,1360.2 L555.7,1357.2 L556.3,1354.3 L556.9,1351.3 L557.5,1348.3 L558.1,1345.4 L558.7,1342.4 L559.4,1339.4 L560.0,1336.4 L560.6,1333.5 L561.2,1330.5 L561.8,1327.5 L562.5,1324.6 L563.1,1321.6 L563.7,1318.7 L564.3,1315.7 L565.0,1312.7 L565.6,1309.8 L566.3,1306.8 L566.9,1303.9 L567.6,1300.9 L568.2,1298.0 L568.9,1295.0 L569.5,1292.1 L570.2,1289.1 L570.9,1286.2 L571.6,1283.2 L572.3,1280.3 L572.9,1277.3 L573.6,1274.4 L574.3,1271.5 L575.1,1268.5 L575.8,1265.6 L576.5,1262.7 L577.2,1259.8 L578.0,1256.8 L578.7,1253.9 L579.4,1251.0 L580.2,1248.1 L581.0,1245.2 L581.7,1242.3 L582.5,1239.4 L583.3,1236.5 L584.1,1233.6 L584.9,1230.7 L585.7,1227.8 L586.5,1224.9 L587.4,1222.0 L588.2,1219.2 L589.1,1216.3 L589.9,1213.4 L590.8,1210.6 L591.7,1207.7 L592.6,1204.8 L593.5,1202.0 L594.4,1199.1 L595.3,1196.3 L596.2,1193.5 L597.2,1190.6 L598.1,1187.8 L599.1,1185.0 L600.1,1182.1 L601.0,1179.3 L602.0,1176.5 L603.0,1173.7 L604.1,1170.9 L605.1,1168.1 L606.2,1165.3 L607.2,1162.5" stroke="#008080"/>
<path d="M199.5,1295.6 L202.4,1297.0 L205.2,1298.4 L207.8,1299.9 L210.2,1301.6 L212.6,1303.3 L214.8,1305.1 L216.9,1307.1 L218.8,1309.1 L220.7,1311.2 L222.4,1313.4 L224.1,1315.7 L225.6,1318.0 L227.1,1320.5 L228.4,1323.0 L229.7,1325.5 L230.9,1328.1 L232.0,1330.8 L233.1,1333.5 L234.1,1336.3 L235.0,1339.2 L235.8,1342.0 L236.7,1344.9 L237.4,1347.9 L238.2,1350.8 L238.9,1353.8 L239.5,1356.9 L240.2,1359.9 L240.8,1363.0 L241.4,1366.0 L242.0,1369.1 L242.6,1372.2 L243.2,1375.3 L243.7,1378.4 L244.3,1381.4 L244.9,1384.5 L245.5,1387.6 L246.1,1390.6 L246.8,1393.7 L247.4,1396.7 L248.1,1399.7 L248.7,1402.7 L249.4,1405.7 L250.0,1408.7 L250.7,1411.7 L251.4,1414.7 L252.1,1417.7 L252.8,1420.7 L253.5,1423.6 L254.2,1426.6 L254.9,1429.5 L255.7,1432.5 L256.4,1435.4 L257.1,1438.4 L257.9,1441.3 L258.6,1444.2 L259.4,1447.1 L260.1,1450.0 L260.9,1453.0 L261.6,1455.9 L262.4,1458.8 L263.2,1461.7 L263.9,1464.6 L264.7,1467.5 L265.5,1470.4 L266.3,1473.2 L267.1,1476.1 L267.8,1479.0 L268.6,1481.9 L269.4,1484.8 L270.2,1487.7 L271.0,1490.5 L271.8,1493.4 L272.6,1496.3 L273.3,1499.2 L274.1,1502.0 L274.9,1504.9 L275.7,1507.8 L276.5,1510.6 L277.3,1513.5 L278.0,1516.4 L278.8,1519.3 L279.6,1522.1 L280.4,1525.0 L281.1,1527.9 L281.9,1530.8 L282.7,1533.7 L283.4,1536.5 L284.2,1539.4 L284.9,1542.3 L285.7,1545.2 L286.4,1548.1 L287.1,1551.0 L287.9,1553.9 L288.6,1556.8 L289.3,1559.7 L290.0,1562.6 L290.7,1565.5 L291.4,1568.4 L292.1,1571.4 L292.8,1574.3 L293.5,1577.2 L294.1,1580.2 L294.8,1583.1 L295.4,1586.1 L296.1,1589.0 L296.7,1592.0 L297.3,1594.9 L298.0,1597.9 L298.6,1600.9 L299.2,1603.9 L299.8,1606.9 L300.3,1609.9 L300.9,1612.9 L301.5,1615.9 L302.1,1618.9 L302.7,1621.9 L303.3,1624.9 L303.9,1628.0 L304.5,1631.0 L305.1,1634.0 L305.7,1637.0 L306.3,1640.1 L306.9,1643.1 L307.6,1646.1 L308.2,1649.2 L308.9,1652.2 L309.6,1655.2 L310.3,1658.3 L311.1,1661.3 L311.8,1664.4 L312.6,1667.4 L313.4,1670.4 L314.3,1673.3 L315.3,1676.2 L316.3,1679.0 L317.4,1681.7 L318.7,1684.3 L320.0,1686.7 L321.5,1689.1 L323.2,1691.2 L325.0,1693.2 L326.9,1695.0 L329.0,1696.6 L331.3,1698.1 L333.6,1699.5 L336.1,1700.8 L338.6,1702.0 L341.2,1703.1 L343.9,1704.2 L346.5,1705.4 L349.2,1706.6 L351.8,1707.9 L354.4,1709.3 L356.9,1710.9 L359.3,1712.7 L361.6,1714.7 L363.8,1716.9 L365.9,1719.2 L368.0,1721.6 L370.0,1724.2 L372.0,1726.8 L373.9,1729.6 L375.7,1732.4 L377.6,1735.2 L379.4,1738.0 L381.2,1740.8 L383.0,1743.5 L384.8,1746.1 L386.6,1748.5 L388.4,1750.7 L390.2,1752.7 L392.0,1754.5 L393.9,1755.9 L395.8,1756.9 L397.8,1757.5 L399.8,1757.7 L401.9,1757.5 L404.0,1756.8 L406.1,1755.8 L408.3,1754.5 L410.4,1752.9 L412.6,1751.1 L414.7,1749.1 L416.8,1746.9 L418.8,1744.7 L420.8,1742.4 L422.7,1740.1 L424.6,1737.7 L426.5,1735.2 L428.3,1732.7 L430.0,1730.2 L431.7,1727.6 L433.4,1725.0 L435.0,1722.4 L436.6,1719.7 L438.2,1717.0 L439.8,1714.3 L441.3,1711.6 L442.8,1708.8 L444.3,1706.1 L445.8,1703.3 L447.2,1700.5 L448.7,1697.7 L450.1,1695.0 L451.5,1692.2 L453.0,1689.4 L454.4,1686.7 L455.8,1683.9 L457.2,1681.1 L458.6,1678.4 L460.0,1675.6 L461.3,1672.8 L462.7,1670.1 L464.0,1667.3 L465.4,1664.5 L466.7,1661.8 L468.1,1659.0 L469.4,1656.2 L470.7,1653.5 L472.0,1650.7 L473.3,1648.0 L474.6,1645.2 L475.8,1642.4 L477.1,1639.7 L478.3,1636.9 L479.6,1634.1 L480.8,1631.4 L482.1,1628.6 L483.3,1625.8 L484.5,1623.1 L485.7,1620.3 L486.9,1617.5 L488.0,1614.8 L489.2,1612.0 L490.4,1609.2 L491.5,1606.4 L492.7,1603.7 L493.8,1600.9 L494.9,1598.1 L496.0,1595.3 L497.1,1592.5 L498.2,1589.7 L499.3,1587.0 L500.4,1584.2 L501.4,1581.4 L502.5,1578.6 L503.5,1575.8 L504.6,1573.0 L505.6,1570.2 L506.6,1567.4 L507.6,1564.6 L508.6,1561.8 L509.6,1558.9 L510.6,1556.1 L511.5,1553.3 L512.5,1550.5 L513.4,1547.7 L514.3,1544.8 L515.3,1542.0 L516.2,1539.1 L517.1,1536.3 L518.0,1533.5 L518.8,1530.6 L519.7,1527.8 L520.6,1524.9 L521.4,1522.0 L522.2,1519.2 L523.1,1516.3 L523.9,1513.4 L524.7,1510.5 L525.5,1507.7 L526.2,1504.8 L527.0,1501.9 L527.8,1499.0 L528.5,1496.1 L529.3,1493.2 L530.0,1490.3 L530.7,1487.4 L531.4,1484.5 L532.2,1481.5 L532.9,1478.6 L533.5,1475.7 L534.2,1472.8 L534.9,1469.8 L535.6,1466.9 L536.3,1464.0 L536.9,1461.0 L537.6,1458.1 L538.2,1455.1 L538.9,1452.2 L539.5,1449.2 L540.1,1446.3 L540.7,1443.3 L541.4,1440.4 L542.0,1437.4 L542.6,1434.5 L543.2,1431.5 L543.8,1428.6 L544.4,1425.6 L545.0,1422.6 L545.6,1419.7 L546.2,1416.7 L546.8,1413.7 L547.4,1410.7 L548.0,1407.8 L548.5,1404.8 L549.1,1401.8 L549.7,1398.9 L550.3,1395.9 L550.9,1392.9 L551.4,1389.9 L552.0,1387.0 L552.6,1384.0 L553.2,1381.0 L553.8,1378.0 L554.3,1375.0 L554.9,1372.1 L555.5,1369.1 L556.1,1366.1 L556.7,1363.1 L557.3,1360.2 L557.8,1357.2 L558.4,1354.2 L559.0,1351.2 L559.6,1348.3 L560.2,1345.3 L560.8,1342.3 L561.4,1339.4 L562.1,1336.4 L562.7,1333.4 L563.3,1330.5 L563.9,1327.5 L564.5,1324.5 L565.2,1321.6 L565.8,1318.6 L566.5,1315.7 L567.1,1312.7 L567.8,1309.7 L568.4,1306.8 L569.1,1303.8 L569.8,1300.9 L570.5,1298.0 L571.1,1295.0 L571.8,1292.1 L572.6,1289.1 L573.3,1286.2 L574.0,1283.3 L574.7,1280.3 L575.5,1277.4 L576.2,1274.5 L577.0,1271.6 L577.7,1268.7 L578.5,1265.8 L579.3,1262.8 L580.1,1259.9 L580.9,1257.0 L581.7,1254.1 L582.5,1251.2 L583.4,1248.4 L584.2,1245.5 L585.1,1242.6 L586.0,1239.7 L586.9,1236.8 L587.8,1234.0 L588.7,1231.1 L589.6,1228.3 L590.5,1225.4 L591.5,1222.6 L592.5,1219.7 L593.4,1216.9 L594.4,1214.0 L595.4,1211.2 L596.5,1208.4 L597.5,1205.6 L598.6,1202.8 L599.6,1199.9 L600.7,1197.1 L601.8,1194.4 L602.9,1191.6 L604.1,1188.8 L605.2,1186.0 L606.4,1183.2 L607.6,1180.5" stroke="#FF00FF"/>
<path d="M199.4,1398.2 L202.2,1399.6 L205.0,1401.1 L207.5,1402.7 L210.0,1404.4 L212.3,1406.3 L214.5,1408.2 L216.6,1410.2 L218.5,1412.3 L220.3,1414.5 L222.1,1416.7 L223.7,1419.1 L225.3,1421.5 L226.7,1423.9 L228.1,1426.5 L229.4,1429.1 L230.7,1431.7 L231.8,1434.4 L232.9,1437.2 L234.0,1440.0 L235.0,1442.8 L235.9,1445.7 L236.8,1448.5 L237.7,1451.5 L238.6,1454.4 L239.4,1457.4 L240.2,1460.4 L241.0,1463.3 L241.8,1466.3 L242.6,1469.3 L243.4,1472.3 L244.2,1475.3 L245.0,1478.3 L245.8,1481.2 L246.6,1484.2 L247.5,1487.1 L248.3,1490.1 L249.2,1493.0 L250.1,1496.0 L251.0,1498.9 L251.8,1501.8 L252.7,1504.7 L253.6,1507.6 L254.5,1510.5 L255.5,1513.4 L256.4,1516.3 L257.3,1519.2 L258.2,1522.0 L259.2,1524.9 L260.1,1527.8 L261.1,1530.6 L262.0,1533.5 L263.0,1536.3 L263.9,1539.2 L264.9,1542.0 L265.9,1544.9 L266.8,1547.7 L267.8,1550.6 L268.8,1553.4 L269.8,1556.2 L270.7,1559.1 L271.7,1561.9 L272.7,1564.7 L273.7,1567.6 L274.6,1570.4 L275.6,1573.2 L276.6,1576.1 L277.5,1578.9 L278.5,1581.7 L279.5,1584.6 L280.4,1587.4 L281.4,1590.2 L282.3,1593.1 L283.3,1595.9 L284.2,1598.8 L285.2,1601.6 L286.1,1604.4 L287.0,1607.3 L288.0,1610.1 L288.9,1613.0 L289.8,1615.9 L290.7,1618.7 L291.6,1621.6 L292.5,1624.5 L293.3,1627.3 L294.2,1630.2 L295.1,1633.1 L295.9,1636.0 L296.8,1638.9 L297.6,1641.8 L298.4,1644.7 L299.2,1647.6 L300.1,1650.5 L300.9,1653.4 L301.7,1656.3 L302.5,1659.3 L303.4,1662.1 L304.2,1665.0 L305.1,1667.9 L306.0,1670.8 L306.9,1673.6 L307.8,1676.5 L308.8,1679.3 L309.8,1682.1 L310.8,1684.9 L311.9,1687.6 L313.0,1690.4 L314.2,1693.1 L315.4,1695.7 L316.7,1698.4 L318.0,1701.0 L319.3,1703.6 L320.7,1706.1 L322.2,1708.6 L323.8,1711.1 L325.4,1713.5 L327.1,1715.9 L328.9,1718.2 L330.7,1720.5 L332.6,1722.7 L334.6,1724.9 L336.7,1727.0 L338.9,1729.1 L341.2,1731.1 L343.6,1733.1 L346.1,1735.0 L348.6,1736.9 L351.3,1738.6 L354.0,1740.4 L356.7,1742.0 L359.5,1743.6 L362.3,1745.1 L365.2,1746.6 L368.1,1748.0 L371.0,1749.3 L373.8,1750.5 L376.7,1751.7 L379.5,1752.8 L382.3,1753.8 L385.1,1754.7 L387.8,1755.5 L390.5,1756.1 L393.1,1756.5 L395.8,1756.8 L398.4,1756.8 L400.9,1756.6 L403.4,1756.2 L405.9,1755.6 L408.3,1754.8 L410.7,1753.7 L413.1,1752.5 L415.4,1751.2 L417.6,1749.7 L419.8,1748.0 L421.9,1746.2 L424.0,1744.3 L426.1,1742.3 L428.1,1740.1 L430.1,1737.9 L432.0,1735.6 L433.9,1733.2 L435.7,1730.8 L437.6,1728.2 L439.4,1725.7 L441.1,1723.0 L442.9,1720.4 L444.6,1717.7 L446.3,1715.0 L447.9,1712.3 L449.6,1709.6 L451.3,1706.9 L452.9,1704.2 L454.5,1701.5 L456.1,1698.8 L457.7,1696.1 L459.3,1693.4 L460.8,1690.7 L462.4,1688.0 L463.9,1685.3 L465.4,1682.6 L466.9,1679.9 L468.4,1677.1 L469.9,1674.4 L471.3,1671.7 L472.8,1669.0 L474.2,1666.3 L475.6,1663.6 L477.0,1660.9 L478.4,1658.2 L479.8,1655.5 L481.2,1652.8 L482.5,1650.1 L483.9,1647.3 L485.2,1644.6 L486.5,1641.9 L487.8,1639.2 L489.1,1636.5 L490.4,1633.8 L491.7,1631.0 L492.9,1628.3 L494.2,1625.6 L495.4,1622.9 L496.6,1620.1 L497.8,1617.4 L499.0,1614.7 L500.2,1611.9 L501.4,1609.2 L502.6,1606.4 L503.7,1603.7 L504.9,1600.9 L506.0,1598.2 L507.2,1595.4 L508.3,1592.7 L509.4,1589.9 L510.5,1587.2 L511.6,1584.4 L512.7,1581.6 L513.7,1578.9 L514.8,1576.1 L515.9,1573.3 L516.9,1570.5 L517.9,1567.8 L519.0,1565.0 L520.0,1562.2 L521.0,1559.4 L522.0,1556.6 L523.0,1553.8 L524.0,1551.0 L525.0,1548.2 L525.9,1545.3 L526.9,1542.5 L527.9,1539.7 L528.8,1536.9 L529.8,1534.0 L530.7,1531.2 L531.6,1528.4 L532.6,1525.5 L533.5,1522.7 L534.4,1519.8 L535.3,1517.0 L536.2,1514.1 L537.1,1511.3 L538.0,1508.4 L538.8,1505.5 L539.7,1502.7 L540.6,1499.8 L541.5,1496.9 L542.3,1494.0 L543.2,1491.1 L544.0,1488.3 L544.9,1485.4 L545.7,1482.5 L546.5,1479.6 L547.4,1476.7 L548.2,1473.8 L549.0,1470.9 L549.8,1468.0 L550.7,1465.1 L551.5,1462.2 L552.3,1459.3 L553.1,1456.3 L553.9,1453.4 L554.7,1450.5 L555.5,1447.6 L556.3,1444.7 L557.1,1441.8 L557.8,1438.8 L558.6,1435.9 L559.4,1433.0 L560.2,1430.1 L561.0,1427.2 L561.7,1424.2 L562.5,1421.3 L563.3,1418.4 L564.1,1415.5 L564.8,1412.5 L565.6,1409.6 L566.4,1406.7 L567.1,1403.7 L567.9,1400.8 L568.6,1397.9 L569.4,1394.9 L570.2,1392.0 L570.9,1389.1 L571.7,1386.2 L572.4,1383.2 L573.2,1380.3 L574.0,1377.4 L574.7,1374.4 L575.5,1371.5 L576.2,1368.6 L577.0,1365.7 L577.8,1362.7 L578.5,1359.8 L579.3,1356.9 L580.1,1354.0 L580.8,1351.0 L581.6,1348.1 L582.4,1345.2 L583.1,1342.3 L583.9,1339.4 L584.7,1336.5 L585.5,1333.5 L586.2,1330.6 L587.0,1327.7 L587.8,1324.8 L588.6,1321.9 L589.4,1319.0 L590.2,1316.1 L590.9,1313.2 L591.7,1310.3 L592.5,1307.4 L593.3,1304.5 L594.2,1301.6 L595.0,1298.8 L595.8,1295.9 L596.6,1293.0 L597.4,1290.1 L598.2,1287.3 L599.1,1284.4 L599.9,1281.5 L600.7,1278.6 L601.6,1275.8 L602.4,1272.9 L603.3,1270.1 L604.1,1267.2 L605.0,1264.4 L605.9,1261.5 L606.7,1258.7 L607.6,1255.9" stroke="#808000"/>
</g>
<rect x="199" y="1144.5" width="408.5" height="647.3" fill="none" stroke="#000" stroke-width="4"/>
<g clip-path="url(#cB2)" fill="none" stroke-width="3.6" stroke-linejoin="round">
<path d="M689.4,1173.3 L691.9,1175.2 L694.2,1177.2 L696.5,1179.2 L698.8,1181.3 L700.9,1183.5 L702.9,1185.6 L704.9,1187.9 L706.8,1190.1 L708.6,1192.5 L710.4,1194.8 L712.1,1197.2 L713.7,1199.6 L715.2,1202.1 L716.7,1204.6 L718.1,1207.2 L719.5,1209.8 L720.8,1212.4 L722.1,1215.0 L723.3,1217.7 L724.4,1220.4 L725.5,1223.1 L726.6,1225.9 L727.6,1228.7 L728.5,1231.5 L729.5,1234.3 L730.4,1237.1 L731.2,1240.0 L732.0,1242.9 L732.8,1245.8 L733.6,1248.7 L734.3,1251.6 L735.0,1254.6 L735.7,1257.5 L736.4,1260.5 L737.1,1263.4 L737.7,1266.4 L738.3,1269.4 L738.9,1272.4 L739.5,1275.4 L740.1,1278.4 L740.7,1281.4 L741.2,1284.4 L741.8,1287.3 L742.4,1290.3 L743.0,1293.3 L743.5,1296.3 L744.1,1299.3 L744.7,1302.3 L745.2,1305.2 L745.8,1308.2 L746.4,1311.2 L746.9,1314.2 L747.5,1317.1 L748.1,1320.1 L748.6,1323.1 L749.2,1326.1 L749.7,1329.0 L750.3,1332.0 L750.8,1335.0 L751.4,1337.9 L751.9,1340.9 L752.5,1343.9 L753.0,1346.8 L753.6,1349.8 L754.1,1352.8 L754.7,1355.7 L755.2,1358.7 L755.8,1361.6 L756.3,1364.6 L756.8,1367.6 L757.4,1370.5 L757.9,1373.5 L758.5,1376.4 L759.0,1379.4 L759.5,1382.4 L760.1,1385.3 L760.6,1388.3 L761.1,1391.3 L761.7,1394.2 L762.2,1397.2 L762.7,1400.2 L763.3,1403.1 L763.8,1406.1 L764.3,1409.1 L764.9,1412.0 L765.4,1415.0 L765.9,1418.0 L766.5,1420.9 L767.0,1423.9 L767.5,1426.9 L768.1,1429.9 L768.6,1432.8 L769.1,1435.8 L769.7,1438.8 L770.2,1441.8 L770.7,1444.8 L771.3,1447.7 L771.8,1450.7 L772.3,1453.7 L772.8,1456.7 L773.4,1459.7 L773.9,1462.7 L774.4,1465.7 L775.0,1468.7 L775.5,1471.7 L776.0,1474.7 L776.6,1477.7 L777.1,1480.7 L777.6,1483.7 L778.2,1486.7 L778.7,1489.8 L779.3,1492.8 L779.8,1495.8 L780.4,1498.8 L780.9,1501.8 L781.5,1504.8 L782.0,1507.9 L782.6,1510.9 L783.2,1513.9 L783.7,1516.9 L784.3,1519.9 L784.9,1522.9 L785.5,1525.9 L786.1,1528.9 L786.7,1531.9 L787.4,1534.9 L788.0,1537.9 L788.6,1540.9 L789.3,1543.9 L789.9,1546.9 L790.6,1549.9 L791.3,1552.9 L792.0,1555.8 L792.7,1558.8 L793.4,1561.8 L794.1,1564.7 L794.9,1567.7 L795.6,1570.6 L796.4,1573.6 L797.2,1576.5 L798.0,1579.4 L798.8,1582.4 L799.6,1585.3 L800.5,1588.2 L801.3,1591.1 L802.2,1594.0 L803.1,1596.8 L804.0,1599.7 L805.0,1602.6 L805.9,1605.4 L806.9,1608.3 L807.9,1611.1 L808.9,1613.9 L809.9,1616.7 L811.0,1619.5 L812.0,1622.3 L813.1,1625.1 L814.2,1627.9 L815.4,1630.6 L816.5,1633.4 L817.7,1636.1 L818.9,1638.8 L820.2,1641.5 L821.4,1644.2 L822.7,1646.9 L824.0,1649.6 L825.3,1652.2 L826.7,1654.9 L828.1,1657.5 L829.5,1660.1 L830.9,1662.7 L832.4,1665.3 L833.9,1667.9 L835.4,1670.4 L837.0,1672.9 L838.5,1675.4 L840.1,1677.9 L841.8,1680.4 L843.5,1682.9 L845.2,1685.3 L846.9,1687.8 L848.7,1690.2 L850.5,1692.6 L852.3,1694.9 L854.2,1697.3 L856.1,1699.6 L858.0,1701.9 L860.0,1704.2 L862.0,1706.5 L864.0,1708.8 L866.1,1711.0 L868.2,1713.2 L870.3,1715.4 L872.5,1717.6 L874.8,1719.7 L877.0,1721.9 L879.3,1724.0 L881.6,1726.1 L883.3,1726.2 L886.1,1724.8 L888.9,1723.4 L891.6,1722.0 L894.3,1720.5 L897.0,1719.0 L899.7,1717.4 L902.3,1715.8 L904.9,1714.2 L907.4,1712.6 L909.9,1710.9 L912.4,1709.2 L914.9,1707.4 L917.4,1705.6 L919.8,1703.8 L922.2,1702.0 L924.5,1700.1 L926.9,1698.2 L929.2,1696.3 L931.4,1694.3 L933.7,1692.4 L935.9,1690.3 L938.1,1688.3 L940.3,1686.3 L942.4,1684.2 L944.6,1682.1 L946.7,1679.9 L948.8,1677.8 L950.8,1675.6 L952.9,1673.4 L954.9,1671.2 L956.9,1669.0 L958.8,1666.7 L960.8,1664.4 L962.7,1662.1 L964.6,1659.8 L966.5,1657.5 L968.4,1655.1 L970.3,1652.7 L972.1,1650.3 L973.9,1647.9 L975.7,1645.5 L977.5,1643.1 L979.3,1640.6 L981.0,1638.1 L982.8,1635.7 L984.5,1633.2 L986.2,1630.7 L987.9,1628.1 L989.6,1625.6 L991.2,1623.1 L992.9,1620.5 L994.5,1617.9 L996.1,1615.4 L997.7,1612.8 L999.3,1610.2 L1000.9,1607.6 L1002.5,1604.9 L1004.0,1602.3 L1005.6,1599.7 L1007.1,1597.0 L1008.6,1594.4 L1010.2,1591.7 L1011.7,1589.0 L1013.1,1586.3 L1014.6,1583.6 L1016.1,1580.9 L1017.6,1578.2 L1019.0,1575.5 L1020.5,1572.8 L1021.9,1570.1 L1023.3,1567.4 L1024.8,1564.6 L1026.2,1561.9 L1027.6,1559.1 L1029.0,1556.4 L1030.4,1553.6 L1031.8,1550.9 L1033.1,1548.1 L1034.5,1545.4 L1035.9,1542.6 L1037.3,1539.8 L1038.6,1537.0 L1040.0,1534.3 L1041.3,1531.5 L1042.7,1528.7 L1044.0,1525.9 L1045.4,1523.2 L1046.7,1520.4 L1048.0,1517.6 L1049.4,1514.8 L1050.7,1512.0 L1052.0,1509.3 L1053.4,1506.5 L1054.7,1503.7 L1056.0,1500.9 L1057.3,1498.2 L1058.7,1495.4 L1060.0,1492.6 L1061.3,1489.9 L1062.6,1487.1 L1064.0,1484.4 L1065.3,1481.6 L1066.6,1478.9 L1067.9,1476.1 L1069.3,1473.4 L1070.6,1470.6 L1072.0,1467.9 L1073.3,1465.2 L1074.6,1462.5 L1076.0,1459.8 L1077.3,1457.1 L1078.7,1454.4 L1080.1,1451.7 L1081.4,1449.0 L1082.8,1446.3 L1084.2,1443.7 L1085.6,1441.0 L1086.9,1438.3 L1088.3,1435.7 L1089.7,1433.1 L1091.2,1430.5 L1092.6,1427.9 L1094.0,1425.3 L1095.4,1422.7 L1096.9,1420.1 L1098.3,1417.5" stroke="#000000"/>
<path d="M689.0,1173.7 L691.5,1175.6 L693.9,1177.6 L696.1,1179.6 L698.3,1181.7 L700.4,1183.9 L702.4,1186.1 L704.3,1188.3 L706.1,1190.6 L707.8,1193.0 L709.5,1195.4 L711.1,1197.8 L712.6,1200.3 L714.1,1202.8 L715.4,1205.4 L716.8,1207.9 L718.0,1210.6 L719.2,1213.2 L720.4,1215.9 L721.5,1218.6 L722.6,1221.4 L723.6,1224.1 L724.6,1226.9 L725.5,1229.7 L726.4,1232.5 L727.3,1235.4 L728.1,1238.2 L728.9,1241.1 L729.7,1244.0 L730.4,1246.9 L731.1,1249.8 L731.8,1252.7 L732.5,1255.7 L733.1,1258.6 L733.8,1261.6 L734.4,1264.5 L734.9,1267.5 L735.5,1270.5 L736.0,1273.5 L736.5,1276.5 L737.0,1279.5 L737.5,1282.6 L738.0,1285.6 L738.5,1288.6 L738.9,1291.7 L739.3,1294.7 L739.8,1297.8 L740.2,1300.8 L740.6,1303.9 L741.0,1306.9 L741.3,1310.0 L741.7,1313.1 L742.1,1316.1 L742.5,1319.2 L742.8,1322.3 L743.2,1325.3 L743.6,1328.4 L743.9,1331.5 L744.3,1334.5 L744.6,1337.6 L745.0,1340.6 L745.4,1343.7 L745.8,1346.7 L746.1,1349.8 L746.5,1352.8 L746.9,1355.9 L747.3,1358.9 L747.7,1361.9 L748.2,1364.9 L748.6,1367.9 L749.0,1370.9 L749.5,1373.9 L750.0,1376.9 L750.4,1379.9 L750.9,1382.8 L751.4,1385.8 L751.9,1388.7 L752.4,1391.7 L752.9,1394.6 L753.5,1397.6 L754.0,1400.5 L754.5,1403.5 L755.1,1406.4 L755.6,1409.3 L756.2,1412.2 L756.8,1415.2 L757.4,1418.1 L758.0,1421.0 L758.5,1423.9 L759.1,1426.8 L759.8,1429.7 L760.4,1432.6 L761.0,1435.5 L761.6,1438.4 L762.2,1441.3 L762.9,1444.2 L763.5,1447.1 L764.2,1450.0 L764.8,1452.9 L765.5,1455.8 L766.2,1458.7 L766.8,1461.6 L767.5,1464.5 L768.2,1467.4 L768.9,1470.2 L769.6,1473.1 L770.3,1476.0 L771.0,1478.9 L771.7,1481.8 L772.4,1484.7 L773.1,1487.6 L773.8,1490.5 L774.5,1493.5 L775.2,1496.4 L775.9,1499.3 L776.7,1502.2 L777.4,1505.1 L778.1,1508.0 L778.8,1511.0 L779.6,1513.9 L780.3,1516.8 L781.0,1519.8 L781.8,1522.7 L782.5,1525.7 L783.3,1528.6 L784.0,1531.6 L784.7,1534.5 L785.5,1537.5 L786.2,1540.5 L787.0,1543.5 L787.7,1546.5 L788.5,1549.5 L789.2,1552.5 L790.0,1555.5 L790.7,1558.5 L791.5,1561.5 L792.3,1564.5 L793.1,1567.5 L793.9,1570.5 L794.7,1573.5 L795.5,1576.5 L796.4,1579.5 L797.3,1582.5 L798.2,1585.4 L799.1,1588.4 L800.0,1591.4 L801.0,1594.3 L802.0,1597.2 L803.1,1600.1 L804.1,1603.0 L805.2,1605.9 L806.4,1608.7 L807.6,1611.6 L808.8,1614.4 L810.1,1617.1 L811.4,1619.9 L812.7,1622.6 L814.2,1625.3 L815.6,1628.0 L817.1,1630.7 L818.7,1633.3 L820.3,1635.9 L822.0,1638.4 L823.7,1640.9 L825.5,1643.4 L827.3,1645.8 L829.2,1648.2 L831.2,1650.6 L833.2,1652.8 L835.2,1655.1 L837.3,1657.3 L839.4,1659.4 L841.6,1661.4 L843.8,1663.4 L846.1,1665.4 L848.4,1667.3 L850.7,1669.1 L853.1,1670.8 L855.5,1672.4 L858.0,1674.0 L860.4,1675.5 L863.0,1676.9 L865.5,1678.2 L868.1,1679.5 L870.8,1680.6 L873.4,1681.7 L876.1,1682.7 L878.8,1683.5 L881.6,1684.3 L884.3,1685.0 L887.1,1685.5 L889.9,1686.0 L892.8,1686.3 L895.7,1686.6 L898.5,1686.7 L901.4,1686.7 L904.4,1686.6 L907.3,1686.5 L910.2,1686.2 L913.1,1685.8 L916.1,1685.4 L919.0,1684.8 L921.9,1684.2 L924.9,1683.5 L927.8,1682.7 L930.7,1681.8 L933.6,1680.9 L936.4,1679.8 L939.3,1678.8 L942.1,1677.6 L944.9,1676.4 L947.6,1675.1 L950.4,1673.8 L953.0,1672.4 L955.7,1671.0 L958.3,1669.5 L960.9,1667.9 L963.4,1666.3 L965.9,1664.7 L968.4,1663.0 L970.8,1661.3 L973.2,1659.5 L975.6,1657.6 L977.9,1655.8 L980.2,1653.9 L982.5,1651.9 L984.7,1649.9 L987.0,1647.9 L989.1,1645.8 L991.3,1643.7 L993.4,1641.6 L995.5,1639.4 L997.6,1637.2 L999.6,1635.0 L1001.7,1632.7 L1003.6,1630.4 L1005.6,1628.1 L1007.6,1625.7 L1009.5,1623.4 L1011.4,1620.9 L1013.3,1618.5 L1015.1,1616.1 L1017.0,1613.6 L1018.8,1611.1 L1020.6,1608.6 L1022.4,1606.0 L1024.2,1603.5 L1025.9,1600.9 L1027.6,1598.3 L1029.4,1595.7 L1031.1,1593.1 L1032.7,1590.5 L1034.4,1587.9 L1036.1,1585.2 L1037.7,1582.6 L1039.4,1579.9 L1041.0,1577.2 L1042.6,1574.6 L1044.2,1571.9 L1045.8,1569.2 L1047.4,1566.5 L1049.0,1563.8 L1050.6,1561.1 L1052.1,1558.5 L1053.7,1555.8 L1055.3,1553.1 L1056.8,1550.4 L1058.4,1547.7 L1059.9,1545.1 L1061.5,1542.4 L1063.0,1539.8 L1064.5,1537.1 L1066.1,1534.5 L1067.6,1531.9 L1069.2,1529.3 L1070.7,1526.7 L1072.3,1524.1 L1073.8,1521.6 L1075.4,1519.0 L1076.9,1516.5 L1078.5,1514.0 L1080.0,1511.5 L1081.6,1509.1 L1083.2,1506.6 L1084.8,1504.2 L1086.4,1501.8 L1088.0,1499.5 L1089.6,1497.2 L1091.2,1494.9 L1092.8,1492.6 L1094.5,1490.3 L1096.1,1488.1 L1097.8,1485.9" stroke="#FF0000"/>
<path d="M688.5,1170.1 L691.4,1171.7 L694.1,1173.3 L696.8,1175.1 L699.3,1176.8 L701.7,1178.7 L704.1,1180.7 L706.3,1182.7 L708.4,1184.8 L710.4,1186.9 L712.3,1189.1 L714.1,1191.4 L715.8,1193.7 L717.5,1196.1 L719.0,1198.5 L720.5,1201.0 L721.9,1203.5 L723.2,1206.1 L724.5,1208.7 L725.7,1211.4 L726.8,1214.1 L727.9,1216.8 L728.9,1219.6 L729.9,1222.4 L730.8,1225.2 L731.7,1228.1 L732.5,1231.0 L733.3,1233.9 L734.0,1236.8 L734.8,1239.8 L735.5,1242.7 L736.1,1245.7 L736.8,1248.7 L737.4,1251.7 L738.0,1254.7 L738.6,1257.7 L739.1,1260.8 L739.7,1263.8 L740.3,1266.8 L740.8,1269.8 L741.4,1272.8 L742.0,1275.8 L742.5,1278.8 L743.1,1281.8 L743.7,1284.8 L744.2,1287.8 L744.8,1290.8 L745.4,1293.8 L745.9,1296.8 L746.5,1299.8 L747.0,1302.8 L747.6,1305.7 L748.1,1308.7 L748.7,1311.7 L749.3,1314.7 L749.8,1317.6 L750.4,1320.6 L750.9,1323.6 L751.5,1326.5 L752.0,1329.5 L752.6,1332.5 L753.1,1335.4 L753.7,1338.4 L754.2,1341.3 L754.8,1344.3 L755.3,1347.2 L755.9,1350.2 L756.4,1353.2 L757.0,1356.1 L757.5,1359.1 L758.1,1362.0 L758.6,1365.0 L759.2,1367.9 L759.7,1370.8 L760.3,1373.8 L760.8,1376.7 L761.4,1379.7 L761.9,1382.6 L762.5,1385.6 L763.0,1388.5 L763.6,1391.5 L764.1,1394.4 L764.7,1397.4 L765.2,1400.3 L765.8,1403.3 L766.3,1406.2 L766.9,1409.2 L767.4,1412.1 L768.0,1415.1 L768.5,1418.0 L769.1,1421.0 L769.6,1423.9 L770.1,1426.9 L770.7,1429.8 L771.2,1432.8 L771.8,1435.7 L772.3,1438.7 L772.9,1441.7 L773.4,1444.6 L774.0,1447.6 L774.5,1450.5 L775.1,1453.5 L775.6,1456.5 L776.2,1459.5 L776.7,1462.4 L777.3,1465.4 L777.8,1468.4 L778.4,1471.4 L779.0,1474.3 L779.5,1477.3 L780.1,1480.3 L780.6,1483.3 L781.2,1486.3 L781.8,1489.3 L782.3,1492.3 L782.9,1495.3 L783.5,1498.2 L784.0,1501.2 L784.6,1504.2 L785.2,1507.2 L785.8,1510.2 L786.4,1513.2 L787.0,1516.2 L787.6,1519.2 L788.2,1522.1 L788.8,1525.1 L789.4,1528.1 L790.0,1531.1 L790.7,1534.1 L791.3,1537.1 L792.0,1540.0 L792.6,1543.0 L793.3,1546.0 L793.9,1549.0 L794.6,1551.9 L795.3,1554.9 L796.0,1557.9 L796.6,1560.8 L797.3,1563.8 L798.1,1566.8 L798.8,1569.7 L799.5,1572.7 L800.2,1575.6 L801.0,1578.6 L801.7,1581.5 L802.5,1584.4 L803.3,1587.4 L804.1,1590.3 L804.9,1593.2 L805.7,1596.1 L806.5,1599.0 L807.3,1602.0 L808.2,1604.9 L809.0,1607.8 L809.9,1610.7 L810.8,1613.5 L811.6,1616.4 L812.5,1619.3 L813.5,1622.2 L814.4,1625.0 L815.3,1627.9 L816.3,1630.8 L817.3,1633.6 L818.2,1636.4 L819.2,1639.3 L820.2,1642.1 L821.3,1644.9 L822.3,1647.7 L823.4,1650.5 L824.4,1653.3 L825.5,1656.1 L826.6,1658.9 L827.7,1661.7 L828.9,1664.4 L830.0,1667.2 L831.2,1670.0 L832.4,1672.7 L833.6,1675.4 L834.8,1678.1 L836.1,1680.9 L837.3,1683.6 L838.6,1686.3 L839.9,1688.9 L841.2,1691.6 L842.5,1694.3 L843.9,1696.9 L845.3,1699.6 L846.6,1702.2 L848.1,1704.9 L849.5,1707.5 L850.9,1710.1 L852.4,1712.7 L853.9,1715.3 L855.4,1717.8 L856.9,1720.4 L858.5,1722.9 L860.1,1725.5 L861.7,1728.0 L863.3,1730.5 L864.9,1733.0 L866.6,1735.5 L868.3,1738.0 L870.0,1740.5 L871.7,1742.9 L873.5,1745.4 L875.3,1747.8 L877.1,1750.2 L878.9,1752.6 L880.8,1755.0 L882.7,1757.4 L884.4,1755.9 L886.7,1755.7 L889.0,1755.5 L891.2,1755.3 L893.5,1755.1 L895.8,1755.0 L898.0,1754.8 L900.3,1754.6 L902.6,1754.4 L904.8,1754.2 L907.1,1754.0 L909.4,1753.8 L911.6,1753.6 L913.9,1753.4 L916.2,1753.3 L918.4,1753.1 L920.7,1752.9 L923.0,1752.7 L925.2,1752.5 L927.5,1752.3 L928.4,1753.0 L930.9,1751.1 L933.3,1749.2 L935.7,1747.3 L938.0,1745.3 L940.3,1743.3 L942.5,1741.3 L944.7,1739.2 L946.9,1737.1 L949.0,1735.0 L951.0,1732.8 L953.1,1730.6 L955.0,1728.4 L957.0,1726.1 L958.9,1723.8 L960.8,1721.5 L962.6,1719.2 L964.4,1716.8 L966.2,1714.4 L967.9,1712.0 L969.6,1709.6 L971.3,1707.1 L972.9,1704.6 L974.5,1702.1 L976.1,1699.6 L977.6,1697.0 L979.2,1694.4 L980.7,1691.9 L982.1,1689.2 L983.6,1686.6 L985.0,1684.0 L986.4,1681.3 L987.8,1678.6 L989.2,1675.9 L990.5,1673.2 L991.9,1670.5 L993.2,1667.8 L994.5,1665.0 L995.8,1662.3 L997.1,1659.5 L998.3,1656.8 L999.6,1654.0 L1000.8,1651.2 L1002.0,1648.4 L1003.3,1645.6 L1004.5,1642.8 L1005.7,1639.9 L1006.9,1637.1 L1008.1,1634.3 L1009.3,1631.5 L1010.5,1628.6 L1011.7,1625.8 L1012.8,1623.0 L1014.0,1620.1 L1015.2,1617.3 L1016.4,1614.4 L1017.6,1611.6 L1018.8,1608.8 L1020.0,1606.0 L1021.2,1603.1 L1022.4,1600.3 L1023.7,1597.5 L1024.9,1594.7 L1026.1,1591.9 L1027.4,1589.1 L1028.6,1586.3 L1029.9,1583.5 L1031.2,1580.7 L1032.5,1578.0 L1033.7,1575.2 L1035.0,1572.4 L1036.3,1569.7 L1037.6,1566.9 L1038.9,1564.1 L1040.3,1561.4 L1041.6,1558.6 L1042.9,1555.9 L1044.2,1553.2 L1045.5,1550.4 L1046.9,1547.7 L1048.2,1544.9 L1049.5,1542.2 L1050.8,1539.5 L1052.1,1536.7 L1053.5,1534.0 L1054.8,1531.3 L1056.1,1528.5 L1057.4,1525.8 L1058.7,1523.1 L1060.0,1520.3 L1061.4,1517.6 L1062.7,1514.9 L1064.0,1512.1 L1065.2,1509.4 L1066.5,1506.6 L1067.8,1503.9 L1069.1,1501.2 L1070.4,1498.4 L1071.6,1495.6 L1072.9,1492.9 L1074.1,1490.1 L1075.3,1487.4 L1076.6,1484.6 L1077.8,1481.8 L1079.0,1479.0 L1080.2,1476.3 L1081.3,1473.5 L1082.5,1470.7 L1083.7,1467.9 L1084.8,1465.1 L1085.9,1462.3 L1087.1,1459.4 L1088.2,1456.6 L1089.2,1453.8 L1090.3,1450.9 L1091.4,1448.1 L1092.4,1445.2 L1093.4,1442.4 L1094.4,1439.5 L1095.4,1436.6 L1096.4,1433.7 L1097.3,1430.8 L1098.3,1427.9" stroke="#0000FF"/>
<path d="M688.3,1174.1 L691.1,1175.6 L693.8,1177.2 L696.4,1178.9 L698.9,1180.7 L701.3,1182.6 L703.5,1184.5 L705.7,1186.5 L707.8,1188.6 L709.8,1190.8 L711.7,1193.0 L713.5,1195.3 L715.3,1197.6 L716.9,1200.0 L718.5,1202.4 L720.1,1204.9 L721.5,1207.5 L722.9,1210.0 L724.2,1212.6 L725.5,1215.3 L726.7,1218.0 L727.9,1220.7 L729.0,1223.4 L730.1,1226.2 L731.1,1228.9 L732.1,1231.7 L733.1,1234.5 L734.0,1237.4 L734.9,1240.2 L735.8,1243.1 L736.6,1245.9 L737.4,1248.8 L738.2,1251.7 L738.9,1254.6 L739.6,1257.5 L740.3,1260.5 L740.9,1263.4 L741.6,1266.3 L742.2,1269.3 L742.8,1272.3 L743.3,1275.2 L743.9,1278.2 L744.4,1281.2 L744.9,1284.2 L745.4,1287.2 L745.9,1290.2 L746.4,1293.2 L746.9,1296.3 L747.3,1299.3 L747.7,1302.3 L748.2,1305.3 L748.6,1308.4 L749.0,1311.4 L749.4,1314.5 L749.9,1317.5 L750.3,1320.5 L750.7,1323.6 L751.1,1326.6 L751.5,1329.6 L751.9,1332.7 L752.3,1335.7 L752.8,1338.7 L753.2,1341.8 L753.6,1344.8 L754.1,1347.8 L754.5,1350.8 L755.0,1353.8 L755.5,1356.8 L756.0,1359.8 L756.5,1362.8 L757.0,1365.8 L757.5,1368.8 L758.0,1371.8 L758.5,1374.8 L759.1,1377.7 L759.6,1380.7 L760.2,1383.7 L760.8,1386.6 L761.3,1389.6 L761.9,1392.5 L762.5,1395.5 L763.1,1398.4 L763.7,1401.4 L764.3,1404.3 L764.9,1407.3 L765.5,1410.2 L766.2,1413.1 L766.8,1416.1 L767.4,1419.0 L768.1,1421.9 L768.7,1424.8 L769.4,1427.8 L770.0,1430.7 L770.7,1433.6 L771.3,1436.5 L772.0,1439.4 L772.7,1442.3 L773.3,1445.2 L774.0,1448.2 L774.7,1451.1 L775.4,1454.0 L776.0,1456.9 L776.7,1459.8 L777.4,1462.7 L778.1,1465.6 L778.8,1468.5 L779.4,1471.4 L780.1,1474.3 L780.8,1477.2 L781.5,1480.1 L782.2,1483.0 L782.8,1485.9 L783.5,1488.8 L784.2,1491.7 L784.9,1494.6 L785.5,1497.6 L786.2,1500.5 L786.9,1503.4 L787.5,1506.3 L788.2,1509.2 L788.9,1512.1 L789.5,1515.0 L790.2,1518.0 L790.8,1520.9 L791.5,1523.8 L792.1,1526.7 L792.7,1529.6 L793.4,1532.6 L794.0,1535.5 L794.6,1538.4 L795.2,1541.4 L795.8,1544.3 L796.4,1547.3 L797.0,1550.2 L797.6,1553.1 L798.2,1556.1 L798.8,1559.0 L799.4,1562.0 L800.0,1564.9 L800.6,1567.9 L801.3,1570.8 L801.9,1573.8 L802.5,1576.7 L803.2,1579.7 L803.9,1582.6 L804.6,1585.6 L805.3,1588.5 L806.0,1591.5 L806.8,1594.4 L807.6,1597.3 L808.4,1600.3 L809.2,1603.2 L810.1,1606.1 L810.9,1609.0 L811.9,1611.9 L812.8,1614.8 L813.8,1617.7 L814.9,1620.6 L815.9,1623.5 L817.0,1626.4 L818.2,1629.3 L819.4,1632.1 L820.6,1635.0 L821.9,1637.8 L823.3,1640.7 L824.6,1643.5 L826.1,1646.3 L827.6,1649.1 L829.1,1651.9 L830.7,1654.6 L832.3,1657.4 L834.0,1660.1 L835.7,1662.7 L837.5,1665.3 L839.3,1667.9 L841.2,1670.4 L843.1,1672.9 L845.0,1675.3 L847.0,1677.7 L849.0,1680.0 L851.1,1682.3 L853.2,1684.4 L855.4,1686.5 L857.6,1688.5 L859.8,1690.5 L862.0,1692.3 L864.4,1694.1 L866.7,1695.8 L869.1,1697.4 L871.5,1698.9 L873.9,1700.3 L876.4,1701.5 L878.9,1702.7 L881.5,1703.8 L884.1,1704.7 L886.7,1705.5 L889.3,1706.2 L892.0,1706.8 L894.7,1707.2 L897.5,1707.5 L900.2,1707.7 L903.0,1707.7 L905.8,1707.6 L908.7,1707.4 L911.5,1707.1 L914.3,1706.7 L917.2,1706.1 L920.0,1705.5 L922.8,1704.7 L925.7,1703.8 L928.5,1702.9 L931.3,1701.8 L934.0,1700.7 L936.8,1699.5 L939.5,1698.2 L942.2,1696.8 L944.8,1695.3 L947.4,1693.8 L950.0,1692.2 L952.5,1690.5 L954.9,1688.8 L957.3,1687.0 L959.7,1685.2 L962.0,1683.3 L964.3,1681.4 L966.5,1679.4 L968.7,1677.3 L970.8,1675.2 L972.9,1673.1 L974.9,1670.9 L976.9,1668.7 L978.9,1666.4 L980.8,1664.1 L982.7,1661.7 L984.6,1659.3 L986.4,1656.9 L988.2,1654.4 L989.9,1651.9 L991.6,1649.4 L993.3,1646.8 L995.0,1644.2 L996.6,1641.6 L998.2,1638.9 L999.8,1636.2 L1001.4,1633.6 L1002.9,1630.8 L1004.4,1628.1 L1005.9,1625.3 L1007.4,1622.6 L1008.9,1619.8 L1010.3,1617.0 L1011.7,1614.2 L1013.1,1611.4 L1014.5,1608.5 L1015.9,1605.7 L1017.3,1602.9 L1018.6,1600.0 L1020.0,1597.2 L1021.3,1594.3 L1022.6,1591.5 L1023.9,1588.7 L1025.3,1585.8 L1026.6,1583.0 L1027.9,1580.2 L1029.2,1577.4 L1030.5,1574.6 L1031.8,1571.8 L1033.1,1569.0 L1034.4,1566.2 L1035.7,1563.5 L1037.1,1560.8 L1038.4,1558.1 L1039.7,1555.4 L1041.1,1552.7 L1042.4,1550.1 L1043.8,1547.4 L1045.1,1544.8 L1046.5,1542.2 L1047.8,1539.7 L1049.2,1537.1 L1050.6,1534.5 L1051.9,1532.0 L1053.3,1529.4 L1054.7,1526.9 L1056.1,1524.4 L1057.4,1521.8 L1058.8,1519.3 L1060.2,1516.8 L1061.6,1514.3 L1062.9,1511.7 L1064.3,1509.2 L1065.6,1506.7 L1067.0,1504.1 L1068.3,1501.6 L1069.7,1499.0 L1071.0,1496.5 L1072.4,1493.9 L1073.7,1491.3 L1075.0,1488.7 L1076.3,1486.1 L1077.6,1483.5 L1078.9,1480.8 L1080.2,1478.1 L1081.5,1475.5 L1082.7,1472.7 L1084.0,1470.0 L1085.2,1467.3 L1086.5,1464.5 L1087.7,1461.7 L1088.9,1458.8 L1090.1,1455.9 L1091.2,1453.0 L1092.4,1450.1 L1093.5,1447.1 L1094.6,1444.1 L1095.8,1441.1 L1096.8,1438.0 L1097.9,1434.9" stroke="#008080"/>
<path d="M688.3,1174.1 L691.2,1175.6 L693.9,1177.1 L696.5,1178.8 L699.0,1180.5 L701.5,1182.3 L703.8,1184.2 L706.0,1186.2 L708.1,1188.2 L710.1,1190.3 L712.1,1192.5 L713.9,1194.7 L715.7,1197.1 L717.4,1199.4 L719.0,1201.8 L720.6,1204.3 L722.0,1206.8 L723.4,1209.4 L724.8,1212.0 L726.1,1214.6 L727.3,1217.3 L728.5,1220.0 L729.6,1222.7 L730.7,1225.4 L731.8,1228.2 L732.8,1231.0 L733.7,1233.8 L734.7,1236.6 L735.5,1239.5 L736.4,1242.3 L737.2,1245.2 L738.0,1248.1 L738.8,1251.0 L739.5,1253.9 L740.2,1256.8 L740.9,1259.8 L741.5,1262.7 L742.1,1265.7 L742.7,1268.7 L743.3,1271.7 L743.9,1274.6 L744.4,1277.7 L744.9,1280.7 L745.4,1283.7 L745.9,1286.7 L746.4,1289.7 L746.8,1292.8 L747.3,1295.8 L747.7,1298.9 L748.1,1301.9 L748.6,1305.0 L749.0,1308.0 L749.4,1311.1 L749.8,1314.1 L750.2,1317.2 L750.6,1320.3 L751.0,1323.3 L751.4,1326.4 L751.8,1329.4 L752.2,1332.5 L752.7,1335.5 L753.1,1338.6 L753.5,1341.6 L754.0,1344.6 L754.4,1347.7 L754.9,1350.7 L755.4,1353.7 L755.9,1356.7 L756.4,1359.7 L756.9,1362.7 L757.4,1365.7 L758.0,1368.7 L758.5,1371.7 L759.1,1374.6 L759.6,1377.6 L760.2,1380.6 L760.8,1383.5 L761.4,1386.5 L761.9,1389.4 L762.5,1392.4 L763.2,1395.3 L763.8,1398.3 L764.4,1401.2 L765.0,1404.2 L765.7,1407.1 L766.3,1410.0 L766.9,1412.9 L767.6,1415.9 L768.2,1418.8 L768.9,1421.7 L769.6,1424.6 L770.2,1427.5 L770.9,1430.5 L771.6,1433.4 L772.3,1436.3 L772.9,1439.2 L773.6,1442.1 L774.3,1445.0 L775.0,1447.9 L775.7,1450.8 L776.4,1453.7 L777.1,1456.6 L777.7,1459.5 L778.4,1462.4 L779.1,1465.4 L779.8,1468.3 L780.5,1471.2 L781.2,1474.1 L781.9,1477.0 L782.6,1479.9 L783.2,1482.8 L783.9,1485.7 L784.6,1488.6 L785.3,1491.5 L785.9,1494.5 L786.6,1497.4 L787.3,1500.3 L787.9,1503.2 L788.6,1506.1 L789.2,1509.1 L789.9,1512.0 L790.5,1514.9 L791.2,1517.9 L791.8,1520.8 L792.4,1523.8 L793.0,1526.7 L793.6,1529.7 L794.2,1532.6 L794.8,1535.6 L795.4,1538.5 L796.0,1541.5 L796.6,1544.5 L797.2,1547.5 L797.7,1550.4 L798.3,1553.4 L798.9,1556.4 L799.4,1559.4 L800.0,1562.4 L800.6,1565.3 L801.2,1568.3 L801.8,1571.3 L802.4,1574.3 L803.0,1577.3 L803.7,1580.3 L804.3,1583.2 L805.0,1586.2 L805.7,1589.2 L806.4,1592.1 L807.2,1595.1 L807.9,1598.0 L808.7,1601.0 L809.6,1603.9 L810.4,1606.9 L811.3,1609.8 L812.2,1612.7 L813.2,1615.6 L814.2,1618.5 L815.2,1621.4 L816.3,1624.3 L817.5,1627.2 L818.6,1630.0 L819.9,1632.9 L821.1,1635.7 L822.4,1638.5 L823.8,1641.3 L825.2,1644.1 L826.7,1646.9 L828.3,1649.6 L829.8,1652.4 L831.5,1655.1 L833.1,1657.7 L834.9,1660.4 L836.7,1663.0 L838.5,1665.5 L840.4,1668.0 L842.3,1670.4 L844.2,1672.8 L846.2,1675.2 L848.3,1677.4 L850.4,1679.7 L852.5,1681.8 L854.7,1683.9 L856.9,1685.9 L859.2,1687.8 L861.5,1689.6 L863.8,1691.4 L866.2,1693.0 L868.6,1694.6 L871.1,1696.1 L873.5,1697.4 L876.1,1698.7 L878.6,1699.9 L881.2,1700.9 L883.8,1701.9 L886.5,1702.7 L889.2,1703.4 L891.9,1703.9 L894.6,1704.4 L897.4,1704.7 L900.2,1704.9 L903.0,1705.0 L905.9,1704.9 L908.7,1704.7 L911.6,1704.4 L914.5,1704.0 L917.4,1703.5 L920.2,1702.9 L923.1,1702.2 L926.0,1701.3 L928.8,1700.4 L931.6,1699.4 L934.4,1698.3 L937.2,1697.1 L940.0,1695.9 L942.7,1694.5 L945.4,1693.1 L948.0,1691.6 L950.6,1690.1 L953.1,1688.4 L955.6,1686.7 L958.1,1685.0 L960.5,1683.2 L962.8,1681.3 L965.1,1679.4 L967.4,1677.5 L969.6,1675.4 L971.8,1673.4 L973.9,1671.2 L976.0,1669.1 L978.1,1666.9 L980.1,1664.6 L982.1,1662.3 L984.0,1660.0 L985.9,1657.6 L987.8,1655.2 L989.6,1652.7 L991.4,1650.2 L993.2,1647.7 L995.0,1645.2 L996.7,1642.6 L998.4,1640.0 L1000.1,1637.4 L1001.7,1634.7 L1003.4,1632.1 L1005.0,1629.4 L1006.6,1626.7 L1008.1,1623.9 L1009.7,1621.2 L1011.2,1618.4 L1012.7,1615.7 L1014.2,1612.9 L1015.7,1610.1 L1017.2,1607.3 L1018.6,1604.6 L1020.1,1601.8 L1021.5,1599.0 L1023.0,1596.2 L1024.4,1593.4 L1025.8,1590.6 L1027.2,1587.8 L1028.6,1585.0 L1030.0,1582.3 L1031.4,1579.5 L1032.8,1576.8 L1034.2,1574.0 L1035.6,1571.3 L1037.0,1568.6 L1038.4,1565.9 L1039.8,1563.3 L1041.2,1560.6 L1042.7,1558.0 L1044.1,1555.4 L1045.5,1552.8 L1046.9,1550.3 L1048.4,1547.7 L1049.8,1545.1 L1051.2,1542.6 L1052.6,1540.1 L1054.1,1537.6 L1055.5,1535.0 L1056.9,1532.5 L1058.3,1530.0 L1059.8,1527.5 L1061.2,1525.0 L1062.6,1522.5 L1064.0,1520.0 L1065.4,1517.4 L1066.8,1514.9 L1068.2,1512.4 L1069.5,1509.8 L1070.9,1507.3 L1072.3,1504.7 L1073.6,1502.1 L1075.0,1499.5 L1076.3,1496.9 L1077.6,1494.3 L1078.9,1491.7 L1080.2,1489.0 L1081.5,1486.3 L1082.8,1483.6 L1084.1,1480.9 L1085.3,1478.1 L1086.5,1475.3 L1087.8,1472.5 L1089.0,1469.7 L1090.1,1466.8 L1091.3,1463.9 L1092.5,1461.0 L1093.6,1458.0 L1094.7,1455.0 L1095.8,1451.9 L1096.9,1448.8 L1097.9,1445.7" stroke="#FF00FF"/>
<path d="M688.6,1173.6 L691.2,1175.5 L693.7,1177.5 L696.1,1179.5 L698.4,1181.6 L700.6,1183.7 L702.8,1185.8 L704.8,1188.0 L706.8,1190.2 L708.7,1192.5 L710.6,1194.8 L712.4,1197.1 L714.1,1199.5 L715.7,1201.9 L717.3,1204.3 L718.8,1206.8 L720.2,1209.3 L721.6,1211.9 L722.9,1214.5 L724.2,1217.1 L725.4,1219.7 L726.5,1222.4 L727.7,1225.1 L728.7,1227.8 L729.7,1230.5 L730.7,1233.3 L731.6,1236.1 L732.5,1238.9 L733.3,1241.8 L734.1,1244.6 L734.8,1247.5 L735.6,1250.4 L736.2,1253.3 L736.9,1256.3 L737.5,1259.2 L738.1,1262.2 L738.7,1265.2 L739.2,1268.2 L739.7,1271.2 L740.2,1274.2 L740.7,1277.2 L741.1,1280.3 L741.6,1283.3 L742.0,1286.4 L742.4,1289.5 L742.8,1292.5 L743.2,1295.6 L743.6,1298.7 L744.0,1301.8 L744.3,1304.8 L744.7,1307.9 L745.1,1311.0 L745.4,1314.1 L745.8,1317.2 L746.2,1320.2 L746.6,1323.3 L746.9,1326.4 L747.3,1329.4 L747.8,1332.5 L748.2,1335.5 L748.6,1338.6 L749.1,1341.6 L749.5,1344.6 L750.0,1347.6 L750.5,1350.6 L751.0,1353.7 L751.5,1356.6 L752.0,1359.6 L752.5,1362.6 L753.0,1365.6 L753.6,1368.6 L754.1,1371.6 L754.7,1374.5 L755.2,1377.5 L755.8,1380.4 L756.4,1383.4 L757.0,1386.3 L757.6,1389.3 L758.2,1392.2 L758.8,1395.2 L759.4,1398.1 L760.0,1401.0 L760.7,1403.9 L761.3,1406.9 L761.9,1409.8 L762.6,1412.7 L763.2,1415.6 L763.9,1418.5 L764.5,1421.4 L765.2,1424.4 L765.9,1427.3 L766.5,1430.2 L767.2,1433.1 L767.9,1436.0 L768.5,1438.9 L769.2,1441.8 L769.9,1444.7 L770.6,1447.6 L771.2,1450.5 L771.9,1453.4 L772.6,1456.3 L773.3,1459.2 L774.0,1462.1 L774.6,1465.0 L775.3,1467.9 L776.0,1470.8 L776.7,1473.7 L777.3,1476.6 L778.0,1479.5 L778.7,1482.4 L779.3,1485.3 L780.0,1488.3 L780.7,1491.2 L781.3,1494.1 L782.0,1497.0 L782.6,1499.9 L783.3,1502.9 L783.9,1505.8 L784.5,1508.7 L785.2,1511.7 L785.8,1514.6 L786.4,1517.6 L787.0,1520.5 L787.6,1523.5 L788.2,1526.4 L788.8,1529.4 L789.4,1532.3 L790.0,1535.3 L790.6,1538.3 L791.2,1541.3 L791.8,1544.2 L792.3,1547.2 L792.9,1550.2 L793.6,1553.2 L794.2,1556.2 L794.8,1559.1 L795.4,1562.1 L796.1,1565.1 L796.8,1568.0 L797.4,1571.0 L798.1,1574.0 L798.9,1576.9 L799.6,1579.9 L800.4,1582.8 L801.2,1585.8 L802.0,1588.7 L802.8,1591.6 L803.7,1594.6 L804.6,1597.5 L805.6,1600.4 L806.5,1603.3 L807.6,1606.2 L808.6,1609.0 L809.7,1611.9 L810.8,1614.8 L812.0,1617.6 L813.2,1620.4 L814.5,1623.3 L815.8,1626.1 L817.1,1628.9 L818.6,1631.6 L820.0,1634.4 L821.5,1637.1 L823.1,1639.9 L824.7,1642.6 L826.4,1645.3 L828.1,1647.9 L829.9,1650.5 L831.7,1653.1 L833.5,1655.6 L835.4,1658.1 L837.4,1660.6 L839.3,1663.0 L841.4,1665.4 L843.4,1667.7 L845.6,1669.9 L847.7,1672.1 L849.9,1674.2 L852.1,1676.3 L854.4,1678.2 L856.7,1680.1 L859.0,1682.0 L861.4,1683.7 L863.8,1685.4 L866.2,1687.0 L868.7,1688.5 L871.2,1689.9 L873.7,1691.2 L876.3,1692.4 L878.9,1693.5 L881.5,1694.5 L884.1,1695.4 L886.8,1696.2 L889.5,1696.8 L892.2,1697.4 L894.9,1697.8 L897.7,1698.1 L900.4,1698.3 L903.2,1698.4 L906.0,1698.4 L908.8,1698.2 L911.6,1698.0 L914.4,1697.6 L917.2,1697.2 L920.0,1696.6 L922.8,1696.0 L925.6,1695.2 L928.4,1694.4 L931.1,1693.4 L933.9,1692.4 L936.6,1691.3 L939.3,1690.1 L942.0,1688.8 L944.6,1687.4 L947.2,1685.9 L949.8,1684.4 L952.4,1682.8 L954.9,1681.1 L957.3,1679.3 L959.7,1677.5 L962.1,1675.6 L964.5,1673.7 L966.8,1671.7 L969.1,1669.6 L971.3,1667.5 L973.5,1665.3 L975.7,1663.1 L977.9,1660.8 L980.0,1658.5 L982.1,1656.1 L984.1,1653.7 L986.1,1651.3 L988.1,1648.8 L990.1,1646.3 L992.0,1643.8 L994.0,1641.3 L995.8,1638.7 L997.7,1636.1 L999.5,1633.5 L1001.4,1630.9 L1003.1,1628.3 L1004.9,1625.7 L1006.7,1623.1 L1008.4,1620.4 L1010.1,1617.8 L1011.8,1615.2 L1013.4,1612.5 L1015.1,1609.9 L1016.7,1607.3 L1018.3,1604.7 L1019.9,1602.1 L1021.5,1599.5 L1023.1,1596.9 L1024.7,1594.3 L1026.2,1591.7 L1027.8,1589.1 L1029.3,1586.6 L1030.8,1584.0 L1032.4,1581.4 L1033.9,1578.9 L1035.4,1576.3 L1036.9,1573.8 L1038.4,1571.3 L1039.9,1568.7 L1041.5,1566.2 L1043.0,1563.7 L1044.5,1561.2 L1046.0,1558.6 L1047.5,1556.1 L1049.0,1553.6 L1050.6,1551.1 L1052.1,1548.6 L1053.6,1546.1 L1055.2,1543.6 L1056.7,1541.2 L1058.2,1538.7 L1059.8,1536.2 L1061.3,1533.7 L1062.9,1531.2 L1064.5,1528.7 L1066.0,1526.2 L1067.6,1523.7 L1069.2,1521.2 L1070.8,1518.7 L1072.4,1516.2 L1074.1,1513.7 L1075.7,1511.2 L1077.3,1508.7 L1079.0,1506.1 L1080.6,1503.6 L1082.3,1501.1 L1084.0,1498.5 L1085.7,1496.0 L1087.4,1493.4 L1089.1,1490.9 L1090.9,1488.3 L1092.6,1485.7 L1094.4,1483.1 L1096.2,1480.5 L1098.0,1477.9" stroke="#808000"/>
</g>
<rect x="688.2" y="1144.5" width="410.3" height="647.3" fill="none" stroke="#000" stroke-width="4"/>
<g clip-path="url(#cB3)" fill="none" stroke-width="3.6" stroke-linejoin="round">
<path d="M1178.1,1312.8 L1178.5,1315.8 L1179.0,1318.9 L1179.4,1321.9 L1179.8,1324.9 L1180.3,1327.9 L1180.7,1331.0 L1181.2,1334.0 L1181.7,1337.0 L1182.1,1340.0 L1182.6,1343.0 L1183.1,1346.0 L1183.5,1349.0 L1184.0,1352.0 L1184.5,1355.0 L1185.0,1358.0 L1185.5,1361.0 L1186.0,1364.0 L1186.5,1366.9 L1187.0,1369.9 L1187.5,1372.9 L1188.0,1375.9 L1188.5,1378.8 L1189.0,1381.8 L1189.5,1384.8 L1190.0,1387.7 L1190.6,1390.7 L1191.1,1393.7 L1191.6,1396.6 L1192.1,1399.6 L1192.7,1402.5 L1193.2,1405.5 L1193.7,1408.4 L1194.3,1411.4 L1194.8,1414.3 L1195.4,1417.2 L1195.9,1420.2 L1196.4,1423.1 L1197.0,1426.1 L1197.5,1429.0 L1198.1,1431.9 L1198.6,1434.9 L1199.2,1437.8 L1199.7,1440.8 L1200.3,1443.7 L1200.8,1446.6 L1201.4,1449.6 L1201.9,1452.5 L1202.5,1455.4 L1203.1,1458.4 L1203.6,1461.3 L1204.2,1464.2 L1204.7,1467.2 L1205.3,1470.1 L1205.8,1473.0 L1206.4,1476.0 L1207.0,1478.9 L1207.5,1481.8 L1208.1,1484.8 L1208.6,1487.7 L1209.2,1490.6 L1209.7,1493.6 L1210.3,1496.5 L1210.8,1499.5 L1211.4,1502.4 L1211.9,1505.4 L1212.5,1508.3 L1213.0,1511.2 L1213.6,1514.2 L1214.1,1517.1 L1214.7,1520.1 L1215.2,1523.1 L1215.8,1526.0 L1216.3,1529.0 L1216.8,1531.9 L1217.4,1534.9 L1217.9,1537.9 L1218.4,1540.8 L1219.0,1543.8 L1219.5,1546.8 L1220.0,1549.8 L1220.6,1552.7 L1221.1,1555.7 L1221.6,1558.7 L1222.1,1561.7 L1222.6,1564.7 L1223.1,1567.7 L1223.6,1570.7 L1224.1,1573.7 L1224.6,1576.7 L1225.1,1579.7 L1225.6,1582.7 L1226.1,1585.7 L1226.6,1588.7 L1227.1,1591.8 L1227.6,1594.8 L1228.1,1597.8 L1228.6,1600.8 L1229.1,1603.9 L1229.6,1606.9 L1230.1,1609.9 L1230.6,1612.9 L1231.1,1616.0 L1231.6,1619.0 L1232.1,1622.0 L1232.6,1625.0 L1233.2,1628.1 L1233.7,1631.1 L1234.2,1634.1 L1234.8,1637.1 L1235.4,1640.1 L1236.0,1643.1 L1236.6,1646.1 L1237.2,1649.1 L1237.8,1652.1 L1238.4,1655.1 L1239.0,1658.1 L1239.7,1661.0 L1240.4,1664.0 L1241.1,1667.0 L1241.8,1669.9 L1242.5,1672.9 L1243.3,1675.8 L1244.0,1678.7 L1244.8,1681.7 L1245.6,1684.6 L1246.4,1687.5 L1247.3,1690.4 L1248.2,1693.2 L1249.1,1696.1 L1250.0,1699.0 L1250.9,1701.8 L1251.9,1704.7 L1252.9,1707.5 L1253.9,1710.3 L1254.9,1713.1 L1256.0,1715.9 L1257.1,1718.6 L1258.3,1721.4 L1259.4,1724.1 L1260.6,1726.9 L1261.9,1729.6 L1263.1,1732.3 L1264.4,1735.0 L1265.7,1737.6 L1267.1,1740.3 L1268.5,1742.9 L1269.9,1745.5 L1271.4,1748.1 L1272.9,1750.7 L1274.4,1753.3 L1276.0,1755.8 L1277.6,1758.3 L1279.3,1760.8 L1281.0,1763.3 L1282.7,1765.7 L1284.5,1768.0 L1286.4,1770.0 L1288.4,1771.7 L1290.5,1773.0 L1292.7,1773.8 L1295.0,1774.0 L1297.4,1773.8 L1299.8,1773.1 L1302.2,1771.9 L1304.5,1770.5 L1306.6,1768.6 L1308.6,1766.5 L1310.6,1764.2 L1312.4,1761.6 L1314.1,1758.9 L1315.7,1756.0 L1317.2,1753.1 L1318.7,1750.1 L1320.1,1747.0 L1321.5,1744.0 L1322.8,1741.0 L1324.1,1738.0 L1325.4,1734.9 L1326.6,1731.9 L1327.8,1728.9 L1328.9,1725.9 L1330.1,1722.9 L1331.1,1719.9 L1332.2,1717.0 L1333.2,1714.0 L1334.2,1711.0 L1335.2,1708.0 L1336.1,1705.1 L1337.1,1702.1 L1338.0,1699.2 L1338.8,1696.2 L1339.7,1693.3 L1340.6,1690.3 L1341.4,1687.4 L1342.3,1684.5 L1343.1,1681.6 L1343.9,1678.6 L1344.7,1675.7 L1345.5,1672.8 L1346.3,1669.9 L1347.1,1667.0 L1347.9,1664.2 L1348.7,1661.3 L1349.5,1658.4 L1350.3,1655.5 L1351.2,1652.7 L1352.0,1649.8 L1352.8,1647.0 L1353.7,1644.1 L1354.6,1641.3 L1355.4,1638.5 L1356.3,1635.6 L1357.3,1632.8 L1358.2,1630.0 L1359.1,1627.2 L1360.1,1624.4 L1361.1,1621.6 L1362.1,1618.8 L1363.1,1616.0 L1364.1,1613.3 L1365.2,1610.5 L1366.2,1607.7 L1367.3,1605.0 L1368.4,1602.2 L1369.5,1599.5 L1370.7,1596.7 L1371.8,1594.0 L1373.0,1591.3 L1374.1,1588.6 L1375.3,1585.9 L1376.5,1583.2 L1377.8,1580.5 L1379.0,1577.8 L1380.3,1575.1 L1381.6,1572.4 L1382.8,1569.8 L1384.2,1567.1 L1385.5,1564.4 L1386.8,1561.8 L1388.2,1559.1 L1389.6,1556.5 L1390.9,1553.9 L1392.3,1551.3 L1393.8,1548.7 L1395.2,1546.0 L1396.7,1543.5 L1398.1,1540.9 L1399.6,1538.3 L1401.1,1535.7 L1402.6,1533.1 L1404.2,1530.6 L1405.7,1528.0 L1407.3,1525.5 L1408.9,1522.9 L1410.5,1520.4 L1412.1,1517.9 L1413.7,1515.3 L1415.4,1512.8 L1417.0,1510.3 L1418.7,1507.8 L1420.4,1505.3 L1422.1,1502.9 L1423.8,1500.4 L1425.6,1497.9 L1427.4,1495.5 L1429.1,1493.0 L1430.9,1490.6 L1432.7,1488.1 L1434.5,1485.7 L1436.4,1483.3 L1438.2,1480.9 L1440.1,1478.5 L1442.0,1476.1 L1443.9,1473.7 L1445.8,1471.3 L1447.8,1468.9 L1449.7,1466.6 L1451.7,1464.2 L1453.7,1461.8 L1455.6,1459.5 L1457.7,1457.2 L1459.7,1454.8 L1461.7,1452.5 L1463.8,1450.2 L1465.9,1447.9 L1468.0,1445.6 L1470.1,1443.3 L1472.2,1441.1 L1474.3,1438.8 L1476.5,1436.5 L1478.7,1434.3 L1480.8,1432.0 L1483.0,1429.8 L1485.3,1427.6 L1487.5,1425.4 L1489.7,1423.2 L1492.0,1421.0 L1494.3,1418.9 L1496.6,1416.8 L1498.9,1414.8 L1501.3,1412.8 L1503.6,1410.8 L1506.0,1408.9 L1508.4,1407.1 L1510.8,1405.3 L1513.2,1403.6 L1515.7,1401.9 L1518.2,1400.3 L1520.7,1398.9 L1523.2,1397.5 L1525.7,1396.2 L1528.3,1394.9 L1530.9,1393.8 L1533.5,1392.8 L1536.1,1391.9 L1538.8,1391.1 L1541.4,1390.5 L1544.1,1389.9 L1546.9,1389.5 L1549.6,1389.2 L1552.4,1389.1 L1555.2,1389.0 L1558.0,1389.2 L1560.9,1389.5 L1563.7,1389.9 L1566.6,1390.5 L1569.6,1391.3 L1572.5,1392.2 L1575.5,1393.3 L1578.5,1394.6 L1581.6,1396.0 L1584.6,1397.7 L1587.7,1399.5" stroke="#000000"/>
<path d="M1178.0,1194.1 L1178.5,1197.2 L1179.0,1200.2 L1179.5,1203.3 L1180.0,1206.3 L1180.5,1209.3 L1181.0,1212.4 L1181.6,1215.4 L1182.1,1218.5 L1182.6,1221.5 L1183.1,1224.5 L1183.6,1227.5 L1184.1,1230.6 L1184.6,1233.6 L1185.1,1236.6 L1185.6,1239.6 L1186.1,1242.6 L1186.6,1245.6 L1187.1,1248.6 L1187.6,1251.6 L1188.1,1254.6 L1188.6,1257.6 L1189.1,1260.6 L1189.6,1263.6 L1190.1,1266.6 L1190.6,1269.6 L1191.0,1272.5 L1191.5,1275.5 L1192.0,1278.5 L1192.5,1281.5 L1193.0,1284.5 L1193.5,1287.4 L1194.0,1290.4 L1194.5,1293.4 L1195.0,1296.3 L1195.5,1299.3 L1196.0,1302.3 L1196.5,1305.2 L1197.0,1308.2 L1197.5,1311.1 L1198.0,1314.1 L1198.5,1317.0 L1199.0,1320.0 L1199.5,1322.9 L1200.0,1325.9 L1200.5,1328.8 L1200.9,1331.8 L1201.4,1334.7 L1201.9,1337.7 L1202.4,1340.6 L1202.9,1343.6 L1203.4,1346.5 L1203.9,1349.4 L1204.4,1352.4 L1204.9,1355.3 L1205.5,1358.2 L1206.0,1361.2 L1206.5,1364.1 L1207.0,1367.0 L1207.5,1370.0 L1208.0,1372.9 L1208.5,1375.8 L1209.0,1378.8 L1209.5,1381.7 L1210.0,1384.6 L1210.5,1387.5 L1211.0,1390.5 L1211.6,1393.4 L1212.1,1396.3 L1212.6,1399.3 L1213.1,1402.2 L1213.6,1405.1 L1214.2,1408.0 L1214.7,1411.0 L1215.2,1413.9 L1215.7,1416.8 L1216.3,1419.7 L1216.8,1422.7 L1217.3,1425.6 L1217.9,1428.5 L1218.4,1431.4 L1218.9,1434.4 L1219.5,1437.3 L1220.0,1440.2 L1220.5,1443.1 L1221.1,1446.1 L1221.6,1449.0 L1222.2,1451.9 L1222.7,1454.9 L1223.3,1457.8 L1223.8,1460.7 L1224.4,1463.6 L1225.0,1466.6 L1225.5,1469.5 L1226.1,1472.4 L1226.6,1475.4 L1227.2,1478.3 L1227.8,1481.3 L1228.4,1484.2 L1228.9,1487.1 L1229.5,1490.1 L1230.1,1493.0 L1230.7,1496.0 L1231.2,1498.9 L1231.8,1501.8 L1232.4,1504.8 L1233.0,1507.7 L1233.6,1510.7 L1234.2,1513.6 L1234.8,1516.6 L1235.4,1519.5 L1236.0,1522.5 L1236.6,1525.5 L1237.2,1528.4 L1237.9,1531.4 L1238.5,1534.3 L1239.1,1537.3 L1239.7,1540.3 L1240.4,1543.2 L1241.0,1546.2 L1241.6,1549.2 L1242.3,1552.2 L1242.9,1555.1 L1243.5,1558.1 L1244.2,1561.1 L1244.8,1564.1 L1245.5,1567.1 L1246.1,1570.1 L1246.8,1573.1 L1247.5,1576.0 L1248.1,1579.0 L1248.8,1582.0 L1249.5,1585.0 L1250.2,1588.1 L1250.8,1591.1 L1251.5,1594.1 L1252.2,1597.1 L1252.9,1600.1 L1253.6,1603.1 L1254.3,1606.1 L1255.0,1609.2 L1255.7,1612.2 L1256.4,1615.2 L1257.2,1618.3 L1257.9,1621.3 L1258.6,1624.3 L1259.3,1627.4 L1260.1,1630.4 L1260.8,1633.5 L1261.6,1636.5 L1262.3,1639.6 L1263.1,1642.7 L1263.8,1645.7 L1264.6,1648.8 L1265.4,1651.8 L1266.2,1654.9 L1267.0,1657.9 L1267.8,1660.9 L1268.7,1663.9 L1269.6,1666.9 L1270.5,1669.8 L1271.5,1672.7 L1272.5,1675.6 L1273.5,1678.4 L1274.6,1681.2 L1275.7,1683.9 L1276.9,1686.6 L1278.2,1689.2 L1279.5,1691.8 L1280.9,1694.3 L1282.3,1696.7 L1283.8,1699.0 L1285.4,1701.3 L1287.1,1703.5 L1288.8,1705.6 L1290.6,1707.6 L1292.5,1709.5 L1294.5,1711.4 L1296.6,1713.1 L1298.8,1714.7 L1301.1,1716.2 L1303.5,1717.6 L1305.9,1718.8 L1308.4,1719.6 L1310.9,1720.1 L1313.5,1720.2 L1316.0,1719.7 L1318.5,1718.9 L1321.0,1717.7 L1323.4,1716.2 L1325.8,1714.3 L1328.1,1712.3 L1330.3,1710.1 L1332.4,1707.8 L1334.4,1705.4 L1336.2,1702.9 L1338.0,1700.3 L1339.8,1697.7 L1341.4,1695.0 L1343.0,1692.3 L1344.5,1689.5 L1345.9,1686.7 L1347.4,1683.9 L1348.7,1681.1 L1350.1,1678.2 L1351.5,1675.3 L1352.8,1672.5 L1354.1,1669.6 L1355.5,1666.7 L1356.8,1663.9 L1358.2,1661.1 L1359.6,1658.3 L1361.0,1655.5 L1362.4,1652.8 L1363.9,1650.1 L1365.3,1647.3 L1366.8,1644.6 L1368.2,1641.9 L1369.7,1639.3 L1371.2,1636.6 L1372.7,1634.0 L1374.3,1631.4 L1375.8,1628.8 L1377.3,1626.2 L1378.9,1623.6 L1380.5,1621.0 L1382.1,1618.5 L1383.7,1616.0 L1385.3,1613.4 L1386.9,1610.9 L1388.6,1608.4 L1390.2,1606.0 L1391.9,1603.5 L1393.6,1601.1 L1395.3,1598.6 L1397.0,1596.2 L1398.7,1593.8 L1400.5,1591.4 L1402.2,1589.0 L1404.0,1586.6 L1405.7,1584.2 L1407.5,1581.9 L1409.3,1579.5 L1411.1,1577.2 L1413.0,1574.9 L1414.8,1572.5 L1416.6,1570.2 L1418.5,1567.9 L1420.4,1565.6 L1422.3,1563.4 L1424.2,1561.1 L1426.1,1558.8 L1428.0,1556.6 L1429.9,1554.3 L1431.9,1552.1 L1433.8,1549.8 L1435.8,1547.6 L1437.8,1545.4 L1439.8,1543.2 L1441.8,1541.0 L1443.8,1538.8 L1445.9,1536.6 L1447.9,1534.4 L1450.0,1532.2 L1452.0,1530.0 L1454.1,1527.8 L1456.2,1525.6 L1458.3,1523.5 L1460.4,1521.3 L1462.5,1519.1 L1464.7,1517.0 L1466.8,1514.8 L1469.0,1512.7 L1471.2,1510.5 L1473.4,1508.4 L1475.6,1506.2 L1477.8,1504.1 L1480.0,1502.0 L1482.2,1499.8 L1484.5,1497.7 L1486.7,1495.5 L1489.0,1493.4 L1491.3,1491.3 L1493.6,1489.2 L1495.9,1487.2 L1498.2,1485.1 L1500.6,1483.1 L1502.9,1481.1 L1505.3,1479.1 L1507.7,1477.2 L1510.1,1475.3 L1512.5,1473.5 L1515.0,1471.7 L1517.4,1470.0 L1519.9,1468.3 L1522.4,1466.6 L1525.0,1465.1 L1527.5,1463.5 L1530.1,1462.1 L1532.7,1460.7 L1535.3,1459.4 L1537.9,1458.2 L1540.6,1457.0 L1543.3,1455.9 L1546.0,1455.0 L1548.7,1454.1 L1551.5,1453.3 L1554.2,1452.5 L1557.1,1451.9 L1559.9,1451.4 L1562.8,1451.0 L1565.7,1450.7 L1568.6,1450.5 L1571.5,1450.4 L1574.5,1450.5 L1577.5,1450.6 L1580.6,1450.9 L1583.7,1451.4 L1586.8,1451.9" stroke="#FF0000"/>
<path d="M1178.0,1143.8 L1178.5,1146.9 L1179.1,1149.9 L1179.6,1153.0 L1180.2,1156.0 L1180.7,1159.1 L1181.2,1162.1 L1181.8,1165.2 L1182.3,1168.2 L1182.9,1171.2 L1183.4,1174.3 L1183.9,1177.3 L1184.5,1180.3 L1185.0,1183.3 L1185.5,1186.3 L1186.0,1189.4 L1186.5,1192.4 L1187.1,1195.4 L1187.6,1198.4 L1188.1,1201.4 L1188.6,1204.4 L1189.1,1207.4 L1189.6,1210.4 L1190.1,1213.4 L1190.6,1216.4 L1191.1,1219.4 L1191.6,1222.3 L1192.1,1225.3 L1192.6,1228.3 L1193.1,1231.3 L1193.6,1234.3 L1194.1,1237.2 L1194.6,1240.2 L1195.1,1243.2 L1195.6,1246.1 L1196.1,1249.1 L1196.6,1252.1 L1197.1,1255.0 L1197.6,1258.0 L1198.1,1260.9 L1198.5,1263.9 L1199.0,1266.8 L1199.5,1269.8 L1200.0,1272.7 L1200.5,1275.7 L1201.0,1278.6 L1201.5,1281.6 L1201.9,1284.5 L1202.4,1287.5 L1202.9,1290.4 L1203.4,1293.3 L1203.9,1296.3 L1204.4,1299.2 L1204.8,1302.2 L1205.3,1305.1 L1205.8,1308.0 L1206.3,1311.0 L1206.8,1313.9 L1207.3,1316.8 L1207.7,1319.7 L1208.2,1322.7 L1208.7,1325.6 L1209.2,1328.5 L1209.7,1331.5 L1210.2,1334.4 L1210.6,1337.3 L1211.1,1340.2 L1211.6,1343.2 L1212.1,1346.1 L1212.6,1349.0 L1213.1,1351.9 L1213.6,1354.9 L1214.1,1357.8 L1214.6,1360.7 L1215.1,1363.6 L1215.6,1366.6 L1216.1,1369.5 L1216.6,1372.4 L1217.1,1375.3 L1217.6,1378.3 L1218.1,1381.2 L1218.6,1384.1 L1219.1,1387.0 L1219.6,1390.0 L1220.1,1392.9 L1220.6,1395.8 L1221.1,1398.7 L1221.6,1401.7 L1222.1,1404.6 L1222.7,1407.5 L1223.2,1410.4 L1223.7,1413.4 L1224.2,1416.3 L1224.8,1419.2 L1225.3,1422.2 L1225.8,1425.1 L1226.4,1428.0 L1226.9,1431.0 L1227.4,1433.9 L1228.0,1436.9 L1228.5,1439.8 L1229.1,1442.7 L1229.6,1445.7 L1230.2,1448.6 L1230.7,1451.6 L1231.3,1454.5 L1231.8,1457.5 L1232.4,1460.4 L1233.0,1463.4 L1233.5,1466.3 L1234.1,1469.3 L1234.7,1472.2 L1235.3,1475.2 L1235.8,1478.2 L1236.4,1481.1 L1237.0,1484.1 L1237.6,1487.0 L1238.2,1490.0 L1238.8,1493.0 L1239.4,1496.0 L1240.0,1498.9 L1240.6,1501.9 L1241.2,1504.9 L1241.9,1507.9 L1242.5,1510.9 L1243.1,1513.8 L1243.7,1516.8 L1244.4,1519.8 L1245.0,1522.8 L1245.6,1525.8 L1246.3,1528.8 L1246.9,1531.8 L1247.6,1534.8 L1248.3,1537.8 L1248.9,1540.9 L1249.6,1543.9 L1250.3,1546.9 L1250.9,1549.9 L1251.6,1552.9 L1252.3,1556.0 L1253.0,1559.0 L1253.7,1562.0 L1254.4,1565.1 L1255.1,1568.1 L1255.8,1571.2 L1256.5,1574.2 L1257.3,1577.3 L1258.0,1580.3 L1258.7,1583.4 L1259.4,1586.4 L1260.2,1589.5 L1260.9,1592.6 L1261.7,1595.6 L1262.4,1598.7 L1263.2,1601.8 L1264.0,1604.9 L1264.8,1608.0 L1265.5,1611.1 L1266.4,1614.1 L1267.2,1617.2 L1268.0,1620.2 L1268.9,1623.2 L1269.8,1626.2 L1270.8,1629.1 L1271.8,1632.0 L1272.8,1634.8 L1273.9,1637.6 L1275.0,1640.4 L1276.2,1643.0 L1277.5,1645.6 L1278.8,1648.2 L1280.2,1650.6 L1281.6,1653.0 L1283.2,1655.3 L1284.8,1657.5 L1286.5,1659.5 L1288.2,1661.5 L1290.1,1663.4 L1292.1,1665.2 L1294.1,1666.8 L1296.3,1668.3 L1298.6,1669.7 L1300.9,1670.9 L1303.4,1672.0 L1306.0,1672.9 L1308.6,1673.5 L1311.3,1673.9 L1313.9,1673.8 L1316.6,1673.5 L1319.3,1672.8 L1321.9,1671.8 L1324.5,1670.6 L1327.0,1669.1 L1329.5,1667.5 L1331.9,1665.8 L1334.2,1663.9 L1336.5,1661.9 L1338.7,1659.8 L1340.8,1657.6 L1342.8,1655.3 L1344.8,1652.9 L1346.8,1650.5 L1348.7,1648.0 L1350.5,1645.5 L1352.4,1642.9 L1354.2,1640.4 L1356.0,1637.8 L1357.7,1635.2 L1359.5,1632.6 L1361.2,1630.0 L1362.9,1627.4 L1364.7,1624.8 L1366.3,1622.2 L1368.0,1619.6 L1369.7,1617.0 L1371.3,1614.4 L1373.0,1611.8 L1374.6,1609.2 L1376.2,1606.6 L1377.8,1603.9 L1379.3,1601.3 L1380.9,1598.7 L1382.4,1596.1 L1384.0,1593.4 L1385.5,1590.8 L1387.0,1588.1 L1388.5,1585.5 L1390.0,1582.9 L1391.5,1580.2 L1393.0,1577.6 L1394.5,1574.9 L1395.9,1572.3 L1397.4,1569.6 L1398.8,1567.0 L1400.2,1564.3 L1401.6,1561.6 L1403.1,1559.0 L1404.5,1556.3 L1405.9,1553.7 L1407.3,1551.0 L1408.6,1548.3 L1410.0,1545.7 L1411.4,1543.0 L1412.8,1540.3 L1414.1,1537.7 L1415.5,1535.0 L1416.8,1532.3 L1418.2,1529.7 L1419.5,1527.0 L1420.9,1524.3 L1422.2,1521.6 L1423.6,1519.0 L1424.9,1516.3 L1426.2,1513.6 L1427.6,1511.0 L1428.9,1508.3 L1430.2,1505.6 L1431.6,1503.0 L1432.9,1500.3 L1434.2,1497.6 L1435.6,1495.0 L1436.9,1492.3 L1438.2,1489.6 L1439.6,1487.0 L1440.9,1484.3 L1442.3,1481.6 L1443.6,1479.0 L1444.9,1476.3 L1446.3,1473.6 L1447.6,1471.0 L1449.0,1468.3 L1450.4,1465.7 L1451.7,1463.0 L1453.1,1460.4 L1454.5,1457.7 L1455.9,1455.1 L1457.2,1452.4 L1458.6,1449.8 L1460.0,1447.1 L1461.4,1444.5 L1462.9,1441.9 L1464.3,1439.2 L1465.7,1436.6 L1467.2,1434.0 L1468.6,1431.4 L1470.1,1428.7 L1471.5,1426.1 L1473.0,1423.5 L1474.5,1420.9 L1476.0,1418.3 L1477.5,1415.7 L1479.0,1413.1 L1480.5,1410.5 L1482.1,1407.9 L1483.6,1405.3 L1485.2,1402.7 L1486.8,1400.1 L1488.4,1397.5 L1490.0,1394.9 L1491.6,1392.4 L1493.2,1389.8 L1494.9,1387.3 L1496.5,1384.7 L1498.2,1382.2 L1499.9,1379.6 L1501.5,1377.1 L1503.3,1374.6 L1505.0,1372.1 L1506.7,1369.6 L1508.5,1367.1 L1510.2,1364.6 L1512.0,1362.2 L1513.8,1359.7 L1515.6,1357.3 L1517.4,1354.9 L1519.2,1352.4 L1521.1,1350.0 L1523.0,1347.7 L1524.8,1345.3 L1526.7,1342.9 L1528.6,1340.6 L1530.6,1338.2 L1532.5,1335.9 L1534.5,1333.6 L1536.4,1331.4 L1538.4,1329.1 L1540.4,1326.8 L1542.4,1324.6 L1544.5,1322.4 L1546.5,1320.2 L1548.6,1318.0 L1550.7,1315.9 L1552.8,1313.7 L1554.9,1311.6 L1557.0,1309.5 L1559.2,1307.5 L1561.4,1305.4 L1563.6,1303.4 L1565.8,1301.4 L1568.0,1299.4 L1570.2,1297.4 L1572.5,1295.5 L1574.8,1293.6 L1577.1,1291.7 L1579.4,1289.8 L1581.7,1288.0 L1584.1,1286.2 L1586.4,1284.4" stroke="#0000FF"/>
<path d="M1177.9,1151.1 L1178.5,1154.2 L1179.1,1157.3 L1179.8,1160.3 L1180.4,1163.4 L1181.0,1166.4 L1181.6,1169.5 L1182.2,1172.5 L1182.8,1175.6 L1183.4,1178.6 L1184.0,1181.6 L1184.6,1184.6 L1185.1,1187.7 L1185.7,1190.7 L1186.3,1193.7 L1186.9,1196.7 L1187.5,1199.7 L1188.1,1202.7 L1188.6,1205.7 L1189.2,1208.7 L1189.8,1211.7 L1190.4,1214.7 L1190.9,1217.6 L1191.5,1220.6 L1192.1,1223.6 L1192.6,1226.6 L1193.2,1229.5 L1193.8,1232.5 L1194.3,1235.5 L1194.9,1238.4 L1195.5,1241.4 L1196.0,1244.3 L1196.6,1247.3 L1197.1,1250.2 L1197.7,1253.2 L1198.3,1256.1 L1198.8,1259.1 L1199.4,1262.0 L1199.9,1265.0 L1200.5,1267.9 L1201.0,1270.8 L1201.6,1273.8 L1202.2,1276.7 L1202.7,1279.6 L1203.3,1282.6 L1203.8,1285.5 L1204.4,1288.4 L1204.9,1291.3 L1205.5,1294.2 L1206.1,1297.2 L1206.6,1300.1 L1207.2,1303.0 L1207.7,1305.9 L1208.3,1308.8 L1208.9,1311.8 L1209.4,1314.7 L1210.0,1317.6 L1210.5,1320.5 L1211.1,1323.4 L1211.7,1326.3 L1212.2,1329.2 L1212.8,1332.2 L1213.4,1335.1 L1213.9,1338.0 L1214.5,1340.9 L1215.1,1343.8 L1215.7,1346.7 L1216.2,1349.6 L1216.8,1352.6 L1217.4,1355.5 L1218.0,1358.4 L1218.6,1361.3 L1219.2,1364.2 L1219.8,1367.1 L1220.3,1370.0 L1220.9,1373.0 L1221.5,1375.9 L1222.1,1378.8 L1222.7,1381.7 L1223.3,1384.6 L1223.9,1387.6 L1224.5,1390.5 L1225.2,1393.4 L1225.8,1396.4 L1226.4,1399.3 L1227.0,1402.2 L1227.6,1405.1 L1228.3,1408.1 L1228.9,1411.0 L1229.5,1414.0 L1230.2,1416.9 L1230.8,1419.8 L1231.4,1422.8 L1232.1,1425.7 L1232.7,1428.7 L1233.4,1431.6 L1234.1,1434.6 L1234.7,1437.5 L1235.4,1440.5 L1236.0,1443.5 L1236.7,1446.4 L1237.4,1449.4 L1238.1,1452.4 L1238.8,1455.4 L1239.5,1458.3 L1240.2,1461.3 L1240.9,1464.3 L1241.6,1467.3 L1242.3,1470.3 L1243.0,1473.3 L1243.7,1476.3 L1244.4,1479.3 L1245.1,1482.3 L1245.9,1485.3 L1246.6,1488.3 L1247.4,1491.3 L1248.1,1494.4 L1248.9,1497.4 L1249.6,1500.4 L1250.4,1503.5 L1251.2,1506.5 L1251.9,1509.5 L1252.7,1512.6 L1253.5,1515.6 L1254.3,1518.7 L1255.1,1521.8 L1255.9,1524.8 L1256.8,1527.8 L1257.6,1530.9 L1258.5,1533.9 L1259.4,1536.9 L1260.3,1539.9 L1261.2,1542.9 L1262.2,1545.9 L1263.2,1548.8 L1264.2,1551.8 L1265.3,1554.7 L1266.4,1557.6 L1267.5,1560.4 L1268.7,1563.2 L1269.9,1566.0 L1271.2,1568.8 L1272.5,1571.5 L1273.8,1574.2 L1275.2,1576.8 L1276.7,1579.4 L1278.2,1581.9 L1279.8,1584.4 L1281.4,1586.9 L1283.1,1589.3 L1284.8,1591.6 L1286.6,1593.9 L1288.5,1596.2 L1290.5,1598.3 L1292.5,1600.4 L1294.6,1602.5 L1296.7,1604.4 L1298.9,1606.3 L1301.2,1608.1 L1303.6,1609.8 L1306.1,1611.4 L1308.6,1612.9 L1311.2,1614.3 L1313.8,1615.5 L1316.6,1616.6 L1319.4,1617.6 L1322.2,1618.4 L1325.1,1619.1 L1328.1,1619.7 L1331.0,1620.2 L1334.1,1620.5 L1337.1,1620.8 L1340.1,1620.9 L1343.2,1620.9 L1346.2,1620.9 L1349.3,1620.7 L1352.3,1620.4 L1355.3,1620.1 L1358.2,1619.6 L1361.1,1619.1 L1364.0,1618.5 L1366.9,1617.8 L1369.7,1617.0 L1372.4,1616.2 L1375.2,1615.3 L1377.9,1614.3 L1380.6,1613.2 L1383.2,1612.1 L1385.8,1610.9 L1388.4,1609.6 L1391.0,1608.2 L1393.5,1606.8 L1396.0,1605.3 L1398.4,1603.8 L1400.8,1602.2 L1403.2,1600.6 L1405.6,1598.8 L1407.9,1597.1 L1410.2,1595.3 L1412.5,1593.4 L1414.7,1591.4 L1416.9,1589.5 L1419.1,1587.4 L1421.3,1585.4 L1423.4,1583.2 L1425.5,1581.1 L1427.6,1578.9 L1429.6,1576.6 L1431.6,1574.3 L1433.6,1572.0 L1435.6,1569.6 L1437.5,1567.2 L1439.4,1564.8 L1441.3,1562.3 L1443.2,1559.8 L1445.0,1557.3 L1446.8,1554.7 L1448.6,1552.1 L1450.4,1549.5 L1452.1,1546.9 L1453.8,1544.2 L1455.5,1541.6 L1457.2,1538.9 L1458.8,1536.2 L1460.4,1533.4 L1462.0,1530.7 L1463.6,1527.9 L1465.2,1525.2 L1466.7,1522.4 L1468.2,1519.6 L1469.7,1516.8 L1471.2,1514.0 L1472.7,1511.2 L1474.1,1508.4 L1475.5,1505.6 L1476.9,1502.8 L1478.3,1500.0 L1479.7,1497.2 L1481.0,1494.4 L1482.4,1491.7 L1483.7,1488.9 L1485.0,1486.1 L1486.4,1483.3 L1487.7,1480.6 L1489.0,1477.8 L1490.3,1475.1 L1491.6,1472.3 L1493.0,1469.6 L1494.3,1466.9 L1495.6,1464.2 L1497.0,1461.5 L1498.3,1458.9 L1499.7,1456.2 L1501.1,1453.6 L1502.5,1451.0 L1503.9,1448.4 L1505.3,1445.8 L1506.8,1443.3 L1508.2,1440.8 L1509.7,1438.3 L1511.3,1435.8 L1512.8,1433.4 L1514.4,1431.0 L1516.0,1428.6 L1517.7,1426.2 L1519.4,1423.9 L1521.1,1421.6 L1522.8,1419.4 L1524.6,1417.2 L1526.5,1415.0 L1528.3,1412.8 L1530.3,1410.7 L1532.2,1408.6 L1534.3,1406.6 L1536.3,1404.6 L1538.5,1402.6 L1540.6,1400.7 L1542.9,1398.8 L1545.2,1397.0 L1547.5,1395.2 L1549.9,1393.5 L1552.4,1391.8 L1554.9,1390.2 L1557.5,1388.6 L1560.2,1387.0 L1562.9,1385.5 L1565.7,1384.1 L1568.6,1382.7 L1571.6,1381.4 L1574.6,1380.1 L1577.7,1378.9 L1580.9,1377.7 L1584.2,1376.6 L1587.6,1375.6" stroke="#008080"/>
<path d="M1187.3,1144.3 L1188.2,1147.2 L1189.1,1150.1 L1190.0,1153.1 L1190.9,1156.0 L1191.8,1159.0 L1192.6,1161.9 L1193.4,1164.8 L1194.3,1167.8 L1195.1,1170.7 L1195.9,1173.6 L1196.7,1176.6 L1197.5,1179.5 L1198.2,1182.5 L1199.0,1185.4 L1199.7,1188.4 L1200.5,1191.3 L1201.2,1194.2 L1201.9,1197.2 L1202.7,1200.1 L1203.4,1203.1 L1204.1,1206.0 L1204.8,1209.0 L1205.5,1211.9 L1206.1,1214.9 L1206.8,1217.8 L1207.5,1220.7 L1208.1,1223.7 L1208.8,1226.6 L1209.4,1229.6 L1210.1,1232.5 L1210.7,1235.5 L1211.3,1238.4 L1212.0,1241.4 L1212.6,1244.3 L1213.2,1247.2 L1213.8,1250.2 L1214.5,1253.1 L1215.1,1256.1 L1215.7,1259.0 L1216.3,1262.0 L1216.9,1264.9 L1217.5,1267.8 L1218.1,1270.8 L1218.7,1273.7 L1219.3,1276.7 L1219.9,1279.6 L1220.5,1282.5 L1221.1,1285.5 L1221.7,1288.4 L1222.3,1291.4 L1222.9,1294.3 L1223.4,1297.2 L1224.0,1300.2 L1224.6,1303.1 L1225.2,1306.0 L1225.9,1309.0 L1226.5,1311.9 L1227.1,1314.8 L1227.7,1317.8 L1228.3,1320.7 L1228.9,1323.6 L1229.5,1326.6 L1230.1,1329.5 L1230.8,1332.4 L1231.4,1335.3 L1232.0,1338.3 L1232.7,1341.2 L1233.3,1344.1 L1234.0,1347.0 L1234.7,1349.9 L1235.3,1352.9 L1236.0,1355.8 L1236.7,1358.7 L1237.4,1361.6 L1238.0,1364.5 L1238.7,1367.4 L1239.5,1370.3 L1240.2,1373.2 L1240.9,1376.1 L1241.6,1379.0 L1242.4,1381.9 L1243.1,1384.8 L1243.9,1387.7 L1244.6,1390.6 L1245.4,1393.5 L1246.2,1396.4 L1247.0,1399.3 L1247.8,1402.2 L1248.7,1405.1 L1249.5,1408.0 L1250.3,1410.9 L1251.2,1413.8 L1252.1,1416.6 L1252.9,1419.5 L1253.8,1422.4 L1254.7,1425.3 L1255.7,1428.1 L1256.6,1431.0 L1257.5,1433.9 L1258.5,1436.7 L1259.5,1439.6 L1260.5,1442.5 L1261.5,1445.3 L1262.5,1448.2 L1263.6,1451.0 L1264.6,1453.9 L1265.7,1456.7 L1266.8,1459.6 L1267.9,1462.4 L1269.0,1465.3 L1270.1,1468.1 L1271.3,1471.0 L1272.5,1473.8 L1273.6,1476.6 L1274.9,1479.5 L1276.1,1482.3 L1277.3,1485.1 L1278.6,1487.9 L1279.9,1490.7 L1281.2,1493.6 L1282.5,1496.4 L1283.9,1499.2 L1285.2,1502.0 L1286.6,1504.7 L1288.1,1507.5 L1289.5,1510.2 L1291.0,1512.9 L1292.5,1515.6 L1294.1,1518.3 L1295.6,1521.0 L1297.3,1523.6 L1298.9,1526.2 L1300.6,1528.7 L1302.3,1531.2 L1304.1,1533.7 L1305.9,1536.1 L1307.7,1538.5 L1309.6,1540.9 L1311.5,1543.2 L1313.5,1545.4 L1315.5,1547.6 L1317.6,1549.8 L1319.7,1551.9 L1321.8,1553.9 L1324.1,1555.9 L1326.3,1557.8 L1328.6,1559.6 L1331.0,1561.4 L1333.4,1563.1 L1335.9,1564.8 L1338.4,1566.3 L1341.0,1567.8 L1343.6,1569.2 L1346.3,1570.5 L1349.0,1571.8 L1351.7,1572.9 L1354.4,1573.9 L1357.2,1574.9 L1360.0,1575.7 L1362.8,1576.4 L1365.6,1577.1 L1368.4,1577.6 L1371.2,1578.0 L1374.1,1578.2 L1376.9,1578.4 L1379.8,1578.4 L1382.6,1578.3 L1385.4,1578.1 L1388.2,1577.8 L1391.0,1577.3 L1393.8,1576.7 L1396.6,1576.0 L1399.4,1575.2 L1402.1,1574.3 L1404.8,1573.3 L1407.5,1572.2 L1410.2,1571.0 L1412.8,1569.7 L1415.5,1568.3 L1418.1,1566.8 L1420.6,1565.3 L1423.1,1563.6 L1425.6,1561.9 L1428.1,1560.2 L1430.5,1558.3 L1432.8,1556.4 L1435.1,1554.4 L1437.4,1552.4 L1439.6,1550.3 L1441.8,1548.2 L1443.9,1546.0 L1446.0,1543.7 L1448.0,1541.4 L1450.0,1539.1 L1451.9,1536.8 L1453.8,1534.4 L1455.7,1531.9 L1457.5,1529.4 L1459.2,1526.9 L1461.0,1524.4 L1462.7,1521.8 L1464.3,1519.2 L1466.0,1516.6 L1467.6,1514.0 L1469.1,1511.3 L1470.7,1508.6 L1472.2,1505.9 L1473.7,1503.2 L1475.2,1500.5 L1476.6,1497.7 L1478.1,1494.9 L1479.5,1492.2 L1480.9,1489.4 L1482.3,1486.6 L1483.7,1483.8 L1485.1,1481.0 L1486.5,1478.2 L1487.9,1475.4 L1489.3,1472.7 L1490.7,1469.9 L1492.1,1467.1 L1493.5,1464.3 L1494.9,1461.6 L1496.3,1458.8 L1497.7,1456.1 L1499.1,1453.4 L1500.6,1450.7 L1502.0,1448.0 L1503.5,1445.4 L1505.0,1442.7 L1506.5,1440.1 L1508.0,1437.5 L1509.6,1435.0 L1511.2,1432.4 L1512.8,1429.9 L1514.4,1427.4 L1516.1,1425.0 L1517.8,1422.6 L1519.5,1420.2 L1521.2,1417.9 L1523.0,1415.5 L1524.9,1413.3 L1526.7,1411.0 L1528.6,1408.9 L1530.6,1406.7 L1532.6,1404.6 L1534.6,1402.6 L1536.7,1400.6 L1538.8,1398.6 L1541.0,1396.7 L1543.2,1394.8 L1545.5,1393.0 L1547.9,1391.3 L1550.3,1389.6 L1552.7,1388.0 L1555.2,1386.4 L1557.8,1384.9 L1560.4,1383.4 L1563.1,1382.0 L1565.9,1380.7 L1568.7,1379.5 L1571.6,1378.3 L1574.6,1377.1 L1577.7,1376.1 L1580.8,1375.1 L1584.0,1374.2 L1587.3,1373.4" stroke="#FF00FF"/>
<path d="M1177.6,1165.9 L1178.4,1168.8 L1179.3,1171.7 L1180.1,1174.6 L1181.0,1177.5 L1181.8,1180.4 L1182.6,1183.3 L1183.5,1186.2 L1184.3,1189.1 L1185.1,1192.0 L1185.9,1194.9 L1186.7,1197.8 L1187.5,1200.7 L1188.3,1203.6 L1189.0,1206.5 L1189.8,1209.5 L1190.6,1212.4 L1191.3,1215.3 L1192.1,1218.2 L1192.9,1221.1 L1193.6,1224.1 L1194.3,1227.0 L1195.1,1229.9 L1195.8,1232.9 L1196.5,1235.8 L1197.3,1238.7 L1198.0,1241.7 L1198.7,1244.6 L1199.4,1247.5 L1200.1,1250.5 L1200.8,1253.4 L1201.6,1256.3 L1202.3,1259.3 L1203.0,1262.2 L1203.7,1265.2 L1204.4,1268.1 L1205.0,1271.0 L1205.7,1274.0 L1206.4,1276.9 L1207.1,1279.9 L1207.8,1282.8 L1208.5,1285.8 L1209.2,1288.7 L1209.9,1291.7 L1210.5,1294.6 L1211.2,1297.5 L1211.9,1300.5 L1212.6,1303.4 L1213.3,1306.4 L1214.0,1309.3 L1214.7,1312.3 L1215.3,1315.2 L1216.0,1318.2 L1216.7,1321.1 L1217.4,1324.0 L1218.1,1327.0 L1218.8,1329.9 L1219.5,1332.9 L1220.2,1335.8 L1220.8,1338.8 L1221.5,1341.7 L1222.2,1344.6 L1222.9,1347.6 L1223.6,1350.5 L1224.4,1353.4 L1225.1,1356.4 L1225.8,1359.3 L1226.5,1362.3 L1227.2,1365.2 L1227.9,1368.1 L1228.7,1371.0 L1229.4,1374.0 L1230.1,1376.9 L1230.9,1379.8 L1231.6,1382.7 L1232.4,1385.7 L1233.1,1388.6 L1233.9,1391.5 L1234.6,1394.4 L1235.4,1397.3 L1236.2,1400.2 L1236.9,1403.2 L1237.7,1406.1 L1238.5,1409.0 L1239.3,1411.9 L1240.1,1414.8 L1240.9,1417.7 L1241.7,1420.6 L1242.6,1423.5 L1243.4,1426.4 L1244.2,1429.2 L1245.1,1432.1 L1245.9,1435.0 L1246.8,1437.9 L1247.7,1440.8 L1248.5,1443.7 L1249.4,1446.5 L1250.3,1449.4 L1251.2,1452.3 L1252.1,1455.1 L1253.0,1458.0 L1253.9,1460.8 L1254.9,1463.7 L1255.8,1466.6 L1256.8,1469.4 L1257.7,1472.2 L1258.7,1475.1 L1259.7,1477.9 L1260.7,1480.8 L1261.7,1483.6 L1262.7,1486.4 L1263.7,1489.2 L1264.8,1492.1 L1265.8,1494.9 L1266.9,1497.7 L1267.9,1500.5 L1269.0,1503.3 L1270.1,1506.1 L1271.2,1508.9 L1272.3,1511.7 L1273.5,1514.5 L1274.6,1517.2 L1275.8,1520.0 L1276.9,1522.8 L1278.1,1525.6 L1279.3,1528.3 L1280.5,1531.1 L1281.7,1533.8 L1283.0,1536.6 L1284.2,1539.3 L1285.5,1542.1 L1286.7,1544.8 L1288.0,1547.5 L1289.3,1550.3 L1290.6,1553.0 L1292.0,1555.7 L1293.3,1558.4 L1294.7,1561.1 L1296.1,1563.8 L1297.4,1566.5 L1298.9,1569.2 L1300.3,1571.8 L1301.7,1574.5 L1303.2,1577.1 L1304.7,1579.8 L1306.2,1582.4 L1307.7,1585.1 L1309.2,1587.7 L1310.8,1590.3 L1312.3,1592.9 L1313.9,1595.4 L1315.5,1598.0 L1317.1,1600.5 L1318.8,1603.1 L1320.5,1605.6 L1322.1,1608.1 L1323.8,1610.6 L1325.6,1613.1 L1327.3,1615.5 L1329.1,1618.0 L1330.9,1620.4 L1332.7,1622.8 L1334.5,1625.2 L1336.4,1627.6 L1338.3,1629.9 L1340.2,1632.2 L1342.1,1634.6 L1344.1,1636.8 L1346.1,1639.1 L1348.1,1641.4 L1350.1,1643.6 L1352.1,1645.8 L1354.2,1648.0 L1356.3,1650.1 L1358.5,1652.2 L1360.6,1654.4 L1362.8,1656.4 L1365.0,1658.5 L1367.2,1660.5 L1369.5,1662.5 L1371.8,1664.5 L1374.1,1666.5 L1376.5,1668.4 L1378.8,1670.3 L1381.2,1672.1 L1383.7,1674.0 L1386.1,1675.8 L1388.6,1677.5 L1391.1,1679.2 L1393.7,1680.8 L1396.2,1682.2 L1398.8,1683.6 L1401.4,1684.8 L1404.0,1685.9 L1406.7,1686.8 L1409.3,1687.5 L1412.0,1688.0 L1414.7,1688.2 L1417.4,1688.3 L1420.1,1688.1 L1422.8,1687.6 L1425.6,1686.8 L1428.3,1685.7 L1431.0,1684.4 L1433.7,1682.9 L1436.4,1681.2 L1439.0,1679.4 L1441.5,1677.4 L1444.0,1675.4 L1446.4,1673.3 L1448.7,1671.2 L1450.9,1669.0 L1453.1,1666.8 L1455.2,1664.5 L1457.2,1662.2 L1459.2,1659.9 L1461.1,1657.5 L1463.0,1655.1 L1464.9,1652.6 L1466.7,1650.2 L1468.4,1647.7 L1470.2,1645.2 L1471.9,1642.6 L1473.5,1640.1 L1475.2,1637.5 L1476.8,1634.9 L1478.5,1632.3 L1480.1,1629.7 L1481.7,1627.1 L1483.3,1624.5 L1484.9,1621.9 L1486.5,1619.3 L1488.2,1616.7 L1489.8,1614.1 L1491.5,1611.6 L1493.2,1609.0 L1494.9,1606.5 L1496.7,1603.9 L1498.4,1601.4 L1500.2,1599.0 L1502.1,1596.5 L1503.9,1594.1 L1505.8,1591.7 L1507.7,1589.4 L1509.7,1587.1 L1511.7,1584.8 L1513.7,1582.5 L1515.8,1580.3 L1517.9,1578.2 L1520.0,1576.1 L1522.2,1574.0 L1524.4,1572.0 L1526.6,1570.1 L1528.9,1568.2 L1531.2,1566.4 L1533.6,1564.6 L1536.0,1562.9 L1538.4,1561.3 L1540.9,1559.7 L1543.4,1558.2 L1546.0,1556.8 L1548.6,1555.5 L1551.3,1554.2 L1554.0,1553.0 L1556.8,1551.9 L1559.6,1550.9 L1562.4,1550.0 L1565.3,1549.2 L1568.3,1548.4 L1571.3,1547.8 L1574.3,1547.2 L1577.4,1546.8 L1580.6,1546.4 L1583.8,1546.2 L1587.1,1546.1" stroke="#808000"/>
</g>
<rect x="1178.1" y="1144.5" width="409.2" height="647.3" fill="none" stroke="#000" stroke-width="4"/>
<g clip-path="url(#cB4)" fill="none" stroke-width="3.6" stroke-linejoin="round">
<path d="M1667.6,1657.5 L1670.5,1656.1 L1673.5,1654.8 L1676.5,1653.5 L1679.5,1652.4 L1682.4,1651.2 L1685.4,1650.2 L1688.4,1649.3 L1691.4,1648.4 L1694.4,1647.6 L1697.4,1646.9 L1700.3,1646.2 L1703.3,1645.6 L1706.3,1645.1 L1709.3,1644.7 L1712.3,1644.3 L1715.2,1644.0 L1718.2,1643.8 L1721.2,1643.7 L1724.1,1643.6 L1727.1,1643.6 L1730.0,1643.6 L1733.0,1643.8 L1735.9,1644.0 L1738.8,1644.2 L1741.7,1644.6 L1744.7,1645.0 L1747.5,1645.4 L1750.4,1646.0 L1753.3,1646.6 L1756.2,1647.2 L1759.0,1648.0 L1761.8,1648.8 L1764.6,1649.6 L1767.4,1650.6 L1770.2,1651.6 L1773.0,1652.6 L1775.7,1653.7 L1778.5,1654.9 L1781.2,1656.1 L1783.9,1657.4 L1786.6,1658.8 L1789.2,1660.2 L1791.9,1661.7 L1794.5,1663.3 L1797.1,1664.9 L1799.6,1666.5 L1802.2,1668.2 L1804.7,1670.0 L1807.2,1671.8 L1809.7,1673.7 L1812.1,1675.6 L1814.6,1677.6 L1817.0,1679.5 L1819.5,1681.6 L1821.9,1683.6 L1824.3,1685.7 L1826.6,1687.8 L1829.0,1689.9 L1831.4,1692.0 L1833.8,1694.1 L1836.1,1696.3 L1838.5,1698.4 L1840.8,1700.5 L1843.2,1702.7 L1845.6,1704.8 L1847.9,1706.9 L1850.3,1709.0 L1852.7,1711.1 L1855.1,1713.1 L1857.4,1715.1 L1859.8,1717.1 L1862.3,1719.1 L1864.7,1721.0 L1867.1,1722.8 L1869.6,1724.6 L1872.0,1726.4 L1874.5,1728.1 L1877.0,1729.8 L1879.6,1731.4 L1882.1,1732.9 L1884.7,1734.3 L1887.3,1735.7 L1889.9,1737.0 L1892.6,1738.2 L1895.3,1739.4 L1898.0,1740.4 L1900.7,1741.4 L1903.5,1742.2 L1906.3,1743.0 L1909.1,1743.7 L1912.0,1744.2 L1914.8,1744.7 L1917.7,1745.1 L1920.5,1745.3 L1923.4,1745.5 L1926.3,1745.6 L1929.2,1745.5 L1932.0,1745.4 L1934.9,1745.1 L1937.7,1744.8 L1940.6,1744.3 L1943.4,1743.7 L1946.2,1743.0 L1948.9,1742.2 L1951.7,1741.2 L1954.4,1740.2 L1957.0,1739.0 L1959.6,1737.7 L1962.2,1736.3 L1964.8,1734.8 L1967.3,1733.1 L1969.7,1731.4 L1972.2,1729.6 L1974.6,1727.8 L1976.9,1725.8 L1979.2,1723.8 L1981.5,1721.7 L1983.7,1719.5 L1985.9,1717.3 L1988.0,1715.1 L1990.1,1712.8 L1992.1,1710.5 L1994.2,1708.1 L1996.1,1705.7 L1998.1,1703.3 L2000.0,1700.9 L2001.8,1698.4 L2003.7,1695.9 L2005.4,1693.4 L2007.2,1690.9 L2008.9,1688.3 L2010.7,1685.8 L2012.3,1683.2 L2014.0,1680.5 L2015.6,1677.9 L2017.2,1675.3 L2018.8,1672.6 L2020.3,1669.9 L2021.9,1667.2 L2023.4,1664.5 L2024.9,1661.8 L2026.4,1659.1 L2027.9,1656.4 L2029.3,1653.6 L2030.8,1650.9 L2032.2,1648.1 L2033.7,1645.4 L2035.1,1642.6 L2036.5,1639.9 L2037.9,1637.1 L2039.3,1634.4 L2040.7,1631.6 L2042.1,1628.9 L2043.5,1626.2 L2044.9,1623.4 L2046.4,1620.7 L2047.8,1618.0 L2049.2,1615.3 L2050.6,1612.6 L2052.1,1609.9 L2053.5,1607.3 L2055.0,1604.6 L2056.4,1602.0 L2057.9,1599.4 L2059.4,1596.8 L2060.9,1594.2 L2062.5,1591.6 L2064.0,1589.1 L2065.6,1586.6 L2067.2,1584.1 L2068.8,1581.7 L2070.4,1579.2 L2072.1,1576.8 L2073.8,1574.4 L2075.5,1572.1 L2077.3,1569.8" stroke="#000000"/>
<path d="M1667.6,1506.4 L1670.8,1505.7 L1674.0,1505.1 L1677.1,1504.6 L1680.3,1504.1 L1683.4,1503.8 L1686.5,1503.5 L1689.6,1503.3 L1692.7,1503.1 L1695.7,1503.1 L1698.8,1503.1 L1701.8,1503.2 L1704.8,1503.4 L1707.8,1503.6 L1710.7,1503.9 L1713.7,1504.3 L1716.6,1504.7 L1719.5,1505.2 L1722.4,1505.8 L1725.2,1506.4 L1728.1,1507.1 L1730.9,1507.9 L1733.7,1508.7 L1736.5,1509.6 L1739.3,1510.6 L1742.0,1511.6 L1744.7,1512.7 L1747.4,1513.8 L1750.1,1515.0 L1752.7,1516.3 L1755.4,1517.6 L1758.0,1518.9 L1760.6,1520.4 L1763.1,1521.8 L1765.7,1523.3 L1768.2,1524.9 L1770.7,1526.5 L1773.2,1528.2 L1775.7,1529.9 L1778.1,1531.7 L1780.5,1533.5 L1782.9,1535.4 L1785.2,1537.3 L1787.6,1539.2 L1789.9,1541.2 L1792.2,1543.2 L1794.5,1545.3 L1796.7,1547.4 L1798.9,1549.6 L1801.1,1551.8 L1803.3,1554.0 L1805.5,1556.3 L1807.6,1558.6 L1809.7,1560.9 L1811.8,1563.2 L1813.9,1565.6 L1815.9,1568.0 L1818.0,1570.4 L1820.0,1572.8 L1822.1,1575.3 L1824.1,1577.7 L1826.1,1580.1 L1828.1,1582.6 L1830.1,1585.1 L1832.1,1587.5 L1834.1,1590.0 L1836.1,1592.4 L1838.1,1594.8 L1840.1,1597.2 L1842.2,1599.6 L1844.2,1602.0 L1846.2,1604.4 L1848.3,1606.7 L1850.3,1609.0 L1852.4,1611.3 L1854.5,1613.5 L1856.6,1615.7 L1858.7,1617.9 L1860.9,1620.0 L1863.0,1622.1 L1865.2,1624.1 L1867.5,1626.1 L1869.7,1628.1 L1872.0,1629.9 L1874.3,1631.7 L1876.6,1633.5 L1879.0,1635.2 L1881.4,1636.8 L1883.8,1638.4 L1886.3,1639.9 L1888.8,1641.3 L1891.4,1642.6 L1894.0,1643.9 L1896.6,1645.0 L1899.3,1646.1 L1902.0,1647.1 L1904.8,1648.0 L1907.6,1648.8 L1910.4,1649.4 L1913.2,1650.0 L1916.1,1650.4 L1918.9,1650.6 L1921.8,1650.8 L1924.6,1650.7 L1927.5,1650.5 L1930.3,1650.1 L1933.1,1649.6 L1935.9,1648.9 L1938.6,1648.0 L1941.3,1647.0 L1944.0,1645.9 L1946.6,1644.7 L1949.2,1643.3 L1951.7,1641.7 L1954.2,1640.1 L1956.6,1638.3 L1958.9,1636.5 L1961.2,1634.5 L1963.4,1632.4 L1965.6,1630.3 L1967.7,1628.0 L1969.8,1625.7 L1971.8,1623.3 L1973.8,1620.9 L1975.7,1618.3 L1977.6,1615.8 L1979.4,1613.2 L1981.2,1610.5 L1983.0,1607.9 L1984.7,1605.2 L1986.4,1602.5 L1988.1,1599.7 L1989.8,1597.0 L1991.5,1594.3 L1993.1,1591.6 L1994.7,1588.9 L1996.3,1586.2 L1997.9,1583.5 L1999.5,1580.8 L2001.1,1578.1 L2002.6,1575.4 L2004.2,1572.7 L2005.7,1570.0 L2007.2,1567.4 L2008.7,1564.7 L2010.1,1562.0 L2011.6,1559.4 L2013.1,1556.7 L2014.5,1554.1 L2015.9,1551.4 L2017.3,1548.7 L2018.8,1546.1 L2020.1,1543.4 L2021.5,1540.8 L2022.9,1538.1 L2024.3,1535.5 L2025.6,1532.8 L2027.0,1530.2 L2028.3,1527.5 L2029.7,1524.9 L2031.0,1522.2 L2032.3,1519.6 L2033.6,1516.9 L2035.0,1514.2 L2036.3,1511.6 L2037.6,1508.9 L2038.8,1506.3 L2040.1,1503.6 L2041.4,1500.9 L2042.7,1498.3 L2044.0,1495.6 L2045.3,1492.9 L2046.5,1490.2 L2047.8,1487.5 L2049.1,1484.8 L2050.3,1482.1 L2051.6,1479.4 L2052.9,1476.7 L2054.1,1474.0 L2055.4,1471.3 L2056.7,1468.6 L2057.9,1465.9 L2059.2,1463.1 L2060.5,1460.4 L2061.7,1457.6 L2063.0,1454.9 L2064.3,1452.1 L2065.6,1449.4 L2066.8,1446.6 L2068.1,1443.8 L2069.4,1441.0 L2070.7,1438.2 L2072.0,1435.4 L2073.3,1432.6 L2074.6,1429.8 L2075.9,1426.9 L2077.3,1424.1" stroke="#FF0000"/>
<path d="M1667.6,1475.9 L1670.8,1475.6 L1674.1,1475.3 L1677.2,1475.2 L1680.4,1475.1 L1683.6,1475.1 L1686.7,1475.1 L1689.8,1475.3 L1692.8,1475.5 L1695.9,1475.7 L1698.9,1476.0 L1701.9,1476.4 L1704.9,1476.9 L1707.8,1477.4 L1710.8,1478.0 L1713.7,1478.6 L1716.6,1479.3 L1719.4,1480.0 L1722.3,1480.8 L1725.1,1481.7 L1727.9,1482.6 L1730.7,1483.6 L1733.4,1484.7 L1736.2,1485.7 L1738.9,1486.9 L1741.6,1488.1 L1744.2,1489.3 L1746.9,1490.6 L1749.5,1491.9 L1752.1,1493.3 L1754.7,1494.8 L1757.3,1496.3 L1759.8,1497.8 L1762.4,1499.4 L1764.9,1501.0 L1767.4,1502.6 L1769.8,1504.3 L1772.3,1506.1 L1774.7,1507.9 L1777.1,1509.7 L1779.5,1511.5 L1781.9,1513.4 L1784.2,1515.4 L1786.6,1517.3 L1788.9,1519.3 L1791.2,1521.4 L1793.5,1523.5 L1795.7,1525.6 L1798.0,1527.7 L1800.2,1529.9 L1802.4,1532.0 L1804.6,1534.3 L1806.8,1536.5 L1809.0,1538.8 L1811.1,1541.1 L1813.3,1543.3 L1815.4,1545.7 L1817.5,1548.0 L1819.7,1550.3 L1821.8,1552.6 L1823.9,1554.9 L1826.1,1557.3 L1828.2,1559.6 L1830.4,1561.9 L1832.5,1564.2 L1834.7,1566.4 L1836.8,1568.7 L1839.0,1570.9 L1841.2,1573.2 L1843.4,1575.4 L1845.7,1577.5 L1847.9,1579.6 L1850.2,1581.7 L1852.5,1583.8 L1854.8,1585.8 L1857.2,1587.8 L1859.6,1589.7 L1862.0,1591.5 L1864.5,1593.4 L1866.9,1595.1 L1869.5,1596.8 L1872.0,1598.4 L1874.6,1600.0 L1877.2,1601.5 L1879.9,1602.9 L1882.5,1604.2 L1885.2,1605.4 L1887.9,1606.5 L1890.7,1607.5 L1893.4,1608.4 L1896.2,1609.1 L1898.9,1609.7 L1901.7,1610.2 L1904.5,1610.6 L1907.3,1610.8 L1910.1,1611.0 L1912.9,1611.0 L1915.7,1610.8 L1918.5,1610.6 L1921.3,1610.2 L1924.1,1609.7 L1926.8,1609.1 L1929.6,1608.4 L1932.3,1607.6 L1935.0,1606.6 L1937.6,1605.6 L1940.3,1604.4 L1942.8,1603.1 L1945.4,1601.7 L1947.9,1600.3 L1950.4,1598.7 L1952.8,1597.0 L1955.2,1595.2 L1957.5,1593.4 L1959.7,1591.4 L1962.0,1589.3 L1964.1,1587.2 L1966.2,1585.0 L1968.3,1582.7 L1970.3,1580.3 L1972.3,1577.9 L1974.2,1575.4 L1976.1,1572.9 L1978.0,1570.3 L1979.8,1567.7 L1981.6,1565.1 L1983.4,1562.4 L1985.1,1559.7 L1986.8,1557.0 L1988.5,1554.3 L1990.2,1551.6 L1991.8,1548.8 L1993.5,1546.1 L1995.1,1543.4 L1996.6,1540.7 L1998.2,1538.0 L1999.8,1535.3 L2001.3,1532.5 L2002.8,1529.8 L2004.3,1527.1 L2005.8,1524.4 L2007.3,1521.7 L2008.7,1519.0 L2010.2,1516.3 L2011.6,1513.6 L2013.0,1510.9 L2014.4,1508.2 L2015.8,1505.5 L2017.2,1502.8 L2018.6,1500.1 L2020.0,1497.4 L2021.3,1494.7 L2022.7,1492.0 L2024.0,1489.3 L2025.4,1486.6 L2026.7,1483.9 L2028.0,1481.2 L2029.3,1478.5 L2030.6,1475.8 L2031.9,1473.2 L2033.2,1470.5 L2034.5,1467.8 L2035.8,1465.1 L2037.1,1462.4 L2038.4,1459.7 L2039.7,1457.0 L2041.0,1454.3 L2042.3,1451.6 L2043.6,1448.9 L2044.8,1446.2 L2046.1,1443.5 L2047.4,1440.8 L2048.7,1438.1 L2050.0,1435.4 L2051.3,1432.7 L2052.6,1430.0 L2053.9,1427.3 L2055.2,1424.6 L2056.5,1421.9 L2057.9,1419.2 L2059.2,1416.5 L2060.5,1413.8 L2061.9,1411.1 L2063.2,1408.4 L2064.6,1405.7 L2066.0,1402.9 L2067.3,1400.2 L2068.7,1397.5 L2070.1,1394.8 L2071.6,1392.1 L2073.0,1389.4 L2074.4,1386.6 L2075.9,1383.9 L2077.3,1381.2" stroke="#0000FF"/>
<path d="M1667.4,1513.9 L1670.7,1513.0 L1673.9,1512.3 L1677.1,1511.6 L1680.2,1511.0 L1683.4,1510.4 L1686.5,1510.0 L1689.6,1509.6 L1692.7,1509.2 L1695.8,1508.9 L1698.8,1508.7 L1701.8,1508.6 L1704.9,1508.5 L1707.8,1508.5 L1710.8,1508.6 L1713.8,1508.7 L1716.7,1508.9 L1719.6,1509.1 L1722.5,1509.4 L1725.4,1509.8 L1728.3,1510.2 L1731.1,1510.6 L1734.0,1511.2 L1736.8,1511.7 L1739.6,1512.4 L1742.4,1513.1 L1745.2,1513.8 L1748.0,1514.6 L1750.8,1515.5 L1753.5,1516.4 L1756.3,1517.3 L1759.0,1518.3 L1761.8,1519.3 L1764.5,1520.4 L1767.2,1521.6 L1769.9,1522.8 L1772.6,1524.0 L1775.3,1525.2 L1778.0,1526.6 L1780.7,1527.9 L1783.3,1529.3 L1786.0,1530.7 L1788.7,1532.2 L1791.3,1533.7 L1794.0,1535.3 L1796.6,1536.9 L1799.3,1538.5 L1801.9,1540.2 L1804.6,1541.8 L1807.2,1543.6 L1809.9,1545.3 L1812.5,1547.1 L1815.2,1548.8 L1817.8,1550.6 L1820.5,1552.4 L1823.1,1554.2 L1825.8,1556.0 L1828.4,1557.8 L1831.1,1559.6 L1833.7,1561.4 L1836.4,1563.1 L1839.0,1564.9 L1841.7,1566.6 L1844.3,1568.3 L1847.0,1569.9 L1849.7,1571.6 L1852.4,1573.2 L1855.0,1574.7 L1857.7,1576.2 L1860.4,1577.7 L1863.1,1579.1 L1865.8,1580.4 L1868.5,1581.7 L1871.2,1582.9 L1874.0,1584.1 L1876.7,1585.2 L1879.4,1586.2 L1882.2,1587.1 L1884.9,1587.9 L1887.7,1588.7 L1890.5,1589.4 L1893.3,1589.9 L1896.0,1590.4 L1898.9,1590.8 L1901.7,1591.0 L1904.5,1591.2 L1907.3,1591.2 L1910.1,1591.2 L1912.9,1591.0 L1915.8,1590.8 L1918.6,1590.4 L1921.4,1590.0 L1924.2,1589.5 L1926.9,1588.8 L1929.7,1588.1 L1932.5,1587.3 L1935.2,1586.4 L1937.9,1585.3 L1940.6,1584.2 L1943.2,1583.0 L1945.8,1581.8 L1948.4,1580.4 L1951.0,1578.9 L1953.5,1577.4 L1955.9,1575.7 L1958.4,1574.0 L1960.8,1572.2 L1963.1,1570.3 L1965.4,1568.4 L1967.7,1566.4 L1969.9,1564.3 L1972.1,1562.1 L1974.2,1559.9 L1976.3,1557.7 L1978.4,1555.4 L1980.4,1553.0 L1982.4,1550.6 L1984.4,1548.2 L1986.3,1545.8 L1988.2,1543.3 L1990.1,1540.8 L1991.9,1538.3 L1993.7,1535.8 L1995.5,1533.2 L1997.2,1530.7 L1999.0,1528.1 L2000.6,1525.5 L2002.3,1522.9 L2003.9,1520.3 L2005.5,1517.7 L2007.1,1515.0 L2008.7,1512.4 L2010.2,1509.8 L2011.7,1507.1 L2013.2,1504.4 L2014.7,1501.7 L2016.2,1499.1 L2017.6,1496.4 L2019.1,1493.7 L2020.5,1490.9 L2021.9,1488.2 L2023.3,1485.5 L2024.6,1482.8 L2026.0,1480.1 L2027.4,1477.3 L2028.7,1474.6 L2030.0,1471.9 L2031.4,1469.1 L2032.7,1466.4 L2034.0,1463.7 L2035.3,1460.9 L2036.6,1458.2 L2037.9,1455.4 L2039.2,1452.7 L2040.5,1450.0 L2041.9,1447.2 L2043.2,1444.5 L2044.5,1441.8 L2045.8,1439.1 L2047.1,1436.4 L2048.4,1433.6 L2049.7,1430.9 L2051.1,1428.2 L2052.4,1425.6 L2053.8,1422.9 L2055.1,1420.2 L2056.5,1417.5 L2057.9,1414.9 L2059.3,1412.2 L2060.7,1409.6 L2062.1,1407.0 L2063.6,1404.3 L2065.0,1401.7 L2066.5,1399.2 L2068.0,1396.6 L2069.5,1394.0 L2071.0,1391.5 L2072.6,1388.9 L2074.2,1386.4 L2075.8,1383.9 L2077.4,1381.4" stroke="#008080"/>
<path d="M1667.5,1491.0 L1670.7,1490.2 L1673.9,1489.5 L1677.1,1488.9 L1680.2,1488.3 L1683.3,1487.8 L1686.4,1487.4 L1689.5,1487.0 L1692.6,1486.6 L1695.7,1486.3 L1698.7,1486.1 L1701.8,1485.9 L1704.8,1485.8 L1707.8,1485.7 L1710.8,1485.7 L1713.8,1485.7 L1716.7,1485.8 L1719.7,1485.9 L1722.6,1486.1 L1725.6,1486.3 L1728.5,1486.6 L1731.4,1486.9 L1734.3,1487.3 L1737.2,1487.8 L1740.0,1488.3 L1742.9,1488.8 L1745.8,1489.4 L1748.6,1490.0 L1751.5,1490.7 L1754.3,1491.5 L1757.1,1492.2 L1759.9,1493.1 L1762.7,1493.9 L1765.5,1494.9 L1768.3,1495.8 L1771.1,1496.9 L1773.9,1497.9 L1776.6,1499.0 L1779.4,1500.2 L1782.1,1501.4 L1784.9,1502.6 L1787.6,1503.9 L1790.4,1505.2 L1793.1,1506.6 L1795.8,1508.0 L1798.6,1509.5 L1801.3,1511.0 L1804.0,1512.5 L1806.7,1514.1 L1809.4,1515.7 L1812.1,1517.3 L1814.8,1519.0 L1817.5,1520.7 L1820.2,1522.3 L1822.9,1524.0 L1825.6,1525.7 L1828.3,1527.5 L1831.0,1529.2 L1833.7,1530.9 L1836.4,1532.5 L1839.1,1534.2 L1841.8,1535.9 L1844.5,1537.5 L1847.2,1539.1 L1849.9,1540.7 L1852.6,1542.2 L1855.3,1543.7 L1858.0,1545.2 L1860.7,1546.6 L1863.4,1548.0 L1866.2,1549.3 L1868.9,1550.5 L1871.6,1551.7 L1874.3,1552.8 L1877.1,1553.9 L1879.8,1554.8 L1882.6,1555.7 L1885.3,1556.5 L1888.1,1557.2 L1890.8,1557.9 L1893.6,1558.4 L1896.4,1558.8 L1899.2,1559.2 L1902.0,1559.4 L1904.8,1559.5 L1907.6,1559.5 L1910.4,1559.4 L1913.1,1559.2 L1915.9,1559.0 L1918.7,1558.6 L1921.5,1558.1 L1924.3,1557.5 L1927.0,1556.9 L1929.8,1556.1 L1932.5,1555.3 L1935.3,1554.3 L1938.0,1553.3 L1940.6,1552.2 L1943.3,1551.0 L1945.9,1549.7 L1948.5,1548.3 L1951.1,1546.9 L1953.7,1545.4 L1956.2,1543.8 L1958.7,1542.1 L1961.1,1540.3 L1963.5,1538.5 L1965.9,1536.6 L1968.2,1534.6 L1970.6,1532.6 L1972.8,1530.6 L1975.1,1528.4 L1977.3,1526.3 L1979.5,1524.0 L1981.6,1521.8 L1983.7,1519.5 L1985.8,1517.2 L1987.9,1514.8 L1989.9,1512.4 L1991.9,1510.0 L1993.8,1507.6 L1995.7,1505.2 L1997.6,1502.7 L1999.5,1500.2 L2001.3,1497.7 L2003.1,1495.2 L2004.9,1492.7 L2006.6,1490.2 L2008.4,1487.6 L2010.1,1485.0 L2011.7,1482.5 L2013.4,1479.9 L2015.0,1477.3 L2016.6,1474.6 L2018.2,1472.0 L2019.8,1469.4 L2021.4,1466.7 L2022.9,1464.1 L2024.4,1461.4 L2025.9,1458.7 L2027.4,1456.1 L2028.9,1453.4 L2030.4,1450.7 L2031.8,1448.0 L2033.3,1445.3 L2034.7,1442.6 L2036.1,1439.9 L2037.5,1437.2 L2038.9,1434.5 L2040.3,1431.8 L2041.7,1429.1 L2043.1,1426.4 L2044.5,1423.7 L2045.9,1421.0 L2047.3,1418.3 L2048.7,1415.6 L2050.0,1412.9 L2051.4,1410.2 L2052.8,1407.5 L2054.2,1404.9 L2055.6,1402.2 L2057.0,1399.6 L2058.3,1396.9 L2059.7,1394.3 L2061.1,1391.6 L2062.6,1389.0 L2064.0,1386.4 L2065.4,1383.8 L2066.9,1381.2 L2068.3,1378.6 L2069.8,1376.1 L2071.2,1373.5 L2072.7,1371.0 L2074.2,1368.5 L2075.7,1366.0 L2077.3,1363.5" stroke="#FF00FF"/>
<path d="M1667.8,1388.8 L1670.8,1389.0 L1673.8,1389.1 L1676.8,1389.3 L1679.8,1389.5 L1682.8,1389.6 L1685.8,1389.8 L1688.8,1389.9 L1691.8,1390.0 L1694.8,1390.2 L1697.9,1390.3 L1700.9,1390.4 L1703.9,1390.5 L1707.0,1390.6 L1710.0,1390.7 L1713.1,1390.8 L1716.1,1390.8 L1719.2,1390.9 L1722.2,1390.9 L1725.3,1391.0 L1728.3,1391.0 L1731.4,1391.0 L1734.4,1391.0 L1737.5,1391.0 L1740.5,1391.0 L1743.6,1390.9 L1746.6,1390.9 L1749.7,1390.8 L1752.8,1390.8 L1755.8,1390.7 L1758.9,1390.6 L1761.9,1390.5 L1765.0,1390.4 L1768.0,1390.2 L1771.1,1390.1 L1774.2,1389.9 L1777.2,1389.7 L1780.3,1389.6 L1783.3,1389.3 L1786.4,1389.1 L1789.4,1388.9 L1792.4,1388.6 L1795.5,1388.4 L1798.5,1388.1 L1801.5,1387.8 L1804.6,1387.5 L1807.6,1387.1 L1810.6,1386.8 L1813.6,1386.4 L1816.7,1386.0 L1819.7,1385.6 L1822.7,1385.2 L1825.7,1384.7 L1828.7,1384.3 L1831.7,1383.8 L1834.7,1383.3 L1837.6,1382.8 L1840.6,1382.2 L1843.6,1381.7 L1846.6,1381.1 L1849.5,1380.5 L1852.5,1379.9 L1855.4,1379.2 L1858.4,1378.6 L1861.3,1377.9 L1864.2,1377.2 L1867.1,1376.4 L1870.0,1375.7 L1872.9,1374.9 L1875.8,1374.1 L1878.7,1373.3 L1881.6,1372.4 L1884.5,1371.6 L1887.3,1370.7 L1890.2,1369.8 L1893.0,1368.8 L1895.9,1367.9 L1898.7,1366.9 L1901.5,1365.9 L1904.3,1364.8 L1907.1,1363.8 L1909.9,1362.7 L1912.7,1361.6 L1915.5,1360.4 L1918.2,1359.3 L1921.0,1358.1 L1923.7,1356.9 L1926.5,1355.7 L1929.2,1354.4 L1931.9,1353.1 L1934.6,1351.9 L1937.3,1350.5 L1940.0,1349.2 L1942.6,1347.8 L1945.3,1346.4 L1947.9,1345.0 L1950.6,1343.6 L1953.2,1342.2 L1955.8,1340.7 L1958.4,1339.2 L1961.0,1337.7 L1963.6,1336.1 L1966.2,1334.6 L1968.7,1333.0 L1971.3,1331.4 L1973.8,1329.8 L1976.3,1328.1 L1978.8,1326.4 L1981.3,1324.8 L1983.8,1323.0 L1986.3,1321.3 L1988.8,1319.6 L1991.2,1317.8 L1993.6,1316.0 L1996.1,1314.2 L1998.5,1312.4 L2000.9,1310.5 L2003.3,1308.7 L2005.7,1306.8 L2008.0,1304.9 L2010.4,1302.9 L2012.7,1301.0 L2015.0,1299.0 L2017.3,1297.0 L2019.6,1295.0 L2021.9,1293.0 L2024.2,1291.0 L2026.5,1288.9 L2028.7,1286.8 L2030.9,1284.7 L2033.1,1282.6 L2035.3,1280.5 L2037.5,1278.3 L2039.7,1276.2 L2041.9,1274.0 L2044.0,1271.8 L2046.1,1269.6 L2048.3,1267.3 L2050.4,1265.1 L2052.5,1262.8 L2054.5,1260.5 L2056.6,1258.2 L2058.6,1255.9 L2060.7,1253.5 L2062.7,1251.2 L2064.7,1248.8 L2066.7,1246.4 L2068.6,1244.0 L2070.6,1241.6 L2072.5,1239.2 L2074.4,1236.7 L2076.3,1234.2" stroke="#808000"/>
</g>
<rect x="1668" y="1144.5" width="409.3" height="647.3" fill="none" stroke="#000" stroke-width="4"/>
<path d="M199,1791.8 V1810.5 M403.2,1791.8 V1810.5 M607.5,1791.8 V1810.5 M776.3,1791.8 V1810.5 M952.3,1791.8 V1810.5 M1178.1,1791.8 V1810.5 M1382.8,1791.8 V1810.5 M1587.4,1791.8 V1810.5 M1709.3,1791.8 V1810.5 M1872.2,1791.8 V1810.5 M2035.7,1791.8 V1810.5 M301,1791.8 V1801 M505.4,1791.8 V1801 M688.2,1791.8 V1801 M864.3,1791.8 V1801 M1040.4,1791.8 V1801 M1280.5,1791.8 V1801 M1485.1,1791.8 V1801 M1790.8,1791.8 V1801 M1954,1791.8 V1801" stroke="#000" stroke-width="4" fill="none"/>
<text transform="translate(200.0,1859.5)" font-size="48.0" fill="#000" text-anchor="middle">3000</text>
<text transform="translate(404.2,1859.5)" font-size="48.0" fill="#000" text-anchor="middle">2900</text>
<text transform="translate(608.5,1859.5)" font-size="48.0" fill="#000" text-anchor="middle">2800</text>
<text transform="translate(777.3,1859.5)" font-size="48.0" fill="#000" text-anchor="middle">3600</text>
<text transform="translate(953.3,1859.5)" font-size="48.0" fill="#000" text-anchor="middle">3300</text>
<text transform="translate(1179.1,1859.5)" font-size="48.0" fill="#000" text-anchor="middle">1760</text>
<text transform="translate(1383.8,1859.5)" font-size="48.0" fill="#000" text-anchor="middle">1720</text>
<text transform="translate(1588.4,1859.5)" font-size="48.0" fill="#000" text-anchor="middle">1680</text>
<text transform="translate(1710.3,1859.5)" font-size="48.0" fill="#000" text-anchor="middle">910</text>
<text transform="translate(1873.2,1859.5)" font-size="48.0" fill="#000" text-anchor="middle">900</text>
<text transform="translate(2036.7,1859.5)" font-size="48.0" fill="#000" text-anchor="middle">890</text>
<path d="M302.9,1172.8 H401.4" stroke="#000000" stroke-width="4.2"/>
<text transform="translate(408.5,1186.9)" font-size="33.5" fill="#000">untreated</text>
<path d="M302.9,1225.4 H401.4" stroke="#FF0000" stroke-width="4.2"/>
<text transform="translate(408.5,1239.5)" font-size="33.5" fill="#000">10 min</text>
<path d="M302.9,1277.8 H401.4" stroke="#0000FF" stroke-width="4.2"/>
<text transform="translate(408.5,1291.9)" font-size="33.5" fill="#000">20 min</text>
<path d="M302.9,1330.9 H401.4" stroke="#008080" stroke-width="4.2"/>
<text transform="translate(408.5,1345.0)" font-size="33.5" fill="#000">30 min</text>
<path d="M302.9,1383.6 H401.4" stroke="#FF00FF" stroke-width="4.2"/>
<text transform="translate(408.5,1397.7)" font-size="33.5" fill="#000">40 min</text>
<path d="M302.9,1436.7 H401.4" stroke="#808000" stroke-width="4.2"/>
<text transform="translate(408.5,1450.8)" font-size="33.5" fill="#000">50 min</text>
<path d="M802,1190.3 H899.5" stroke="#000000" stroke-width="4.2"/>
<text transform="translate(908.6,1207.9)" font-size="42.0" fill="#000">untreated</text>
<path d="M802,1243 H899.5" stroke="#FF0000" stroke-width="4.2"/>
<text transform="translate(908.6,1260.6)" font-size="42.0" fill="#000">10 min</text>
<path d="M802,1295.7 H899.5" stroke="#0000FF" stroke-width="4.2"/>
<text transform="translate(908.6,1313.3)" font-size="42.0" fill="#000">20 min</text>
<path d="M802,1348.8 H899.5" stroke="#008080" stroke-width="4.2"/>
<text transform="translate(908.6,1366.4)" font-size="42.0" fill="#000">30 min</text>
<path d="M802,1401.5 H899.5" stroke="#FF00FF" stroke-width="4.2"/>
<text transform="translate(908.6,1419.1)" font-size="42.0" fill="#000">40 min</text>
<path d="M802,1454.6 H899.5" stroke="#808000" stroke-width="4.2"/>
<text transform="translate(908.6,1472.2)" font-size="42.0" fill="#000">50 min</text>
<path d="M1266.1,1162.3 H1363.7" stroke="#000000" stroke-width="4.2"/>
<text transform="translate(1371.7,1176.6)" font-size="34.0" fill="#000">untreated</text>
<path d="M1266.1,1215.4 H1363.7" stroke="#FF0000" stroke-width="4.2"/>
<text transform="translate(1371.7,1229.7)" font-size="34.0" fill="#000">10 min</text>
<path d="M1266.1,1267.4 H1363.7" stroke="#0000FF" stroke-width="4.2"/>
<text transform="translate(1371.7,1281.7)" font-size="34.0" fill="#000">20 min</text>
<path d="M1266.1,1320.1 H1363.7" stroke="#008080" stroke-width="4.2"/>
<text transform="translate(1371.7,1334.4)" font-size="34.0" fill="#000">30 min</text>
<path d="M1266.1,1373.9 H1363.7" stroke="#FF00FF" stroke-width="4.2"/>
<text transform="translate(1371.7,1388.2)" font-size="34.0" fill="#000">40 min</text>
<path d="M1266.1,1425.9 H1363.7" stroke="#808000" stroke-width="4.2"/>
<text transform="translate(1371.7,1440.2)" font-size="34.0" fill="#000">50 min</text>
<path d="M1677.9,1172.3 H1760.4" stroke="#000000" stroke-width="4.2"/>
<text transform="translate(1766.6,1184.5)" font-size="29.0" fill="#000">untreated</text>
<path d="M1677.9,1217.9 H1760.4" stroke="#FF0000" stroke-width="4.2"/>
<text transform="translate(1766.6,1230.1)" font-size="29.0" fill="#000">10 min</text>
<path d="M1677.9,1263.8 H1760.4" stroke="#0000FF" stroke-width="4.2"/>
<text transform="translate(1766.6,1276.0)" font-size="29.0" fill="#000">20 min</text>
<path d="M1677.9,1309.3 H1760.4" stroke="#008080" stroke-width="4.2"/>
<text transform="translate(1766.6,1321.5)" font-size="29.0" fill="#000">30 min</text>
<path d="M1859,1219.7 H1943.4" stroke="#FF00FF" stroke-width="4.2"/>
<text transform="translate(1947.7,1231.9)" font-size="29.0" fill="#000">40 min</text>
<path d="M1859,1266.3 H1943.4" stroke="#808000" stroke-width="4.2"/>
<text transform="translate(1947.7,1278.5)" font-size="29.0" fill="#000">50 min</text>
<text transform="translate(38.0,1197.6)" font-size="124.6" fill="#000">B</text>
<text transform="translate(125.1,1181.0)" font-size="75.0" fill="#000">(1)</text>
<text transform="translate(607.3,1181.0)" font-size="75.0" fill="#000">(2)</text>
<text transform="translate(1097.3,1181.0)" font-size="75.0" fill="#000">(3)</text>
<text transform="translate(1583.0,1181.0)" font-size="75.0" fill="#000">(4)</text>
<text transform="translate(96.5,1775.5) rotate(-90) scale(0.957,1)" font-size="78.5">Absorbance (a.u.)</text>
<text transform="translate(819.5,1936.4) scale(0.963,1)" font-size="77.9" fill="#000">Wavelength (cm</text>
<text transform="translate(1337.0,1912.4)" font-size="50.0" fill="#000">-</text>
<text transform="translate(1354.0,1911.9)" font-size="50.0" fill="#000">1</text>
<text transform="translate(1378.5,1936.4)" font-size="77.9" fill="#000">)</text>
</svg>
</body></html>
